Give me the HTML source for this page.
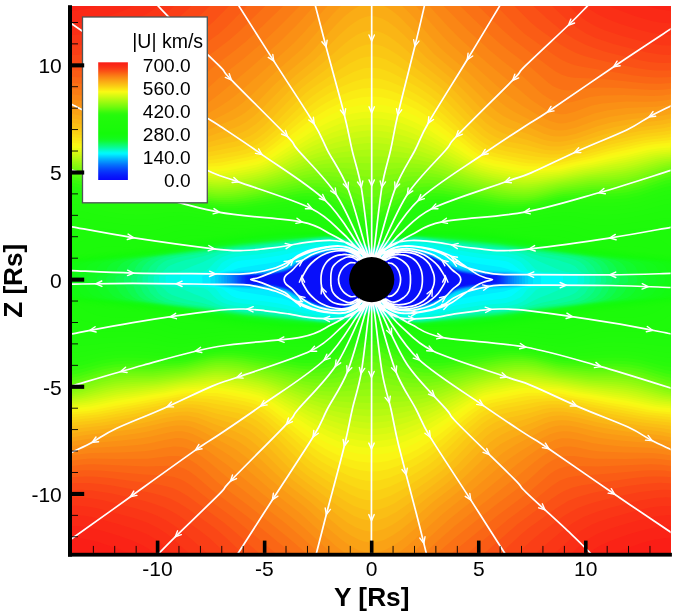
<!DOCTYPE html>
<html><head><meta charset="utf-8"><title>|U| km/s</title>
<style>html,body{margin:0;padding:0;background:#fff}body{width:685px;height:612px;position:relative;overflow:hidden}</style>
</head><body>
<svg width="685" height="612" viewBox="0 0 685 612" style="position:absolute;left:0;top:0">
<defs><clipPath id="pc"><rect x="70.0" y="5.9" width="600.6" height="549.0"/></clipPath>
<linearGradient id="lg" x1="0" y1="0" x2="0" y2="1"><stop offset="0.000" stop-color="#fa1c16"/><stop offset="0.010" stop-color="#fa2116"/><stop offset="0.020" stop-color="#fa2616"/><stop offset="0.030" stop-color="#fa2c16"/><stop offset="0.040" stop-color="#fa3216"/><stop offset="0.050" stop-color="#fa3a16"/><stop offset="0.060" stop-color="#fa4216"/><stop offset="0.070" stop-color="#fa4c16"/><stop offset="0.080" stop-color="#fa5615"/><stop offset="0.090" stop-color="#fa6115"/><stop offset="0.100" stop-color="#fa6c15"/><stop offset="0.110" stop-color="#fa7715"/><stop offset="0.120" stop-color="#fa8115"/><stop offset="0.130" stop-color="#fa8b15"/><stop offset="0.140" stop-color="#fa9415"/><stop offset="0.150" stop-color="#fa9e15"/><stop offset="0.160" stop-color="#faa715"/><stop offset="0.170" stop-color="#fab015"/><stop offset="0.180" stop-color="#fab915"/><stop offset="0.190" stop-color="#fac215"/><stop offset="0.200" stop-color="#facb14"/><stop offset="0.210" stop-color="#fad414"/><stop offset="0.220" stop-color="#fade14"/><stop offset="0.230" stop-color="#fae714"/><stop offset="0.240" stop-color="#faf014"/><stop offset="0.250" stop-color="#fafa14"/><stop offset="0.260" stop-color="#f0fa14"/><stop offset="0.270" stop-color="#e6fa13"/><stop offset="0.280" stop-color="#dbfa13"/><stop offset="0.290" stop-color="#d1fa12"/><stop offset="0.300" stop-color="#c6fa12"/><stop offset="0.310" stop-color="#bbfa11"/><stop offset="0.320" stop-color="#b0fa11"/><stop offset="0.330" stop-color="#a6fa10"/><stop offset="0.340" stop-color="#9bfa10"/><stop offset="0.350" stop-color="#90fa0f"/><stop offset="0.360" stop-color="#85fa0f"/><stop offset="0.370" stop-color="#7bfa0e"/><stop offset="0.380" stop-color="#70fa0e"/><stop offset="0.390" stop-color="#64fa0d"/><stop offset="0.400" stop-color="#58fa0d"/><stop offset="0.410" stop-color="#4afa0c"/><stop offset="0.420" stop-color="#3efa0c"/><stop offset="0.430" stop-color="#33fa0b"/><stop offset="0.440" stop-color="#2bfa0b"/><stop offset="0.450" stop-color="#26fa0b"/><stop offset="0.460" stop-color="#24fa0b"/><stop offset="0.470" stop-color="#22fa0b"/><stop offset="0.480" stop-color="#21fa0b"/><stop offset="0.490" stop-color="#20fa0b"/><stop offset="0.500" stop-color="#1efa0a"/><stop offset="0.510" stop-color="#1efa0a"/><stop offset="0.520" stop-color="#1dfa0a"/><stop offset="0.530" stop-color="#1cfa0a"/><stop offset="0.540" stop-color="#1bfa0a"/><stop offset="0.550" stop-color="#1bfa0a"/><stop offset="0.560" stop-color="#1afa0a"/><stop offset="0.570" stop-color="#19fa0a"/><stop offset="0.580" stop-color="#17fa0a"/><stop offset="0.590" stop-color="#16fa0a"/><stop offset="0.600" stop-color="#14fa0a"/><stop offset="0.610" stop-color="#14fa0c"/><stop offset="0.620" stop-color="#14fa0f"/><stop offset="0.630" stop-color="#13fa13"/><stop offset="0.640" stop-color="#13fa18"/><stop offset="0.650" stop-color="#12fa1e"/><stop offset="0.660" stop-color="#12fa27"/><stop offset="0.670" stop-color="#10fa35"/><stop offset="0.680" stop-color="#0ffa47"/><stop offset="0.690" stop-color="#0dfa5a"/><stop offset="0.700" stop-color="#0cfa6c"/><stop offset="0.710" stop-color="#0bfa7e"/><stop offset="0.720" stop-color="#09fa92"/><stop offset="0.730" stop-color="#07faa7"/><stop offset="0.740" stop-color="#05fabc"/><stop offset="0.750" stop-color="#04fad1"/><stop offset="0.760" stop-color="#02fae5"/><stop offset="0.770" stop-color="#01faf7"/><stop offset="0.780" stop-color="#00f2ff"/><stop offset="0.790" stop-color="#01e3ff"/><stop offset="0.800" stop-color="#01d4fe"/><stop offset="0.810" stop-color="#02c5fe"/><stop offset="0.820" stop-color="#02b6fe"/><stop offset="0.830" stop-color="#03a8fd"/><stop offset="0.840" stop-color="#039afd"/><stop offset="0.850" stop-color="#048dfd"/><stop offset="0.860" stop-color="#0480fc"/><stop offset="0.870" stop-color="#0473fc"/><stop offset="0.880" stop-color="#0567fc"/><stop offset="0.890" stop-color="#055cfc"/><stop offset="0.900" stop-color="#0651fc"/><stop offset="0.910" stop-color="#0647fb"/><stop offset="0.920" stop-color="#063dfb"/><stop offset="0.930" stop-color="#0734fb"/><stop offset="0.940" stop-color="#072cfb"/><stop offset="0.950" stop-color="#0725fb"/><stop offset="0.960" stop-color="#071efa"/><stop offset="0.970" stop-color="#0718fa"/><stop offset="0.980" stop-color="#0812fa"/><stop offset="0.990" stop-color="#080dfa"/><stop offset="1.000" stop-color="#0808fa"/></linearGradient></defs>
<g clip-path="url(#pc)" shape-rendering="geometricPrecision">
<rect x="70.0" y="5.9" width="600.6" height="549.0" fill="#080afa"/>
<path fill="#080ffa" d="M70.0 3.9 674.0 3.9 674.0 555.9 70.0 555.9Z"/>
<path fill="#0815fa" d="M70.0 3.9 674.0 3.9 674.0 555.9 70.0 555.9ZM332.0 251.8 330.0 253.6 324.0 253.8 322.0 255.6 317.3 255.9 316.0 257.2 312.0 257.8 310.0 259.7 308.0 259.8 306.0 261.6 303.7 261.9 302.0 263.6 300.0 263.8 296.0 267.1 293.7 267.9 292.0 269.6 290.5 269.9 288.0 271.7 285.8 271.9 284.0 273.5 278.0 273.8 277.4 273.9 276.0 275.2 274.0 275.5 250.2 275.9 249.8 281.9 262.0 282.6 264.0 283.0 266.0 284.0 278.0 284.4 279.9 285.9 286.0 286.3 287.6 287.9 290.0 288.3 294.1 291.9 296.0 292.2 297.7 293.9 300.0 294.5 301.4 295.9 304.0 296.6 305.3 297.9 308.0 298.7 309.2 299.9 312.0 300.4 313.5 301.9 316.0 302.1 318.3 303.9 324.0 304.3 326.0 306.0 332.0 306.1 334.0 306.6 335.3 307.9 342.0 308.0 344.0 306.1 347.3 305.9 350.0 304.0 351.0 303.9 352.0 302.9 355.0 301.9 356.0 300.9 358.0 300.1 360.4 299.9 362.0 298.3 367.0 297.9 368.0 296.9 370.0 296.1 372.0 296.0 374.0 296.1 376.0 298.0 380.0 298.1 382.0 298.8 383.1 299.9 386.0 300.1 388.0 302.0 390.0 302.1 392.0 304.0 394.0 304.1 396.0 306.0 400.0 306.2 401.7 307.9 408.0 308.0 410.0 306.3 418.0 306.0 420.0 304.2 424.6 303.9 426.0 302.5 430.3 301.9 432.0 300.2 434.3 299.9 436.0 298.2 438.0 298.0 440.0 296.2 442.3 295.9 444.0 294.2 446.0 294.0 450.0 290.3 452.0 290.0 454.0 288.2 456.3 287.9 458.0 286.2 463.1 285.9 464.0 285.0 466.0 284.3 478.0 283.9 480.0 282.8 482.0 282.5 493.4 281.9 493.4 277.9 492.7 275.9 470.0 275.6 468.0 275.4 465.9 273.9 460.0 273.6 458.0 273.0 456.9 271.9 454.0 271.4 450.0 267.8 448.0 267.6 446.3 265.9 443.4 263.9 442.0 263.7 440.0 261.8 438.0 261.7 436.2 259.9 434.0 259.7 431.9 257.9 428.0 257.6 426.0 255.8 422.0 255.7 420.0 253.9 414.0 253.7 412.0 252.8 411.1 251.9 400.0 251.8 398.0 253.7 395.6 253.9 394.0 255.5 391.6 255.9 390.0 257.5 387.5 257.9 386.0 259.4 381.5 259.9 380.0 261.4 374.0 261.8 372.0 263.7 370.0 263.2 368.7 261.9 364.0 261.6 362.0 259.8 358.0 259.6 356.3 257.9 354.0 257.7 352.0 255.8 350.0 255.7 348.2 253.9 346.0 253.7 344.0 251.8Z"/>
<path fill="#071bfa" d="M70.0 3.9 674.0 3.9 674.0 555.9 70.0 555.9ZM332.0 251.7 331.3 251.9 330.0 253.2 324.0 253.7 322.0 255.2 316.6 255.9 314.0 257.5 312.0 257.7 310.0 259.4 308.0 259.6 306.0 261.3 303.4 261.9 302.0 263.3 300.0 263.6 298.0 265.4 296.4 265.9 293.4 267.9 292.0 269.3 290.0 269.8 288.0 271.4 285.3 271.9 284.0 273.1 278.0 273.6 274.0 275.1 272.0 275.3 247.9 275.9 247.9 281.9 250.0 282.6 260.0 283.0 263.5 283.9 276.0 284.6 278.0 285.0 280.0 286.1 286.0 286.8 287.1 287.9 290.0 288.7 294.0 292.1 296.0 292.5 297.4 293.9 300.6 295.9 302.0 296.3 304.4 297.9 306.0 298.2 308.2 299.9 312.0 301.0 312.9 301.9 316.0 302.4 318.0 304.0 324.0 304.7 325.2 305.9 326.0 306.1 332.0 306.4 334.6 307.9 342.0 308.1 344.0 306.4 348.0 306.0 350.0 304.2 352.0 303.9 354.0 302.2 356.0 301.9 358.0 300.2 360.8 299.9 362.0 298.7 364.0 298.2 368.0 297.9 370.0 296.3 372.0 296.2 374.0 296.4 376.0 298.1 380.0 298.3 382.1 299.9 386.0 300.3 388.0 302.1 390.0 302.2 392.0 304.1 394.0 304.2 396.0 306.1 400.0 306.6 401.3 307.9 408.0 308.1 409.0 307.9 410.0 306.9 412.0 306.3 418.0 306.1 420.0 304.4 425.2 303.9 426.0 303.1 428.0 302.3 430.6 301.9 432.0 300.5 434.7 299.9 436.0 298.6 438.7 297.9 440.0 296.6 442.7 295.9 444.0 294.6 446.0 294.2 450.0 290.9 452.5 289.9 454.0 288.4 456.7 287.9 458.0 286.6 464.0 285.9 466.0 284.8 468.0 284.5 479.9 283.9 484.0 282.9 492.0 282.6 495.5 281.9 495.5 275.9 472.0 275.3 468.0 274.7 466.0 273.7 460.0 273.2 457.9 271.9 454.0 270.8 450.0 267.6 448.0 267.2 444.0 263.8 442.0 263.5 440.0 261.7 438.0 261.5 436.0 259.7 434.0 259.5 432.0 257.8 428.0 257.1 426.8 255.9 426.0 255.7 422.0 255.4 420.0 253.8 414.0 253.4 412.0 251.9 400.0 251.7 398.0 253.4 395.1 253.9 394.0 255.0 391.2 255.9 390.0 257.1 386.9 257.9 386.0 258.8 384.0 259.6 381.0 259.9 380.0 260.9 378.0 261.6 374.0 261.7 372.0 263.4 369.5 261.9 364.0 261.3 362.0 259.7 358.0 259.3 356.6 257.9 354.0 257.5 352.0 255.7 350.0 255.4 348.5 253.9 346.0 253.5 344.0 251.7Z"/>
<path fill="#0721fb" d="M70.0 3.9 674.0 3.9 674.0 555.9 70.0 555.9ZM332.0 251.6 330.9 251.9 330.0 252.8 328.0 253.4 324.0 253.6 323.0 253.9 322.0 254.9 316.0 255.9 314.0 257.3 312.0 257.5 310.0 259.1 308.0 259.5 306.0 261.1 303.1 261.9 302.0 263.0 300.0 263.5 298.0 265.2 296.0 265.8 292.0 269.0 290.0 269.6 288.0 271.2 284.8 271.9 284.0 272.6 278.0 273.4 272.0 275.0 246.5 275.9 246.5 281.9 248.0 282.8 250.0 283.2 258.0 283.4 266.0 284.3 274.0 284.7 276.0 284.9 280.0 286.3 284.0 286.7 290.0 289.1 294.0 292.2 296.0 292.8 300.0 295.9 302.0 296.5 304.0 298.0 306.0 298.4 308.0 300.0 310.0 300.4 312.3 301.9 316.0 302.6 318.0 304.1 322.0 304.4 324.0 305.1 324.8 305.9 326.0 306.2 332.0 306.7 334.0 307.9 342.0 308.2 344.0 306.6 348.0 306.1 350.0 304.3 352.0 304.0 354.0 302.3 356.0 302.0 358.0 300.4 361.3 299.9 362.0 299.2 364.0 298.4 368.0 298.0 370.0 296.5 372.0 296.3 374.0 296.7 376.0 298.2 380.0 298.5 382.0 300.0 386.0 300.5 388.0 302.2 390.0 302.4 392.0 304.2 394.0 304.4 396.0 306.2 398.0 306.3 400.0 307.0 400.9 307.9 408.0 308.2 409.5 307.9 412.0 306.6 418.0 306.2 420.0 304.7 425.8 303.9 428.0 302.5 430.9 301.9 432.0 300.8 435.1 299.9 436.0 299.0 439.1 297.9 440.0 297.0 443.1 295.9 444.0 295.0 446.0 294.3 448.0 292.6 452.8 289.9 454.0 288.7 457.1 287.9 458.0 287.0 464.0 286.1 468.0 284.8 478.0 284.3 486.0 283.3 494.0 283.1 496.0 282.6 496.9 281.9 496.9 275.9 472.0 275.0 466.0 273.5 460.0 272.8 458.5 271.9 456.0 271.3 452.0 269.3 450.6 267.9 448.0 266.8 444.0 263.7 442.0 263.3 440.0 261.6 438.0 261.3 436.0 259.5 434.0 259.3 432.0 257.6 428.0 256.7 427.2 255.9 426.0 255.5 422.0 255.1 420.0 253.6 414.0 253.1 412.0 251.8 400.0 251.6 398.0 253.1 394.6 253.9 394.0 254.5 390.8 255.9 390.0 256.7 386.3 257.9 384.0 259.4 380.4 259.9 378.0 261.4 374.0 261.6 372.0 263.2 370.0 261.9 366.0 261.4 364.0 260.9 363.0 259.9 362.0 259.6 358.0 259.0 356.9 257.9 354.0 257.2 352.0 255.6 350.0 255.2 348.0 253.6 346.0 253.4 344.0 251.6Z"/>
<path fill="#0729fb" d="M70.0 3.9 674.0 3.9 674.0 555.9 70.0 555.9ZM332.0 251.5 328.0 253.2 324.0 253.4 320.0 255.2 316.0 255.7 314.0 257.1 312.0 257.4 310.0 258.9 308.0 259.3 306.0 260.8 302.8 261.9 302.0 262.7 300.0 263.3 298.0 264.9 296.0 265.6 292.0 268.7 290.0 269.4 288.0 270.9 282.0 272.9 278.0 273.3 270.0 274.9 250.0 275.4 245.2 275.9 245.2 281.9 246.0 283.0 248.0 283.7 274.0 284.9 280.0 286.4 284.0 286.9 290.0 289.6 294.0 292.4 296.0 293.2 300.0 296.1 302.0 296.6 304.0 298.1 306.0 298.6 308.0 300.1 310.0 300.6 312.0 302.0 316.0 302.9 318.0 304.3 322.0 304.6 326.0 306.4 332.0 307.0 334.0 308.0 342.0 308.3 343.0 307.9 344.0 306.9 348.0 306.2 350.0 304.5 352.0 304.1 354.0 302.5 356.0 302.1 358.0 300.6 361.8 299.9 364.0 298.6 368.0 298.1 370.0 296.7 372.0 296.5 374.0 297.0 376.0 298.3 380.0 298.7 382.0 300.1 386.0 300.8 388.0 302.3 390.0 302.6 392.0 304.3 394.0 304.6 396.0 306.3 398.0 306.5 400.5 307.9 402.0 308.3 408.0 308.3 410.0 307.9 412.0 306.8 418.0 306.3 419.1 305.9 420.0 305.0 426.0 304.0 428.0 302.7 431.3 301.9 432.0 301.2 435.5 299.9 443.4 295.9 453.1 289.9 454.0 289.0 456.0 288.5 458.0 287.4 470.0 284.9 496.0 283.6 498.2 281.9 498.2 275.9 494.0 275.4 474.0 274.9 460.0 272.5 459.1 271.9 456.0 271.1 452.0 269.0 450.8 267.9 448.0 266.4 444.0 263.5 442.0 263.0 440.0 261.4 438.0 261.1 436.0 259.4 434.0 259.1 432.0 257.5 430.0 257.3 426.0 255.4 422.0 254.8 420.0 253.5 414.0 252.8 412.0 251.6 400.0 251.5 399.0 251.9 398.0 252.9 394.1 253.9 392.0 255.4 390.4 255.9 388.0 257.4 386.0 257.8 384.0 259.2 380.0 259.9 378.0 261.2 374.0 261.5 372.0 262.9 370.0 261.7 366.0 261.3 362.0 259.4 360.0 259.3 358.0 258.7 357.2 257.9 354.0 257.0 352.0 255.4 350.0 255.0 348.0 253.5 346.0 253.2 344.0 251.5Z"/>
<path fill="#0730fb" d="M70.0 3.9 674.0 3.9 674.0 555.9 70.0 555.9ZM332.0 251.4 328.0 253.0 324.0 253.3 320.0 255.0 316.0 255.6 314.0 256.9 312.0 257.3 310.0 258.6 308.0 259.2 300.0 263.2 288.0 270.7 282.0 272.6 270.0 274.6 250.0 275.2 243.9 275.9 243.9 281.9 244.8 283.9 258.0 284.1 272.0 285.0 284.0 287.2 292.0 290.9 300.0 296.3 302.0 296.8 304.0 298.3 306.0 298.8 308.0 300.3 310.0 300.7 312.0 302.1 316.0 303.1 318.0 304.4 322.0 304.8 326.0 306.5 330.0 306.8 334.0 308.2 342.0 308.4 344.0 307.2 348.0 306.3 350.0 304.6 352.0 304.3 354.0 302.6 356.0 302.3 358.0 300.8 362.0 300.0 364.0 298.8 368.0 298.3 370.0 297.0 372.0 296.6 376.0 298.4 380.0 298.9 382.0 300.3 386.0 301.0 388.0 302.5 390.0 302.8 392.0 304.4 394.0 304.8 396.0 306.4 398.0 306.6 400.1 307.9 402.0 308.4 408.0 308.4 410.4 307.9 412.0 307.1 418.0 306.4 420.0 305.3 426.0 304.1 428.0 302.9 430.0 302.6 443.8 295.9 454.0 289.3 460.0 287.1 472.0 284.9 486.0 284.1 498.6 283.9 499.6 281.9 499.6 275.9 494.0 275.2 474.0 274.7 462.0 272.7 456.0 270.9 452.0 268.8 444.0 263.4 442.0 262.8 440.0 261.3 438.0 260.8 436.0 259.3 434.0 258.9 432.0 257.4 430.0 257.1 426.0 255.3 422.0 254.6 420.0 253.4 416.0 253.1 412.0 251.5 400.0 251.4 398.0 252.6 394.0 253.8 392.0 255.2 390.0 255.9 388.0 257.2 386.0 257.7 384.0 259.0 380.0 259.7 378.0 261.0 374.0 261.4 372.0 262.7 370.0 261.6 366.0 261.1 362.0 259.3 360.0 259.2 357.6 257.9 354.0 256.8 353.1 255.9 350.0 254.7 349.2 253.9 346.0 253.0 344.0 251.4Z"/>
<path fill="#0639fb" d="M70.0 3.9 674.0 3.9 674.0 555.9 70.0 555.9ZM330.0 251.8 328.0 252.8 324.0 253.2 320.0 254.8 316.0 255.5 314.0 256.7 312.0 257.1 300.0 263.0 288.0 270.4 282.0 272.3 268.0 274.5 248.0 275.1 242.4 275.9 242.4 281.9 242.8 283.9 258.0 284.3 272.0 285.2 284.0 287.5 288.0 289.0 292.0 291.1 300.0 296.4 302.0 297.0 304.0 298.4 306.0 299.0 308.0 300.4 310.0 300.9 312.0 302.2 316.0 303.4 318.0 304.5 322.0 305.0 326.0 306.6 330.0 306.9 334.0 308.3 342.0 308.5 346.0 306.7 348.0 306.4 350.0 304.8 352.0 304.4 354.0 302.8 356.0 302.4 358.0 300.9 362.0 300.1 364.0 298.9 368.0 298.4 370.0 297.2 372.0 296.8 376.0 298.6 380.0 299.1 382.0 300.4 386.0 301.2 388.0 302.6 390.0 303.0 392.0 304.6 394.0 305.0 396.0 306.5 398.0 306.8 400.0 308.0 402.0 308.5 408.0 308.5 414.0 306.8 418.0 306.6 422.0 304.9 426.0 304.3 428.0 303.1 430.0 302.7 444.0 296.0 454.0 289.6 460.0 287.3 472.0 285.2 484.0 284.4 500.0 284.0 500.6 283.9 501.0 281.9 501.0 275.9 494.0 275.0 474.0 274.4 462.0 272.5 456.0 270.7 452.0 268.6 444.0 263.2 442.0 262.6 440.0 261.1 438.0 260.6 436.0 259.1 434.0 258.7 432.0 257.3 430.0 256.9 426.0 255.1 422.0 254.3 420.0 253.3 416.0 252.9 412.0 251.4 400.0 251.3 396.0 253.2 394.0 253.7 392.0 255.1 390.0 255.8 388.0 257.1 386.0 257.6 384.0 258.9 380.0 259.6 378.0 260.8 374.0 261.3 372.0 262.4 370.0 261.5 366.0 261.0 362.0 259.2 360.0 259.0 354.0 256.5 348.0 253.2 346.0 252.8 344.0 251.3 332.0 251.3Z"/>
<path fill="#0642fb" d="M70.0 3.9 674.0 3.9 674.0 555.9 70.0 555.9ZM330.0 251.7 328.0 252.6 324.0 253.1 320.0 254.7 316.0 255.3 314.0 256.5 312.0 257.0 300.0 262.9 288.0 270.2 282.0 272.0 268.0 274.3 248.0 274.9 241.0 275.9 241.0 281.9 241.2 283.9 242.0 284.0 270.0 285.3 284.0 287.7 288.0 289.2 292.0 291.3 300.0 296.6 302.0 297.2 304.0 298.6 306.0 299.2 308.0 300.6 310.0 301.1 312.0 302.4 318.0 304.6 322.0 305.2 324.0 306.2 330.0 307.1 334.0 308.4 342.0 308.6 346.0 306.8 348.0 306.5 350.0 304.9 352.0 304.5 354.0 302.9 356.0 302.5 358.0 301.1 362.0 300.2 364.0 299.1 368.0 298.5 370.0 297.4 372.0 296.9 376.0 298.7 380.0 299.4 382.0 300.5 386.0 301.4 388.0 302.7 390.0 303.2 392.0 304.7 394.0 305.2 396.0 306.6 398.0 306.9 400.0 308.1 402.0 308.6 408.0 308.6 414.0 307.0 418.0 306.7 422.0 305.0 426.0 304.4 428.0 303.3 432.0 302.0 444.0 296.2 454.0 289.9 460.0 287.5 472.0 285.4 484.0 284.6 498.0 284.4 502.2 283.9 502.4 275.9 496.0 275.0 476.0 274.4 462.0 272.2 456.0 270.5 452.0 268.4 444.0 263.1 442.0 262.4 440.0 261.0 438.0 260.4 436.0 259.0 434.0 258.5 432.0 257.1 430.0 256.7 426.0 255.0 424.0 254.8 420.0 253.2 416.0 252.7 412.0 251.3 400.0 251.2 394.0 253.6 392.0 255.0 390.0 255.6 388.0 257.0 386.0 257.4 384.0 258.7 380.0 259.5 378.0 260.6 374.0 261.2 372.0 262.1 370.0 261.4 366.0 260.8 362.0 259.1 360.0 258.8 354.0 256.3 348.0 253.1 346.0 252.6 344.0 251.2 332.0 251.2Z"/>
<path fill="#064cfb" d="M70.0 3.9 674.0 3.9 674.0 555.9 70.0 555.9ZM330.0 251.6 328.0 252.4 322.0 253.5 320.0 254.5 316.0 255.2 314.0 256.3 312.0 256.9 300.0 262.7 288.0 270.0 281.6 271.9 268.0 274.1 248.0 274.8 239.7 275.9 239.8 283.9 246.0 284.6 258.0 284.7 270.0 285.4 283.7 287.9 288.0 289.4 292.0 291.5 300.0 296.7 306.0 299.4 308.0 300.7 310.0 301.3 312.0 302.5 318.0 304.7 322.0 305.4 324.0 306.3 330.0 307.3 334.0 308.5 342.0 308.7 346.0 306.9 348.0 306.6 350.0 305.1 352.0 304.6 354.0 303.1 356.0 302.6 358.0 301.3 362.0 300.4 364.0 299.3 368.0 298.6 372.0 297.1 376.0 298.8 378.0 299.0 382.0 300.6 386.0 301.6 388.0 302.8 390.0 303.4 392.0 304.8 394.0 305.4 396.0 306.7 398.0 307.1 400.0 308.3 402.0 308.7 408.0 308.7 414.0 307.2 418.0 306.8 422.0 305.2 426.0 304.5 428.0 303.5 432.0 302.2 444.0 296.3 454.4 289.9 460.0 287.8 472.0 285.6 484.0 284.8 498.0 284.6 503.6 283.9 503.7 275.9 496.0 274.8 476.0 274.1 462.0 272.0 456.0 270.3 452.0 268.1 444.0 262.9 438.0 260.2 436.0 258.9 434.0 258.3 432.0 257.0 430.0 256.6 428.0 255.5 424.0 254.6 420.0 253.1 416.0 252.6 412.0 251.2 400.0 251.1 394.0 253.4 392.0 254.8 390.0 255.5 388.0 256.8 386.0 257.3 384.0 258.5 380.0 259.3 378.0 260.4 374.0 261.1 372.0 261.9 366.0 260.6 362.0 259.0 360.0 258.7 348.0 253.0 346.0 252.4 344.0 251.1 332.0 251.1Z"/>
<path fill="#0556fc" d="M70.0 3.9 674.0 3.9 674.0 555.9 70.0 555.9ZM330.0 251.4 328.0 252.2 322.0 253.4 320.0 254.3 316.0 255.1 302.0 261.5 287.6 269.9 280.8 271.9 267.4 273.9 246.0 274.7 238.4 275.9 238.4 283.9 244.0 284.7 258.0 284.9 270.0 285.6 283.0 287.9 288.0 289.5 300.0 296.9 312.0 302.7 318.0 304.9 334.0 308.6 342.0 308.8 346.0 307.1 348.0 306.7 350.0 305.2 352.0 304.7 354.0 303.2 356.0 302.7 358.0 301.5 362.0 300.5 364.0 299.5 368.0 298.7 372.0 297.2 376.0 298.9 378.0 299.1 386.0 301.9 390.0 303.6 396.0 306.8 398.0 307.2 400.0 308.4 402.0 308.8 408.0 308.8 414.0 307.3 418.0 306.9 422.0 305.4 426.0 304.7 432.0 302.4 444.0 296.5 454.8 289.9 460.4 287.9 474.0 285.6 484.0 285.0 498.0 284.8 505.0 283.9 505.1 275.9 498.0 274.7 476.0 273.9 462.6 271.9 456.0 270.1 452.0 267.9 444.0 262.8 432.0 256.9 420.0 252.9 416.0 252.4 412.0 251.1 400.0 251.0 394.0 253.3 392.0 254.7 384.0 258.3 372.0 261.7 366.0 260.5 364.0 259.5 360.0 258.5 344.0 251.0 336.0 250.8 332.0 251.0Z"/>
<path fill="#0561fc" d="M70.0 3.9 674.0 3.9 674.0 555.9 70.0 555.9ZM330.0 251.3 316.0 254.9 310.0 257.5 302.0 261.3 291.0 267.9 286.0 270.3 279.9 271.9 265.1 273.9 244.0 274.6 240.0 275.1 237.0 275.9 237.0 283.9 244.0 284.9 258.0 285.1 270.0 285.8 282.0 287.9 288.0 289.7 300.0 297.1 312.0 302.8 318.0 305.0 334.0 308.7 342.0 308.9 346.0 307.2 348.0 306.8 350.0 305.4 352.0 304.8 354.0 303.4 356.0 302.9 358.0 301.6 372.0 297.4 376.0 299.0 378.0 299.2 385.7 301.9 396.0 307.0 398.0 307.4 400.0 308.5 404.0 308.9 410.0 308.6 414.0 307.5 418.0 307.0 422.0 305.5 426.0 304.8 432.0 302.5 444.0 296.7 455.2 289.9 461.3 287.9 474.0 285.8 484.0 285.2 500.0 284.9 506.4 283.9 506.4 275.9 502.0 274.9 498.0 274.5 478.3 273.9 464.0 272.0 458.0 270.5 452.4 267.9 444.0 262.6 432.0 256.7 430.0 256.2 428.0 255.2 424.0 254.3 420.0 252.8 416.0 252.2 412.0 251.0 404.0 250.6 400.0 250.9 394.0 253.2 392.0 254.6 384.0 258.2 372.0 261.6 366.0 260.3 364.0 259.3 360.0 258.4 344.0 250.9 336.0 250.7Z"/>
<path fill="#056dfc" d="M70.0 3.9 674.0 3.9 674.0 555.9 70.0 555.9ZM328.0 251.8 316.0 254.8 310.0 257.3 302.0 261.1 290.7 267.9 286.0 270.1 278.8 271.9 268.0 273.3 260.0 274.0 242.0 274.5 236.0 275.7 235.5 275.9 235.5 283.9 244.0 285.1 258.0 285.3 268.5 285.9 281.2 287.9 287.9 289.9 300.0 297.2 312.0 303.0 318.0 305.1 321.9 305.9 324.0 306.7 334.0 308.9 342.0 309.0 346.0 307.3 348.0 306.9 350.0 305.5 352.0 304.9 354.0 303.5 356.0 303.0 358.0 301.8 372.0 297.5 374.0 298.5 378.0 299.4 385.4 301.9 400.0 308.6 404.0 309.1 410.0 308.8 414.0 307.7 418.0 307.1 422.0 305.7 426.0 305.0 432.0 302.7 444.0 296.9 455.6 289.9 462.1 287.9 475.0 285.9 500.0 285.1 507.9 283.9 507.9 275.9 506.0 275.2 500.0 274.4 480.0 273.8 464.6 271.9 458.0 270.3 452.7 267.9 444.0 262.4 432.0 256.6 428.0 255.0 424.0 254.1 420.0 252.7 416.0 252.1 412.0 250.8 404.0 250.5 400.0 250.8 394.0 253.1 392.0 254.4 384.0 258.0 372.0 261.4 366.0 260.1 364.0 259.2 360.0 258.2 344.0 250.8 340.0 250.5 332.0 250.7Z"/>
<path fill="#0479fc" d="M70.0 3.9 674.0 3.9 674.0 555.9 70.0 555.9ZM328.0 251.6 316.0 254.7 310.0 257.1 298.0 263.0 290.3 267.9 286.0 270.0 277.7 271.9 268.0 273.0 258.3 273.9 242.0 274.2 236.0 275.1 233.7 275.9 233.8 283.9 242.0 285.2 265.8 285.9 280.2 287.9 287.3 289.9 300.0 297.4 312.0 303.1 318.0 305.2 332.0 308.6 336.0 309.1 342.0 309.1 348.0 307.0 350.0 305.7 352.0 305.1 354.0 303.7 356.0 303.1 358.2 301.9 372.0 297.7 374.0 298.6 378.0 299.5 385.0 301.9 400.0 308.8 404.0 309.2 410.0 308.9 426.0 305.1 432.0 302.9 444.0 297.1 452.1 291.9 455.9 289.9 463.2 287.9 477.6 285.9 502.0 285.2 509.6 283.9 509.7 275.9 508.0 275.3 502.0 274.2 485.2 273.9 474.0 272.9 465.7 271.9 458.0 270.1 453.1 267.9 444.0 262.3 432.0 256.5 428.0 254.9 412.0 250.7 404.0 250.4 400.0 250.7 394.0 252.9 388.0 256.3 383.8 257.9 372.0 261.2 366.0 260.0 364.0 259.0 360.0 258.1 344.0 250.7 340.0 250.4 332.0 250.6Z"/>
<path fill="#0486fd" d="M70.0 3.9 674.0 3.9 674.0 555.9 70.0 555.9ZM328.0 251.4 316.0 254.5 310.0 256.9 298.0 262.8 290.0 267.9 285.3 269.9 276.3 271.9 272.0 272.4 258.0 273.6 240.0 274.0 234.0 275.1 231.7 275.9 231.7 283.9 240.0 285.4 262.6 285.9 278.9 287.9 286.7 289.9 290.7 291.9 300.0 297.5 312.0 303.3 318.0 305.4 332.0 308.8 340.0 309.3 344.0 308.7 346.0 307.6 348.0 307.1 354.0 303.8 358.6 301.9 372.0 297.8 374.0 298.8 378.0 299.7 384.7 301.9 400.0 308.9 404.0 309.3 410.0 309.0 426.0 305.2 432.0 303.0 444.0 297.3 456.0 290.2 464.0 288.0 480.8 285.9 504.0 285.3 511.7 283.9 511.7 275.9 510.0 275.2 504.0 274.0 484.0 273.5 470.0 272.2 458.0 269.9 453.5 267.9 442.0 261.0 432.0 256.3 428.0 254.7 422.0 253.0 412.0 250.6 404.0 250.3 398.0 251.1 396.0 252.3 394.0 252.8 392.0 254.2 390.0 254.8 388.0 256.1 377.1 259.9 372.0 261.1 366.2 259.9 364.0 258.9 360.0 257.9 344.0 250.6 340.0 250.3 332.0 250.5Z"/>
<path fill="#0393fd" d="M70.0 3.9 674.0 3.9 674.0 555.9 70.0 555.9ZM328.0 251.2 316.0 254.4 310.0 256.7 298.0 262.6 289.4 267.9 284.3 269.9 274.0 271.9 258.0 273.2 238.0 273.7 232.0 274.9 229.5 275.9 229.5 283.9 238.0 285.5 258.0 285.9 268.0 286.8 277.4 287.9 286.0 289.9 290.3 291.9 302.0 298.8 312.0 303.4 316.0 304.9 324.0 307.2 332.0 308.9 340.0 309.4 344.0 308.8 359.1 301.9 372.0 298.1 374.0 299.0 378.0 299.8 380.0 300.7 384.0 301.8 400.0 309.0 404.0 309.4 410.0 309.1 420.0 307.0 432.0 303.2 444.0 297.5 453.1 291.9 458.0 289.7 465.9 287.9 476.0 286.8 486.0 285.9 504.0 285.6 510.0 284.8 513.9 283.9 513.9 275.9 512.0 275.1 506.0 273.8 484.0 273.2 470.0 272.0 459.1 269.9 453.9 267.9 446.0 263.0 434.0 257.0 428.0 254.6 412.0 250.5 404.0 250.1 398.0 250.9 396.0 252.1 394.0 252.7 392.0 254.0 390.0 254.7 388.0 256.0 376.6 259.9 372.0 260.9 366.7 259.9 364.0 258.7 360.5 257.9 344.0 250.5 336.0 250.2 332.0 250.4Z"/>
<path fill="#03a1fd" d="M70.0 3.9 674.0 3.9 674.0 555.9 70.0 555.9ZM326.0 251.7 316.0 254.3 310.0 256.5 298.0 262.4 288.8 267.9 283.0 269.9 271.9 271.9 258.0 272.9 238.0 273.4 232.3 273.9 230.0 274.6 227.0 275.9 227.0 283.9 236.0 285.7 258.0 286.3 270.0 287.3 275.4 287.9 285.0 289.9 289.9 291.9 302.0 299.0 312.0 303.6 316.0 305.1 319.8 305.9 322.0 306.8 332.0 309.1 340.0 309.5 344.0 309.0 359.5 301.9 364.0 300.7 365.6 299.9 372.0 298.3 384.0 301.9 394.0 306.7 400.0 309.2 404.0 309.5 410.0 309.3 420.0 307.2 428.0 304.9 432.0 303.3 442.0 298.7 453.6 291.9 458.4 289.9 468.0 287.9 472.0 287.5 484.0 286.4 506.0 285.8 512.0 285.0 516.4 283.9 516.4 275.9 512.0 274.1 504.0 273.3 486.0 272.9 472.0 271.9 460.4 269.9 454.6 267.9 446.0 262.7 434.0 256.8 428.0 254.4 414.0 250.7 404.0 250.0 398.0 250.8 387.8 255.9 376.2 259.9 372.0 260.7 367.2 259.9 364.0 258.6 361.0 257.9 356.0 256.0 350.0 252.8 344.0 250.4 340.0 250.0 332.0 250.3Z"/>
<path fill="#02affd" d="M70.0 3.9 674.0 3.9 674.0 555.9 70.0 555.9ZM338.0 249.9 328.0 250.8 314.0 254.7 300.0 261.0 288.1 267.9 281.4 269.9 268.4 271.9 258.0 272.5 240.0 272.9 232.0 273.5 228.8 273.9 224.3 275.9 224.3 283.9 233.6 285.9 264.0 287.1 272.8 287.9 283.6 289.9 289.1 291.9 298.0 297.2 310.0 303.0 316.0 305.3 330.0 308.9 336.0 309.6 344.0 309.1 359.9 301.9 364.0 300.9 366.1 299.9 372.0 298.6 383.4 301.9 388.4 303.9 394.0 306.9 400.0 309.3 406.0 309.6 412.0 309.2 422.0 306.8 428.0 305.1 432.0 303.5 442.0 299.0 454.2 291.9 459.8 289.9 470.6 287.9 480.0 287.1 509.8 285.9 514.0 285.3 519.1 283.9 519.1 275.9 514.6 273.9 504.0 272.9 486.0 272.6 475.0 271.9 462.0 269.9 455.3 267.9 444.0 261.4 430.0 254.9 424.0 253.0 414.0 250.5 404.0 249.8 398.0 250.6 387.3 255.9 382.0 257.9 378.0 258.8 375.7 259.9 372.0 260.6 367.7 259.9 366.0 259.0 361.5 257.9 356.0 255.9 346.0 250.9 344.0 250.3Z"/>
<path fill="#02bdfe" d="M70.0 3.9 674.0 3.9 674.0 555.9 70.0 555.9ZM336.0 249.7 328.0 250.6 314.0 254.5 300.0 260.7 287.2 267.9 279.5 269.9 263.8 271.9 232.0 273.1 225.4 273.9 221.4 275.9 221.4 283.9 224.0 284.7 229.1 285.9 236.0 286.6 258.0 287.1 269.4 287.9 281.9 289.9 288.4 291.9 300.0 298.6 314.0 304.9 330.0 309.1 338.0 309.7 344.0 309.3 346.7 307.9 350.0 306.8 355.4 303.9 360.6 301.9 364.0 301.1 366.7 299.9 372.0 298.9 376.7 299.9 378.0 300.7 382.8 301.9 388.1 303.9 394.0 307.1 400.0 309.4 406.0 309.7 412.0 309.3 422.0 307.1 430.0 304.7 442.0 299.2 455.1 291.9 461.5 289.9 474.0 287.9 512.0 286.2 516.0 285.6 522.0 283.9 522.0 275.9 518.0 273.9 506.0 272.7 479.6 271.9 463.9 269.9 456.1 267.9 452.1 265.9 444.0 261.0 430.0 254.7 416.0 250.7 404.0 249.5 398.0 250.5 386.9 255.9 381.3 257.9 378.0 258.6 375.1 259.9 372.0 260.4 368.3 259.9 366.0 258.8 362.0 257.9 360.0 256.9 356.5 255.9 352.1 253.9 350.0 252.5 347.9 251.9 346.0 250.7 340.0 249.5Z"/>
<path fill="#02ccfe" d="M70.0 3.9 674.0 3.9 674.0 555.9 70.0 555.9ZM334.0 249.7 326.0 250.8 323.1 251.9 318.0 252.8 315.7 253.9 312.0 254.8 310.3 255.9 308.0 256.6 298.0 261.4 290.5 265.9 286.0 267.9 277.1 269.9 258.0 271.8 238.0 272.3 228.0 273.0 221.9 273.9 218.5 275.9 218.5 283.9 222.0 285.1 225.0 285.9 232.0 286.7 264.5 287.9 279.8 289.9 287.3 291.9 300.0 299.1 314.0 305.2 317.3 305.9 320.0 307.0 325.2 307.9 328.0 309.0 336.0 309.8 344.0 309.5 346.0 308.8 347.1 307.9 350.0 307.1 351.5 305.9 354.0 305.1 355.8 303.9 360.0 302.7 361.2 301.9 366.0 300.8 367.4 299.9 372.0 299.2 376.1 299.9 378.0 301.0 382.2 301.9 384.0 302.9 387.6 303.9 390.0 305.4 392.0 305.9 394.0 307.3 396.3 307.9 398.0 309.1 404.0 309.8 414.0 309.3 418.2 307.9 424.0 306.9 426.0 305.9 430.0 305.0 431.8 303.9 434.0 303.3 444.0 298.8 451.9 293.9 455.9 291.9 463.6 289.9 478.9 287.9 512.0 286.6 518.4 285.9 524.9 283.9 524.9 275.9 521.5 273.9 508.0 272.4 484.0 271.7 466.3 269.9 458.0 268.1 453.0 265.9 444.0 260.6 437.6 257.9 436.0 256.8 433.1 255.9 432.0 255.1 427.7 253.9 426.0 252.9 420.3 251.9 416.0 250.5 406.0 249.1 402.0 249.4 396.0 251.1 395.0 251.9 392.0 252.9 390.8 253.9 388.0 254.8 386.4 255.9 382.0 257.1 380.7 257.9 376.0 258.9 374.5 259.9 372.0 260.2 369.0 259.9 366.0 258.5 362.8 257.9 360.0 256.6 357.1 255.9 350.0 252.3 348.3 251.9 346.0 250.5 340.0 249.1Z"/>
<path fill="#01dbfe" d="M70.0 3.9 674.0 3.9 674.0 555.9 70.0 555.9ZM332.0 249.8 324.0 250.9 322.1 251.9 318.0 252.4 316.0 253.0 314.7 253.9 312.0 254.4 309.4 255.9 306.0 257.0 304.8 257.9 302.0 258.7 300.5 259.9 298.0 260.7 296.6 261.9 289.4 265.9 284.1 267.9 278.0 268.7 272.0 270.0 226.0 272.8 218.5 273.9 215.2 275.9 215.3 283.9 220.0 285.6 232.0 287.2 255.3 287.9 276.0 289.8 280.0 291.0 286.0 291.9 288.0 293.1 290.4 293.9 292.0 295.2 294.1 295.9 296.0 297.4 300.0 299.5 301.5 299.9 304.0 301.4 306.1 301.9 308.0 303.3 310.7 303.9 312.0 304.9 316.4 305.9 318.0 306.9 324.2 307.9 326.0 308.9 328.0 309.3 338.0 310.0 344.0 309.6 346.0 309.1 347.6 307.9 350.0 307.3 351.9 305.9 354.0 305.4 356.4 303.9 360.0 303.1 361.9 301.9 366.0 301.2 368.0 299.9 372.0 299.5 375.1 299.9 378.0 301.3 381.3 301.9 384.0 303.3 386.9 303.9 388.0 304.8 391.2 305.9 394.0 307.5 395.8 307.9 398.0 309.3 404.0 309.9 414.0 309.5 418.0 308.7 419.3 307.9 424.0 307.3 427.1 305.9 430.0 305.4 432.8 303.9 436.0 303.0 437.4 301.9 440.0 301.2 441.8 299.9 444.0 299.3 445.8 297.9 448.0 297.1 449.5 295.9 452.0 294.8 453.1 293.9 458.0 291.8 464.0 290.8 466.6 289.9 486.0 288.1 506.0 287.5 516.0 286.8 522.4 285.9 528.1 283.9 528.1 275.9 524.9 273.9 512.0 272.3 470.0 269.9 466.0 268.8 459.3 267.9 453.8 265.9 446.0 261.1 443.0 259.9 442.0 259.1 438.6 257.9 436.0 256.4 433.8 255.9 432.0 254.6 428.7 253.9 426.0 252.5 421.4 251.9 418.0 250.5 411.6 249.9 408.0 248.9 402.0 249.0 400.3 249.9 396.0 250.7 394.6 251.9 392.0 252.6 390.4 253.9 388.0 254.5 385.9 255.9 382.0 256.6 380.0 257.9 376.0 258.5 373.6 259.9 372.0 260.1 369.7 259.9 368.0 258.7 363.5 257.9 362.0 256.9 357.6 255.9 356.0 254.7 353.2 253.9 352.0 252.9 348.9 251.9 348.0 251.1 346.0 250.3 343.1 249.9 342.0 249.2 340.0 248.8 336.0 248.8Z"/>
<path fill="#01ebff" d="M70.0 3.9 674.0 3.9 674.0 555.9 70.0 555.9ZM330.0 249.9 324.0 250.3 320.4 251.9 316.0 252.3 313.1 253.9 310.0 254.5 308.1 255.9 306.0 256.2 303.1 257.9 300.0 258.9 290.6 263.9 286.0 265.7 280.0 267.1 261.0 269.9 240.0 270.6 222.0 272.7 214.8 273.9 210.5 275.9 210.5 283.9 217.2 285.9 224.0 287.0 236.8 287.9 244.0 288.8 265.4 289.9 278.9 291.9 288.0 294.3 292.0 296.1 294.0 297.4 295.6 297.9 298.0 299.6 299.8 299.9 302.0 301.4 304.2 301.9 306.0 303.1 309.1 303.9 312.0 305.6 314.6 305.9 318.0 307.5 322.4 307.9 326.0 309.4 333.5 309.9 338.0 310.8 340.0 310.7 341.8 309.9 346.0 309.5 348.1 307.9 350.0 307.6 352.9 305.9 356.0 305.0 357.4 303.9 360.0 303.5 363.4 301.9 366.0 301.6 369.7 299.9 372.0 299.8 374.1 299.9 376.0 301.3 380.3 301.9 382.0 303.1 386.2 303.9 388.0 305.3 390.5 305.9 392.0 307.1 394.9 307.9 398.0 309.6 401.5 309.9 404.0 310.7 406.0 310.7 409.8 309.9 416.0 309.6 418.0 309.3 421.1 307.9 426.0 307.4 428.7 305.9 432.0 305.4 433.9 303.9 436.0 303.7 439.2 301.9 442.0 301.1 443.8 299.9 446.0 299.2 447.9 297.9 456.0 294.0 464.5 291.9 478.0 289.9 498.0 288.9 520.0 286.9 526.2 285.9 532.9 283.9 532.9 275.9 528.6 273.9 506.0 270.8 482.4 269.9 466.0 267.7 456.0 265.2 448.8 261.9 442.0 258.2 440.0 257.9 438.0 256.4 435.6 255.9 432.0 254.1 429.9 253.9 428.0 252.5 423.2 251.9 420.0 250.4 413.6 249.9 410.0 248.6 402.0 248.5 399.2 249.9 396.0 250.4 394.1 251.9 392.0 252.3 389.7 253.9 386.0 254.9 384.6 255.9 382.0 256.2 378.5 257.9 374.0 258.7 372.0 259.9 368.0 258.2 364.9 257.9 362.0 256.4 358.7 255.9 356.0 254.3 353.7 253.9 352.0 252.5 349.5 251.9 348.0 250.6 343.9 249.9 342.0 248.7 338.0 248.3 334.0 248.6 332.0 248.9Z"/>
<path fill="#00faff" d="M70.0 3.9 674.0 3.9 674.0 555.9 70.0 555.9ZM322.0 249.6 316.0 250.7 308.0 252.8 288.0 259.3 280.0 261.2 268.0 263.5 242.0 267.4 238.0 268.3 233.2 269.9 228.0 270.7 223.7 271.9 209.3 273.9 202.3 275.9 202.5 283.9 218.0 286.8 227.8 287.9 240.0 291.5 268.4 295.9 280.0 298.1 288.0 300.0 310.0 307.1 318.0 309.0 328.0 310.7 334.0 311.4 340.0 311.5 344.5 309.9 348.0 309.1 349.9 307.9 352.0 307.5 354.7 305.9 360.9 303.9 372.0 301.5 382.5 303.9 388.7 305.9 392.0 307.7 394.0 308.1 396.0 309.5 398.9 309.9 402.0 311.3 408.0 311.5 414.0 310.9 426.0 308.9 432.0 307.4 454.0 300.5 462.0 298.4 474.0 296.1 504.0 291.4 515.6 287.9 524.0 287.0 541.0 283.9 541.1 275.9 534.1 273.9 519.7 271.9 516.0 270.9 510.3 269.9 506.0 268.4 500.0 267.1 476.0 263.6 464.0 261.3 456.0 259.4 434.0 252.4 428.0 250.8 418.0 249.0 410.0 248.0 402.0 248.1 400.0 248.4 397.4 249.9 396.0 250.0 387.4 253.9 372.0 257.9 362.8 255.9 355.9 253.9 352.0 252.0 351.0 251.9 348.0 250.1 346.0 249.9 344.0 248.7 342.0 248.1 332.0 248.1Z"/>
<path fill="#01faee" d="M70.0 3.9 674.0 3.9 674.0 555.9 70.0 555.9ZM322.0 245.9 310.2 247.9 288.0 253.8 278.0 255.8 262.0 258.3 245.8 259.9 238.0 261.1 235.2 261.9 232.0 263.5 223.4 269.9 218.1 271.9 194.0 274.7 180.3 275.9 180.3 281.9 181.4 283.9 200.0 285.1 220.6 287.9 224.1 289.9 232.0 295.9 236.7 297.9 242.0 298.9 266.0 301.5 280.0 303.8 288.0 305.5 303.7 309.9 316.0 312.5 328.0 314.0 336.0 313.9 340.0 313.4 346.0 311.7 356.0 308.1 372.0 304.2 388.0 308.3 398.0 311.9 404.0 313.5 412.0 314.0 420.0 313.5 430.9 311.9 444.0 308.8 456.0 305.3 466.0 303.4 480.0 301.2 500.0 299.1 506.0 298.1 511.4 295.9 519.3 289.9 522.8 287.9 544.0 285.0 562.0 283.9 563.1 281.9 563.1 275.9 548.0 274.6 525.3 271.9 520.1 269.9 512.2 263.9 508.2 261.9 506.0 261.3 497.5 259.9 480.0 258.1 464.0 255.6 456.0 254.0 433.2 247.9 422.0 245.9 412.0 245.4 402.0 246.2 386.0 251.6 372.0 255.1 356.0 251.2 344.0 246.9 340.0 245.9 332.0 245.4Z"/>
<path fill="#03fadb" d="M70.0 3.9 674.0 3.9 674.0 555.9 70.0 555.9ZM318.0 243.7 304.7 245.9 286.0 250.1 272.0 252.5 260.0 254.2 240.5 255.9 236.0 256.7 230.0 258.5 223.1 261.9 220.9 263.9 216.2 269.9 212.0 271.9 183.4 273.9 168.0 275.6 165.7 275.9 165.5 277.9 165.6 281.9 166.8 283.9 200.0 286.4 214.2 287.9 216.7 289.9 221.3 295.9 223.9 297.9 228.0 299.9 234.0 302.1 242.0 303.6 260.0 305.1 274.0 307.1 286.0 309.1 304.0 313.2 316.0 315.3 328.0 316.4 334.0 316.3 340.0 315.7 346.0 314.2 356.0 310.8 372.0 306.1 398.0 314.4 404.0 315.8 414.0 316.5 424.0 315.8 436.1 313.9 458.0 309.0 470.0 307.0 482.0 305.3 506.0 302.9 512.0 301.3 519.4 297.9 522.1 295.9 526.7 289.9 529.3 287.9 544.0 286.4 576.6 283.9 577.9 281.9 577.7 275.9 560.0 273.9 531.4 271.9 527.3 269.9 522.5 263.9 520.3 261.9 514.0 258.8 508.0 256.9 502.0 255.8 484.0 254.2 472.0 252.6 458.0 250.3 438.7 245.9 427.2 243.9 414.0 242.8 404.0 243.5 398.0 244.9 372.0 253.2 356.0 248.5 346.0 245.1 340.0 243.6 330.0 242.8Z"/>
<path fill="#05fac7" d="M70.0 3.9 674.0 3.9 674.0 555.9 70.0 555.9ZM316.0 241.8 272.0 249.2 260.0 250.7 242.0 252.2 232.0 253.8 224.8 255.9 220.5 257.9 215.0 261.9 209.2 267.9 206.6 269.9 201.5 271.9 174.0 273.4 166.0 274.5 159.2 275.9 159.1 281.9 160.2 283.9 166.0 284.8 184.0 286.6 203.4 287.9 207.4 289.9 209.7 291.9 213.2 295.9 218.2 299.9 221.4 301.9 228.0 304.4 238.0 306.6 264.0 309.0 286.0 312.3 304.8 315.9 318.7 317.9 328.0 318.4 337.4 317.9 346.0 316.1 372.0 307.6 383.9 311.9 396.8 315.9 402.0 317.2 406.0 317.9 412.0 318.4 422.0 318.1 438.6 315.9 456.0 312.5 476.0 309.5 502.0 307.1 510.0 305.8 517.2 303.9 522.0 301.9 525.2 299.9 530.1 295.9 536.0 289.9 540.0 287.9 558.0 286.7 578.0 284.7 583.2 283.9 584.3 281.9 584.2 275.9 576.0 274.3 568.0 273.3 541.9 271.9 536.0 269.3 534.2 267.9 528.4 261.9 522.9 257.9 516.0 255.1 506.0 252.8 480.0 250.3 458.0 247.2 441.5 243.9 428.7 241.9 416.0 240.9 410.0 241.1 402.0 242.1 382.3 247.9 372.0 251.7 348.3 243.9 340.5 241.9 328.0 240.9Z"/>
<path fill="#06fab2" d="M70.0 3.9 674.0 3.9 674.0 555.9 70.0 555.9ZM320.0 239.8 302.9 241.9 284.0 245.3 266.0 247.5 238.9 249.9 227.6 251.9 220.0 254.0 202.0 262.4 192.7 265.9 183.7 269.9 177.2 271.9 166.0 273.0 153.8 275.9 153.5 281.9 154.9 283.9 172.0 287.1 179.1 287.9 185.0 289.9 193.9 293.9 202.0 296.9 216.7 303.9 221.8 305.9 229.9 307.9 238.0 309.2 272.0 312.5 288.0 314.6 306.4 317.9 322.0 319.7 328.0 319.9 334.0 319.6 344.4 317.9 358.5 313.9 364.1 311.9 372.0 308.4 374.6 309.9 384.0 313.6 399.0 317.9 410.0 319.7 420.0 319.8 437.0 317.9 454.0 314.8 470.0 312.6 486.0 310.9 500.0 309.9 513.5 307.9 521.6 305.9 526.8 303.9 540.0 297.5 549.5 293.9 558.4 289.9 564.3 287.9 572.0 287.0 588.5 283.9 589.9 281.9 589.6 275.9 576.0 272.7 566.2 271.9 559.7 269.9 540.0 261.7 523.1 253.9 515.9 251.9 506.0 250.1 476.0 247.4 458.0 245.1 440.5 241.9 434.0 241.3 426.0 240.0 416.0 239.6 407.2 239.9 397.0 241.9 383.4 245.9 378.0 247.9 372.0 250.8 360.1 245.9 346.4 241.9 336.2 239.9 328.0 239.6Z"/>
<path fill="#08fa9d" d="M70.0 3.9 674.0 3.9 674.0 555.9 70.0 555.9ZM312.0 239.8 278.0 244.7 260.0 246.7 243.8 247.9 228.9 249.9 218.2 251.9 202.0 256.4 185.7 259.9 176.0 262.9 168.7 265.9 162.4 271.9 156.6 273.9 148.2 275.9 147.7 277.9 147.8 281.9 149.5 283.9 159.4 285.9 163.1 287.9 168.0 292.8 172.0 294.9 180.5 297.9 187.7 299.9 202.0 302.9 220.4 307.9 232.1 309.9 248.8 311.9 262.0 312.8 282.0 315.0 315.2 319.9 328.0 320.5 339.0 319.9 344.0 318.6 348.6 317.9 362.1 313.9 372.0 309.0 377.1 311.9 386.0 315.5 394.7 317.9 400.0 318.7 404.3 319.9 416.0 320.5 426.0 320.1 443.3 317.9 462.0 315.0 482.0 312.8 494.6 311.9 511.2 309.9 523.0 307.9 542.0 302.7 556.0 299.8 568.9 295.9 574.0 293.7 576.5 291.9 580.3 287.9 584.0 285.9 593.9 283.9 595.6 281.9 595.6 277.9 595.2 275.9 586.8 273.9 580.9 271.9 574.7 265.9 570.2 263.9 557.7 259.9 542.0 256.5 525.2 251.9 514.5 249.9 499.6 247.9 484.0 246.7 466.0 244.8 432.1 239.9 416.0 238.7 401.5 239.9 398.0 241.0 392.8 241.9 380.0 245.9 372.0 250.0 370.0 249.5 363.2 245.9 358.0 243.9 342.0 239.9 328.0 238.7Z"/>
<path fill="#0afa88" d="M70.0 3.9 674.0 3.9 674.0 555.9 70.0 555.9ZM308.0 239.7 284.0 243.1 236.3 247.9 222.8 249.9 206.0 253.0 185.0 255.9 175.0 257.9 167.7 259.9 163.5 261.9 158.5 265.9 154.7 271.9 150.8 273.9 143.0 275.9 142.4 277.9 142.4 281.9 144.2 283.9 153.0 285.9 155.2 287.9 157.5 291.9 159.2 293.9 162.0 296.3 166.0 298.6 169.4 299.9 177.3 301.9 187.9 303.9 208.0 306.7 226.1 309.9 240.2 311.9 286.0 316.5 310.7 319.9 328.0 321.1 341.9 319.9 346.0 318.7 351.3 317.9 354.0 316.9 358.8 315.9 363.7 313.9 372.0 309.7 380.0 314.0 384.6 315.9 392.0 317.9 398.0 318.9 401.6 319.9 406.0 320.4 414.0 321.1 422.0 320.9 432.7 319.9 468.0 315.3 503.2 311.9 517.3 309.9 548.0 304.7 555.5 303.9 566.1 301.9 574.0 299.9 578.9 297.9 584.2 293.9 585.9 291.9 588.2 287.9 590.4 285.9 599.2 283.9 601.0 281.9 601.0 277.9 600.4 275.9 592.6 273.9 588.7 271.9 586.3 267.9 584.0 265.1 579.9 261.9 575.7 259.9 568.4 257.9 558.4 255.9 538.0 253.1 520.6 249.9 507.0 247.9 474.0 244.7 456.0 242.7 437.1 239.9 416.0 237.9 398.9 239.9 396.0 240.8 390.0 241.9 383.2 243.9 372.0 249.6 370.0 249.0 364.6 245.9 360.3 243.9 344.5 239.9 328.0 237.9Z"/>
<path fill="#0bfa75" d="M70.0 3.9 674.0 3.9 674.0 555.9 70.0 555.9ZM320.0 237.9 282.0 242.5 246.7 245.9 231.0 247.9 200.0 252.6 173.0 255.9 163.3 257.9 158.5 259.9 155.2 261.9 150.8 265.9 149.3 267.9 147.3 271.9 144.9 273.9 137.8 275.9 137.1 277.9 137.1 281.9 139.1 283.9 146.1 285.9 147.8 287.9 149.8 291.9 151.5 293.9 156.1 297.9 159.7 299.9 165.1 301.9 176.4 303.9 202.0 307.0 240.0 312.6 284.0 317.0 305.9 319.9 326.0 321.7 332.0 321.4 342.0 320.2 353.2 317.9 360.3 315.9 370.0 310.8 372.0 310.1 383.2 315.9 390.2 317.9 402.0 320.3 412.0 321.5 418.0 321.7 437.5 319.9 462.0 316.7 506.0 312.3 542.0 306.9 567.0 303.9 578.3 301.9 583.7 299.9 587.3 297.9 589.8 295.9 593.6 291.9 595.6 287.9 597.2 285.9 604.3 283.9 606.3 281.9 606.3 277.9 605.6 275.9 598.5 273.9 596.1 271.9 594.1 267.9 592.6 265.9 588.2 261.9 584.9 259.9 580.1 257.9 570.4 255.9 544.0 252.6 496.7 245.9 464.0 242.8 440.0 239.7 418.0 237.6 409.4 237.9 397.0 239.9 388.1 241.9 381.9 243.9 372.0 249.3 370.0 248.6 361.4 243.9 355.3 241.9 346.4 239.9 332.0 237.7Z"/>
<path fill="#0dfa63" d="M70.0 3.9 674.0 3.9 674.0 555.9 70.0 555.9ZM316.0 237.9 278.0 242.2 240.7 245.9 206.0 250.9 166.1 255.9 156.0 257.9 150.7 259.9 147.3 261.9 144.0 265.2 142.2 267.9 140.6 271.9 139.1 273.9 132.2 275.9 131.1 277.9 131.2 281.9 133.7 283.9 139.8 285.9 141.1 287.9 142.7 291.9 145.9 295.9 148.4 297.9 152.2 299.9 158.2 301.9 169.5 303.9 210.0 308.9 244.8 313.9 278.0 317.1 304.0 320.2 324.0 322.1 332.4 321.9 345.5 319.9 354.9 317.9 361.2 315.9 372.0 310.4 382.1 315.9 388.5 317.9 398.0 319.9 411.1 321.9 420.0 322.1 464.0 317.2 498.6 313.9 534.0 308.9 573.9 303.9 585.2 301.9 591.2 299.9 595.0 297.9 597.5 295.9 600.0 292.9 603.6 285.9 609.7 283.9 612.2 281.9 612.3 277.9 611.2 275.9 604.3 273.9 602.8 271.9 601.2 267.9 600.0 265.9 596.1 261.9 592.7 259.9 587.4 257.9 577.3 255.9 536.0 250.7 502.0 245.8 466.0 242.3 422.0 237.4 416.0 237.2 408.0 237.7 395.4 239.9 386.5 241.9 381.1 243.9 372.0 249.0 362.0 243.7 356.9 241.9 348.1 239.9 336.7 237.9 330.0 237.3 324.0 237.2Z"/>
<path fill="#0efa50" d="M70.0 3.9 674.0 3.9 674.0 555.9 70.0 555.9ZM312.0 237.9 238.0 245.6 214.0 249.1 161.1 255.9 149.9 257.9 143.2 259.9 140.0 261.9 138.0 263.9 135.3 267.9 133.9 271.9 132.6 273.9 125.2 275.9 123.8 277.9 123.9 281.9 127.1 283.9 133.3 285.9 136.0 291.9 138.9 295.9 141.2 297.9 144.8 299.9 152.8 301.9 164.4 303.9 206.0 309.1 244.0 314.5 324.0 322.5 335.2 321.9 356.4 317.9 362.0 316.0 372.0 310.7 381.3 315.9 387.0 317.9 408.2 321.9 414.0 322.4 420.0 322.5 500.0 314.4 536.0 309.3 579.0 303.9 590.6 301.9 598.6 299.9 602.2 297.9 604.5 295.9 607.4 291.9 610.1 285.9 616.3 283.9 619.5 281.9 619.6 277.9 618.2 275.9 610.8 273.9 609.5 271.9 608.1 267.9 606.9 265.9 603.4 261.9 600.2 259.9 593.5 257.9 582.3 255.9 500.0 244.9 422.0 237.0 416.0 236.8 408.0 237.4 394.0 239.9 386.0 241.7 380.3 243.9 372.0 248.7 363.1 243.9 358.0 241.8 338.0 237.8 326.0 236.8Z"/>
<path fill="#10fa3e" d="M70.0 3.9 674.0 3.9 674.0 555.9 70.0 555.9ZM308.0 237.8 240.0 244.7 212.0 248.7 170.4 253.9 144.4 257.9 136.1 259.9 132.6 261.9 130.3 263.9 127.3 267.9 125.8 271.9 124.4 273.9 117.0 275.9 115.2 277.9 115.4 281.9 119.2 283.9 125.3 285.9 128.3 291.9 131.7 295.9 134.2 297.9 138.1 299.9 147.6 301.9 174.2 305.9 246.0 315.3 324.0 322.8 330.0 322.7 336.0 322.1 357.7 317.9 362.0 316.3 372.0 311.0 380.6 315.9 386.0 318.0 408.0 322.2 416.0 322.8 422.0 322.7 500.0 315.0 530.0 310.8 569.1 305.9 595.8 301.9 605.3 299.9 609.3 297.9 611.7 295.9 615.1 291.9 618.1 285.9 624.2 283.9 628.0 281.9 628.2 277.9 626.4 275.9 619.0 273.9 617.6 271.9 616.1 267.9 613.1 263.9 610.8 261.9 607.3 259.9 599.0 257.9 573.0 253.9 496.0 243.8 422.0 236.6 416.0 236.5 408.0 237.1 386.0 241.3 380.0 243.7 372.0 248.4 363.8 243.9 358.0 241.5 338.0 237.5 326.0 236.5Z"/>
<path fill="#11fa2e" d="M70.0 3.9 674.0 3.9 674.0 555.9 70.0 555.9ZM302.0 237.8 244.0 243.5 166.1 253.9 139.2 257.9 128.5 259.9 123.7 261.9 120.9 263.9 117.6 267.9 116.1 271.9 114.8 273.9 107.8 275.9 106.0 277.9 106.2 281.9 110.2 283.9 115.9 285.9 119.1 291.9 122.8 295.9 125.9 297.9 131.7 299.9 142.8 301.9 170.0 305.9 214.0 311.5 240.0 315.2 304.0 321.6 320.0 323.0 328.0 323.2 336.0 322.4 358.0 318.2 362.0 316.6 372.0 311.3 380.0 316.0 386.0 318.3 396.0 320.4 410.0 322.8 416.0 323.2 424.0 323.0 500.0 315.7 573.6 305.9 600.6 301.9 611.7 299.9 617.5 297.9 620.6 295.9 624.3 291.9 627.5 285.9 633.2 283.9 637.2 281.9 637.4 277.9 635.6 275.9 628.6 273.9 627.3 271.9 625.8 267.9 622.5 263.9 619.7 261.9 614.9 259.9 604.2 257.9 576.0 253.7 532.0 248.1 500.0 243.6 438.0 237.5 422.0 236.2 416.0 236.1 406.0 237.1 386.0 241.0 380.0 243.3 372.0 248.1 364.0 243.6 358.0 241.1 338.0 237.2 330.0 236.3 324.0 236.1Z"/>
<path fill="#12fa22" d="M70.0 3.9 674.0 3.9 674.0 555.9 70.0 555.9ZM322.0 235.8 286.0 238.7 242.0 243.1 133.9 257.9 120.6 259.9 113.6 261.9 110.5 263.9 108.6 265.9 107.2 267.9 104.8 273.9 98.4 275.9 96.6 277.9 96.9 281.9 105.9 285.9 109.1 291.9 113.0 295.9 116.5 297.9 124.7 299.9 168.0 306.2 248.0 316.9 288.0 320.8 324.0 323.6 336.0 322.8 358.0 318.5 362.0 317.0 372.0 311.6 380.0 316.3 386.0 318.7 408.0 322.8 416.0 323.5 422.0 323.5 456.0 320.7 498.0 316.6 574.0 306.4 618.7 299.9 626.9 297.9 630.4 295.9 634.3 291.9 637.5 285.9 646.5 281.9 646.8 277.9 645.0 275.9 638.6 273.9 636.2 267.9 634.8 265.9 632.9 263.9 629.8 261.9 622.8 259.9 578.0 253.4 498.0 242.7 440.0 237.1 420.0 235.7 414.0 235.9 406.0 236.8 386.0 240.6 380.0 243.0 372.0 247.7 364.0 243.3 358.0 240.8 336.0 236.6 328.0 235.8Z"/>
<path fill="#13fa1b" d="M70.0 3.9 674.0 3.9 674.0 555.9 70.0 555.9ZM316.0 235.9 284.0 238.2 242.0 242.4 113.1 259.9 103.6 261.9 100.2 263.9 96.9 267.9 94.5 273.9 88.6 275.9 86.7 277.9 87.0 281.9 95.8 285.9 97.7 289.9 100.7 293.9 103.1 295.9 107.2 297.9 117.9 299.9 240.0 316.6 286.0 321.3 320.0 323.8 328.0 323.9 338.0 322.7 358.0 318.9 364.0 316.3 372.0 311.9 380.0 316.7 384.0 318.4 394.0 320.7 410.0 323.4 416.0 323.9 422.0 323.8 458.0 321.3 502.0 316.8 625.5 299.9 636.2 297.9 640.3 295.9 642.7 293.9 645.7 289.9 647.6 285.9 656.4 281.9 656.7 277.9 654.8 275.9 648.9 273.9 647.5 269.9 645.2 265.9 643.2 263.9 639.8 261.9 630.3 259.9 506.0 243.0 458.0 238.1 422.0 235.4 416.0 235.3 404.0 236.8 386.0 240.3 380.0 242.7 372.0 247.4 360.0 241.1 352.0 239.1 330.0 235.5 324.0 235.3Z"/>
<path fill="#13fa15" d="M70.0 3.9 674.0 3.9 674.0 555.9 70.0 555.9ZM308.0 235.9 288.0 237.0 248.0 240.9 176.0 250.7 152.0 254.3 106.2 259.9 94.4 261.9 89.7 263.9 87.6 265.9 85.2 269.9 83.9 273.9 79.5 275.9 78.1 277.9 78.4 281.9 85.4 285.9 87.3 289.9 90.6 293.9 93.3 295.9 99.0 297.9 111.4 299.9 142.0 303.7 240.0 317.4 288.0 322.2 326.0 324.4 338.0 323.1 358.0 319.2 364.0 316.7 372.0 312.2 380.0 317.0 384.0 318.8 392.0 320.7 410.0 323.7 420.0 324.4 456.0 322.2 504.0 317.3 602.0 303.6 632.0 299.9 644.4 297.9 650.1 295.9 652.8 293.9 656.1 289.9 658.0 285.9 665.0 281.9 665.3 277.9 663.9 275.9 659.4 273.9 658.2 269.9 655.8 265.9 653.7 263.9 649.0 261.9 637.2 259.9 592.0 254.3 498.0 241.2 456.0 237.1 422.0 234.9 416.0 234.9 404.0 236.5 386.0 240.0 382.0 241.3 372.0 247.0 360.0 240.7 354.0 239.1 340.0 236.6 332.0 235.4 326.0 234.9Z"/>
<path fill="#13fa11" d="M70.0 3.9 674.0 3.9 674.0 275.9 668.1 273.9 667.1 269.9 665.1 265.9 663.3 263.9 657.6 261.9 643.6 259.9 593.2 253.9 558.0 248.6 498.0 240.4 456.0 236.3 420.0 234.4 410.0 235.2 386.0 239.6 382.0 240.9 372.0 246.7 370.0 245.9 362.0 241.2 358.0 239.7 334.0 235.3 328.0 234.5 320.0 234.5 288.0 236.2 246.0 240.3 186.0 248.5 150.2 253.9 99.8 259.9 85.8 261.9 80.1 263.9 78.3 265.9 77.2 267.9 75.3 273.9 70.0 275.8ZM70.0 283.9 70.0 282.6 73.5 283.9 76.7 285.9 79.4 291.9 80.9 293.9 83.4 295.9 91.4 297.9 154.0 305.9 176.0 309.4 248.0 319.2 288.0 323.1 322.0 324.9 328.0 324.7 338.0 323.4 358.0 319.6 364.0 317.1 372.0 312.6 380.0 317.4 386.0 319.7 406.0 323.5 414.0 324.6 420.0 324.9 456.0 323.0 496.0 319.2 566.0 309.6 590.0 305.8 652.1 297.9 660.0 295.9 662.5 293.9 664.0 291.9 666.7 285.9 670.0 283.8 674.0 282.5 674.0 555.9 70.0 555.9Z"/>
<path fill="#14fa0e" d="M70.0 3.9 674.0 3.9 674.0 264.2 665.0 261.9 598.0 253.9 560.0 248.1 496.0 239.3 456.0 235.4 420.0 234.0 410.0 234.7 386.0 239.1 382.0 240.5 372.0 246.3 362.0 240.8 358.0 239.3 330.0 234.3 322.0 234.0 284.0 235.7 242.0 240.0 184.0 248.0 146.0 253.8 78.4 261.9 70.0 264.0ZM70.0 293.9 70.0 292.6 75.2 295.9 83.9 297.9 149.3 305.9 182.0 311.0 244.0 319.6 280.0 323.3 290.0 324.0 322.0 325.3 330.0 325.0 352.0 321.3 358.0 319.9 364.0 317.5 372.0 313.0 380.0 317.7 386.0 320.1 410.0 324.5 420.0 325.4 458.0 323.8 500.0 319.5 560.0 311.2 594.1 305.9 659.5 297.9 668.2 295.9 674.0 292.3 674.0 555.9 70.0 555.9Z"/>
<path fill="#14fa0b" d="M70.0 3.9 674.0 3.9 674.0 261.9 598.0 253.1 558.0 247.0 494.0 238.1 456.0 234.5 420.0 233.5 410.0 234.3 386.0 238.7 380.0 241.1 372.0 245.9 362.0 240.4 358.0 238.9 332.0 234.1 322.0 233.5 284.0 234.8 244.0 238.8 186.0 246.9 146.0 253.0 70.0 261.9ZM70.0 297.9 70.0 296.7 72.0 296.9 77.3 297.9 148.0 306.5 186.0 312.4 244.0 320.5 284.0 324.5 322.0 325.8 330.0 325.4 358.0 320.4 362.0 318.9 372.0 313.4 380.0 318.1 386.0 320.6 410.0 325.0 420.0 325.8 456.0 324.8 494.0 321.2 556.0 312.6 596.0 306.4 666.1 297.9 674.0 296.6 674.0 555.9 70.0 555.9Z"/>
<path fill="#15fa0a" d="M70.0 3.9 674.0 3.9 674.0 261.1 594.5 251.9 558.0 246.1 498.0 237.7 458.0 233.7 422.0 232.9 412.0 233.6 386.0 238.3 380.0 240.7 372.0 245.5 362.0 240.0 358.0 238.4 332.0 233.7 322.0 232.9 286.0 233.7 250.0 237.2 190.0 245.5 148.9 251.9 70.0 261.1ZM70.0 299.9 70.0 298.0 80.0 299.0 148.0 307.2 184.0 313.0 244.0 321.4 284.0 325.5 322.0 326.4 330.0 325.9 358.0 320.9 362.0 319.3 372.0 313.8 380.0 318.6 386.0 321.0 412.0 325.7 422.0 326.4 458.0 325.6 494.0 322.1 558.0 313.2 596.0 307.1 664.0 298.9 674.0 298.0 674.0 555.9 70.0 555.9Z"/>
<path fill="#17fa0a" d="M70.0 3.9 674.0 3.9 674.0 260.3 596.0 251.3 556.0 245.0 492.0 236.1 458.0 232.8 422.0 232.4 412.0 233.1 386.0 237.8 380.0 240.3 372.0 245.1 362.0 239.6 358.0 238.0 330.0 232.9 322.0 232.4 290.0 232.7 282.0 233.1 244.0 237.0 188.0 244.9 146.0 251.5 70.0 260.3ZM70.0 299.9 70.0 298.7 74.0 299.0 140.0 306.9 152.0 308.5 188.0 314.4 244.0 322.3 284.0 326.4 322.0 326.9 330.0 326.4 358.0 321.3 362.0 319.7 372.0 314.2 380.0 319.0 386.0 321.5 412.0 326.2 422.0 326.9 458.0 326.5 492.0 323.2 554.0 314.6 596.0 307.9 674.0 298.7 674.0 555.9 70.0 555.9Z"/>
<path fill="#18fa0a" d="M70.0 3.9 674.0 3.9 674.0 259.5 594.0 250.3 558.0 244.4 496.0 235.6 470.0 232.9 454.0 231.8 420.0 231.9 412.0 232.7 386.0 237.4 380.0 239.8 372.0 244.7 362.0 239.1 358.0 237.5 330.0 232.5 322.0 231.9 284.0 232.0 248.0 235.5 186.0 244.3 150.0 250.2 70.0 259.5ZM70.0 299.9 70.0 299.5 76.0 300.0 142.0 307.9 188.0 315.3 244.0 323.2 284.0 327.3 322.0 327.4 330.0 326.8 358.0 321.8 362.0 320.2 372.0 314.6 378.0 318.4 384.0 321.3 388.0 322.4 400.0 324.2 412.0 326.6 420.0 327.4 454.0 327.5 470.0 326.4 496.0 323.7 556.0 315.2 596.0 308.6 674.0 299.4 674.0 555.9 70.0 555.9Z"/>
<path fill="#19fa0a" d="M70.0 3.9 674.0 3.9 674.0 258.7 596.0 249.8 554.0 242.9 496.0 234.7 470.0 231.9 454.0 230.9 420.0 231.3 412.0 232.2 402.0 234.3 386.0 236.9 380.0 239.3 372.0 244.3 362.0 238.6 358.0 237.0 342.0 234.4 330.0 232.0 322.0 231.3 290.0 230.9 282.0 231.2 244.0 235.1 188.0 243.1 146.7 249.9 70.0 258.7ZM70.0 301.9 70.0 300.2 72.0 300.4 140.0 308.4 152.0 310.1 190.0 316.5 244.0 324.2 268.0 326.9 284.0 328.2 322.0 328.0 330.0 327.3 342.0 324.9 358.0 322.3 362.0 320.7 372.0 315.0 380.0 319.9 386.0 322.4 402.0 325.0 412.0 327.1 420.0 328.0 454.0 328.4 470.0 327.4 496.0 324.6 554.0 316.4 594.0 309.7 674.0 300.2 674.0 555.9 70.0 555.9Z"/>
<path fill="#1afa0a" d="M70.0 3.9 674.0 3.9 674.0 257.9 596.0 249.0 552.0 241.6 494.0 233.4 472.0 231.1 456.0 230.0 420.0 230.8 414.0 231.4 402.0 233.9 386.0 236.4 380.0 238.9 372.0 243.9 362.0 238.2 358.0 236.6 342.0 234.0 328.0 231.2 322.0 230.7 312.0 230.7 290.0 230.0 280.0 230.4 258.0 232.5 242.0 234.4 186.0 242.5 146.0 249.2 70.0 257.9ZM70.0 301.9 70.0 301.0 74.0 301.3 145.4 309.9 188.0 317.2 242.0 324.9 258.0 326.8 280.0 328.9 290.0 329.3 312.0 328.5 322.0 328.6 328.0 328.1 342.0 325.3 358.0 322.8 362.0 321.2 372.0 315.4 380.0 320.4 386.0 322.9 402.0 325.4 412.0 327.6 420.0 328.5 456.0 329.4 472.0 328.2 496.0 325.6 556.0 317.1 598.0 309.9 674.0 301.0 674.0 555.9 70.0 555.9Z"/>
<path fill="#1bfa0a" d="M70.0 3.9 674.0 3.9 674.0 257.1 594.0 247.9 554.0 240.9 494.0 232.5 472.0 230.1 456.0 229.0 432.0 230.1 420.0 230.2 414.0 230.8 400.0 233.8 390.0 235.2 384.0 236.5 380.0 238.4 372.0 243.4 362.0 237.7 358.0 236.1 343.8 233.9 328.0 230.6 290.0 229.0 278.0 229.5 250.0 232.4 198.0 239.7 148.0 248.1 70.0 257.1ZM70.0 301.9 78.0 302.6 144.0 310.6 194.0 319.1 250.0 326.9 278.0 329.8 290.0 330.3 328.0 328.7 342.0 325.7 358.0 323.2 362.0 321.6 372.0 315.8 380.0 320.9 386.0 323.4 402.0 325.8 414.0 328.5 420.0 329.1 432.0 329.2 456.0 330.3 472.0 329.2 496.0 326.6 554.0 318.4 596.0 311.0 674.0 301.7 674.0 555.9 70.0 555.9Z"/>
<path fill="#1cfa0a" d="M70.0 3.9 674.0 3.9 674.0 256.4 652.0 253.9 646.0 252.7 636.4 251.9 632.0 250.9 624.0 250.4 600.4 247.9 587.1 245.9 565.7 241.9 562.0 240.9 553.8 239.9 550.0 238.9 524.9 235.9 494.0 231.5 472.0 229.0 456.0 228.0 432.0 229.3 420.0 229.6 414.0 230.3 400.0 233.4 386.0 235.4 380.0 237.9 372.0 243.0 362.0 237.2 358.0 235.6 342.0 233.1 328.0 230.1 322.0 229.5 310.0 229.3 288.0 228.0 276.0 228.6 252.0 231.1 218.5 235.9 194.0 238.9 189.6 239.9 180.0 241.1 177.7 241.9 156.3 245.9 143.0 247.9 120.0 250.3 112.0 250.8 107.0 251.9 96.0 252.9 91.4 253.9 70.0 256.3ZM70.0 303.9 70.0 302.5 74.0 302.9 118.0 308.6 144.0 311.4 159.4 313.9 172.0 316.6 180.6 317.9 184.0 318.9 192.8 319.9 196.0 320.7 222.2 323.9 252.0 328.2 278.0 330.8 290.0 331.2 328.0 329.2 343.5 325.9 358.0 323.7 362.0 322.1 372.0 316.3 380.0 321.4 384.0 323.3 390.0 324.6 400.0 325.9 414.0 329.0 420.0 329.7 431.1 329.9 456.0 331.3 472.0 330.3 496.0 327.6 560.0 318.8 562.8 317.9 570.0 316.9 584.0 313.9 596.0 311.8 626.0 308.6 660.6 303.9 674.0 302.5 674.0 555.9 70.0 555.9Z"/>
<path fill="#1cfa0a" d="M70.0 3.9 674.0 3.9 674.0 255.2 659.3 253.9 658.0 252.9 650.0 248.9 646.0 247.6 640.0 246.5 634.0 246.0 628.0 246.1 612.2 247.9 608.6 247.9 604.0 246.7 594.0 246.1 588.0 244.5 581.5 243.9 580.0 242.7 575.9 241.9 566.0 237.9 557.0 235.9 548.0 235.3 533.9 235.9 530.0 235.0 522.0 234.4 486.0 229.4 470.0 227.8 456.0 227.0 416.0 229.3 402.0 232.5 386.0 234.9 380.0 237.4 372.0 242.5 362.0 236.7 358.0 235.0 342.0 232.6 328.0 229.4 290.0 227.1 278.0 227.5 250.0 230.3 222.0 234.4 214.0 234.9 210.0 235.9 196.0 235.3 186.0 236.0 176.0 238.4 167.5 241.9 164.0 242.5 161.8 243.9 154.0 244.8 150.0 246.0 138.0 246.9 134.7 247.9 131.2 247.9 116.0 246.2 110.0 246.0 104.0 246.4 98.0 247.5 94.0 248.7 86.0 252.4 84.2 253.9 70.0 255.2ZM70.0 303.9 70.0 303.3 72.0 303.4 82.0 305.0 92.3 305.9 96.0 307.3 105.6 307.9 110.0 309.4 123.0 309.9 128.0 311.2 140.0 311.8 144.0 312.7 154.0 313.8 158.0 315.2 164.4 315.9 166.0 317.1 169.1 317.9 176.0 320.8 180.0 322.1 186.0 323.3 194.0 324.0 214.0 323.9 218.0 324.8 224.0 325.2 250.0 329.0 276.0 331.7 288.0 332.3 326.0 330.1 334.0 328.7 340.0 327.1 358.0 324.3 362.0 322.6 370.0 317.7 372.0 316.9 382.0 322.9 388.0 324.8 402.0 326.8 410.0 328.8 420.0 330.5 456.0 332.3 470.0 331.5 486.0 329.9 520.0 325.1 526.0 324.7 530.0 323.8 548.0 324.0 556.0 323.5 566.0 321.3 574.3 317.9 576.0 317.6 579.1 315.9 586.0 315.0 589.0 313.9 598.0 312.9 604.0 311.7 616.0 311.1 618.0 310.8 620.0 309.9 632.0 309.6 634.0 309.3 636.0 308.3 637.9 307.9 648.0 307.1 651.1 305.9 674.0 303.3 674.0 555.9 70.0 555.9Z"/>
<path fill="#1dfa0a" d="M70.0 3.9 674.0 3.9 674.0 250.1 666.8 243.9 662.0 240.9 656.0 238.6 648.0 237.1 642.0 236.8 634.0 236.9 606.0 239.9 598.0 240.1 590.0 238.8 570.2 231.9 560.0 230.0 554.0 229.6 546.0 229.7 522.0 232.0 514.0 232.1 478.0 227.5 456.0 225.9 438.0 226.5 428.2 227.9 414.0 228.8 402.0 232.1 390.0 233.7 384.0 235.0 380.0 236.9 372.0 242.1 362.0 236.2 358.0 234.5 342.0 232.2 338.0 230.8 332.7 229.9 328.0 228.5 315.2 227.9 306.0 226.5 286.0 225.9 276.0 226.5 248.0 229.5 230.0 232.1 222.0 232.0 198.0 229.8 186.0 229.7 180.0 230.4 174.0 231.7 154.0 238.6 146.0 240.0 138.0 239.9 108.0 236.9 100.0 236.8 92.0 237.6 86.0 239.0 80.0 241.7 76.0 244.4 70.0 249.6ZM70.0 305.9 70.0 304.5 78.5 305.9 84.0 309.6 90.0 312.8 96.0 314.9 104.0 316.7 116.0 317.6 140.0 317.1 148.0 317.8 154.0 319.5 168.0 325.4 174.0 327.4 180.0 328.8 186.0 329.6 200.0 329.4 224.0 327.2 234.0 327.7 252.0 330.3 274.0 332.7 286.0 333.4 302.0 332.9 308.0 332.1 326.0 331.1 330.4 329.9 336.0 329.0 340.0 327.6 358.0 324.8 362.0 323.2 372.0 317.4 380.0 322.4 386.0 324.9 404.0 327.7 408.0 329.1 413.0 329.9 416.0 330.9 436.0 332.1 442.0 332.9 456.0 333.4 474.0 332.3 492.0 330.2 510.0 327.6 520.0 327.1 546.0 329.6 554.0 329.7 562.0 329.1 572.0 326.6 590.0 319.3 596.0 317.7 604.0 317.1 630.0 317.5 638.0 316.9 644.0 315.8 650.0 314.1 654.0 312.5 660.0 309.2 664.9 305.9 674.0 304.3 674.0 555.9 70.0 555.9Z"/>
<path fill="#1efa0a" d="M70.0 3.9 674.0 3.9 674.0 230.5 670.0 229.2 664.0 228.1 654.0 227.7 642.0 228.4 612.0 231.7 600.0 232.1 592.0 231.2 572.0 226.1 562.0 224.7 556.0 224.5 548.0 225.0 514.0 228.6 504.0 229.1 491.2 227.9 486.0 226.9 473.5 225.9 464.0 224.5 446.0 223.2 438.0 223.2 432.0 223.7 424.0 225.1 410.0 228.5 406.9 229.9 402.0 230.9 400.3 231.9 386.0 233.8 382.0 235.3 374.0 240.2 372.0 241.0 370.0 240.3 362.0 235.6 358.0 234.0 354.0 233.1 343.1 231.9 340.0 230.4 336.5 229.9 332.0 228.1 318.0 224.8 310.0 223.6 304.0 223.2 296.0 223.3 280.0 224.4 269.9 225.9 258.0 226.8 250.0 228.1 238.0 229.1 228.0 228.5 196.0 225.0 182.0 224.6 172.0 225.9 152.0 231.1 142.0 232.1 132.0 231.7 102.0 228.5 90.0 227.7 80.0 228.0 74.0 229.1 70.0 230.3ZM70.0 313.9 70.0 313.2 77.6 317.9 84.0 320.9 94.0 323.6 108.0 324.9 134.0 324.7 144.0 325.3 152.0 326.9 167.5 331.9 174.0 333.6 180.0 334.5 186.0 334.8 200.8 333.9 230.0 330.7 242.0 330.2 246.0 331.1 254.0 331.6 262.0 333.0 275.9 333.9 286.0 335.3 298.0 336.1 308.0 335.9 314.0 335.2 322.0 333.7 330.0 331.7 335.1 329.9 338.0 329.5 341.2 327.9 350.0 326.8 358.0 325.3 364.0 322.6 372.0 317.9 380.0 322.9 386.0 325.5 402.3 327.9 404.0 328.9 408.3 329.9 412.0 331.3 426.0 334.6 434.0 335.8 442.0 336.2 458.0 335.3 467.5 333.9 480.0 333.1 488.0 331.8 498.0 331.0 502.0 330.2 514.0 330.7 550.0 334.5 558.0 334.8 564.0 334.4 572.0 333.0 592.0 326.8 600.0 325.2 610.0 324.7 636.0 324.9 644.0 324.3 650.0 323.5 656.0 322.0 661.8 319.9 666.0 317.8 674.0 312.8 674.0 555.9 70.0 555.9Z"/>
<path fill="#1ffa0a" d="M70.0 3.9 674.0 3.9 674.0 218.5 668.0 218.1 662.0 218.5 624.0 224.0 614.0 225.1 604.0 225.5 592.0 224.7 574.0 221.1 564.0 219.9 554.0 220.3 516.0 224.7 504.0 225.4 490.0 224.6 452.0 219.8 444.0 219.4 436.0 219.6 430.0 220.4 422.0 222.1 408.0 226.6 395.0 231.9 386.0 233.1 378.0 236.7 374.0 239.1 372.0 239.3 370.0 239.3 362.0 234.9 358.0 233.2 348.4 231.9 336.0 226.8 326.0 223.4 316.0 220.8 306.0 219.5 298.0 219.4 290.0 220.0 252.0 224.7 240.0 225.4 230.0 225.0 192.0 220.5 180.0 219.9 170.0 221.0 150.0 224.9 140.0 225.5 130.0 225.1 120.0 224.1 82.0 218.5 76.0 218.1 70.0 218.4ZM366.0 321.9 370.0 320.0 374.0 320.1 382.0 324.7 388.0 326.7 396.2 327.9 408.0 332.7 418.0 336.1 430.0 338.9 440.0 339.9 454.0 339.3 490.0 334.7 504.0 333.9 516.0 334.6 554.0 339.0 564.0 339.3 574.0 337.9 592.0 333.3 600.0 331.9 612.0 331.2 642.0 331.8 654.0 331.4 664.7 329.9 674.0 327.0 674.0 555.9 70.0 555.9 70.0 327.2 78.7 329.9 90.0 331.5 102.0 331.8 130.0 331.2 142.0 331.8 152.0 333.4 170.0 338.0 180.0 339.3 190.0 339.0 228.0 334.5 240.0 334.0 252.0 334.6 290.0 339.3 302.0 339.9 312.0 339.2 324.0 336.5 336.0 332.5 347.2 327.9 356.0 326.5 360.0 325.2 362.0 324.4Z"/>
<path fill="#20fa0b" d="M70.0 3.9 674.0 3.9 674.0 210.1 670.0 210.1 664.0 210.8 642.0 215.6 628.0 218.0 616.0 219.4 606.0 219.9 594.0 219.5 574.0 216.4 564.0 215.7 556.0 216.3 516.0 221.4 502.0 221.9 492.0 221.2 452.0 216.3 444.0 215.8 436.0 216.0 428.0 217.2 418.0 219.9 404.0 225.2 389.1 231.9 384.0 232.8 382.5 233.9 380.0 234.6 378.1 235.9 376.0 236.6 372.0 237.1 368.0 236.7 358.0 232.4 354.3 231.9 338.0 224.6 326.0 220.1 316.0 217.3 308.0 216.0 300.0 215.7 292.0 216.2 250.0 221.3 240.0 221.9 228.0 221.5 188.0 216.3 180.0 215.7 170.0 216.3 150.0 219.4 136.0 219.8 126.0 219.2 114.0 217.8 102.0 215.7 80.0 210.9 70.0 210.0ZM363.9 323.9 370.0 322.3 376.0 322.7 386.0 327.2 390.2 327.9 406.0 334.9 418.0 339.4 428.0 342.1 438.0 343.5 446.0 343.5 454.0 342.8 492.0 338.1 502.0 337.4 516.0 337.9 556.0 343.0 564.0 343.5 574.0 342.6 594.0 338.4 606.0 337.1 624.0 337.0 660.0 339.0 668.0 338.7 674.0 337.8 674.0 555.9 70.0 555.9 70.0 337.9 76.0 338.8 84.0 339.0 118.0 337.1 136.0 337.0 150.0 338.5 170.0 342.7 180.0 343.5 188.0 343.0 228.0 337.8 240.0 337.3 250.0 338.0 290.0 342.9 298.0 343.5 306.0 343.5 316.0 342.0 326.0 339.2 338.0 334.7 353.2 327.9 358.0 327.0 359.6 325.9 362.0 325.3Z"/>
<path fill="#22fa0b" d="M70.0 3.9 674.0 3.9 674.0 203.5 670.0 203.8 664.0 204.8 644.0 210.0 634.0 212.1 618.0 214.3 608.0 214.9 598.0 214.9 592.0 214.5 574.0 212.3 564.0 212.0 558.0 212.5 538.0 215.7 518.0 218.2 510.0 218.8 496.0 218.3 478.4 215.9 450.0 212.7 442.0 212.2 436.0 212.4 428.0 213.7 418.0 216.6 406.0 221.4 382.8 231.9 376.8 233.9 372.0 234.6 366.6 233.9 360.6 231.9 338.0 221.6 326.0 216.8 316.0 213.8 308.0 212.5 302.0 212.2 294.0 212.6 265.0 215.9 248.0 218.3 234.0 218.8 226.0 218.3 204.0 215.6 186.0 212.6 180.0 212.0 170.0 212.2 146.0 214.8 136.0 214.9 124.0 214.2 108.0 211.9 80.0 205.0 70.0 203.5ZM364.8 325.9 368.0 325.1 372.0 324.7 378.0 325.7 384.1 327.9 404.0 337.1 416.0 342.0 426.0 345.1 436.0 346.9 442.0 347.1 452.0 346.4 494.0 341.2 506.0 340.4 518.0 341.1 540.0 343.8 558.0 346.8 564.0 347.2 576.0 346.4 598.0 342.8 614.0 341.9 634.0 342.7 664.0 346.2 674.0 346.1 674.0 555.9 70.0 555.9 70.0 346.2 80.0 346.1 110.0 342.7 130.0 341.9 146.0 342.8 168.0 346.5 180.0 347.2 186.0 346.7 202.0 344.0 226.0 341.0 238.0 340.4 248.0 341.0 290.0 346.3 300.0 347.0 306.0 347.0 316.0 345.5 326.0 342.5 340.0 336.8 358.0 328.5Z"/>
<path fill="#23fa0b" d="M70.0 3.9 674.0 3.9 674.0 198.2 664.0 199.7 638.0 206.9 622.0 209.6 612.0 210.4 600.0 210.5 574.0 208.7 564.0 208.6 558.0 209.3 538.0 213.1 512.0 215.9 498.0 215.5 480.0 213.0 448.0 209.2 440.0 208.8 434.0 209.2 426.0 210.7 418.0 213.2 408.0 217.3 382.0 229.5 376.0 231.4 372.0 231.9 368.0 231.5 362.0 229.7 336.0 217.6 326.0 213.4 318.0 210.8 310.0 209.2 304.0 208.8 294.0 209.3 262.0 213.1 246.0 215.5 232.0 216.0 224.0 215.4 206.0 213.2 186.0 209.4 180.0 208.7 170.0 208.7 142.0 210.5 132.0 210.4 122.0 209.7 106.0 207.0 80.0 199.9 70.0 198.2ZM367.5 327.9 370.0 327.5 374.0 327.6 380.0 329.1 416.0 345.4 426.0 348.6 436.0 350.3 442.0 350.4 450.1 349.9 482.0 346.1 496.0 344.0 508.0 343.3 518.0 343.8 538.0 346.2 558.0 350.0 564.0 350.5 576.0 350.1 602.0 346.9 620.0 346.4 636.0 347.6 664.0 352.2 674.0 352.8 674.0 555.9 70.0 555.9 70.0 352.8 80.0 352.1 108.0 347.5 124.0 346.4 142.0 346.9 168.0 350.1 180.0 350.5 186.0 349.9 206.0 346.1 226.0 343.7 234.0 343.3 246.0 343.8 262.0 346.2 293.3 349.9 302.0 350.4 308.0 350.3 316.0 349.0 326.0 345.9 338.0 340.8 360.0 330.4Z"/>
<path fill="#25fa0b" d="M70.0 3.9 674.0 3.9 674.0 193.5 670.0 194.0 664.0 195.3 638.0 202.9 624.0 205.5 616.0 206.2 606.0 206.6 574.0 205.5 564.0 205.6 558.0 206.4 538.0 210.6 514.0 213.3 506.0 213.3 498.0 212.8 479.0 209.9 448.0 206.0 440.0 205.6 434.0 205.8 426.0 207.2 418.0 209.7 410.0 213.0 383.6 225.9 378.0 228.0 372.0 229.0 366.0 228.1 360.0 226.0 334.0 213.3 326.0 209.9 318.0 207.4 310.0 205.9 304.0 205.6 296.0 206.0 264.4 209.9 244.0 212.9 236.0 213.4 228.0 213.2 206.0 210.7 186.0 206.5 180.0 205.7 170.0 205.5 138.0 206.6 128.0 206.3 120.0 205.6 106.0 203.1 80.0 195.4 70.0 193.5ZM363.7 331.9 368.0 330.7 372.0 330.3 378.0 331.3 384.7 333.9 408.0 345.4 416.0 348.9 426.0 352.1 434.0 353.5 440.0 353.7 448.0 353.2 478.0 349.5 498.0 346.5 512.0 345.9 520.0 346.5 536.0 348.4 558.0 352.8 564.0 353.6 576.0 353.3 608.0 350.5 618.0 350.4 626.0 350.7 642.0 352.7 666.0 357.6 674.0 358.3 674.0 555.9 70.0 555.9 70.0 358.3 78.0 357.5 102.0 352.6 116.0 350.8 126.0 350.4 136.0 350.6 166.0 353.2 178.0 353.6 186.0 352.7 200.0 349.6 208.0 348.3 224.0 346.4 232.0 345.9 246.0 346.6 264.0 349.3 294.0 353.1 302.0 353.7 308.0 353.6 318.0 351.9 328.0 348.6 336.0 345.1 358.0 334.2Z"/>
<path fill="#28fa0b" d="M70.0 3.9 674.0 3.9 674.0 189.3 670.0 189.9 664.0 191.3 640.0 198.8 626.0 201.7 610.0 203.0 576.0 202.6 564.0 202.9 558.0 203.8 544.0 207.2 536.0 208.7 516.0 210.8 508.0 210.9 500.0 210.4 448.0 203.0 440.0 202.5 432.0 202.8 424.0 204.3 416.0 206.9 408.0 210.4 382.0 223.4 376.0 225.4 372.0 225.8 368.0 225.5 362.0 223.7 336.0 210.7 328.0 207.1 320.0 204.5 312.0 202.9 304.0 202.4 296.0 202.9 244.0 210.3 236.0 210.9 226.0 210.7 206.0 208.4 186.0 203.9 180.0 203.0 168.0 202.6 134.0 203.0 118.0 201.7 104.0 198.9 80.0 191.5 70.0 189.4ZM367.6 333.9 374.0 333.6 380.0 335.1 386.0 337.7 406.0 347.9 414.0 351.6 424.0 355.0 434.0 356.7 440.0 356.8 448.0 356.3 480.0 352.0 498.0 349.2 506.0 348.5 514.0 348.4 522.0 348.9 536.0 350.6 558.0 355.5 564.0 356.3 580.0 356.1 612.0 354.1 628.0 354.6 642.0 356.7 666.0 362.2 674.0 363.1 674.0 555.9 70.0 555.9 70.0 363.1 79.0 361.9 102.0 356.5 116.0 354.5 132.0 354.1 164.0 356.1 178.0 356.3 184.0 355.8 208.0 350.5 222.0 348.9 230.0 348.4 238.0 348.5 246.0 349.2 264.0 352.1 296.0 356.4 304.0 356.8 310.0 356.6 318.0 355.3 328.0 352.2 336.0 348.6 358.0 337.4 364.0 334.9Z"/>
<path fill="#2ffa0b" d="M70.0 3.9 674.0 3.9 674.0 185.5 670.0 186.1 664.0 187.6 640.0 195.4 626.0 198.4 612.0 199.6 586.0 199.7 564.0 200.5 558.0 201.4 536.0 206.5 518.0 208.5 508.0 208.5 500.0 207.9 446.0 199.8 438.0 199.3 430.0 199.8 422.0 201.4 414.0 204.0 406.0 207.6 382.3 219.9 376.0 222.0 372.0 222.5 366.8 221.9 361.1 219.9 338.0 207.9 330.0 204.2 322.0 201.5 314.0 199.9 306.0 199.3 298.0 199.7 244.0 207.8 234.0 208.6 224.0 208.4 206.0 206.3 186.0 201.5 180.0 200.5 158.0 199.7 132.0 199.6 118.0 198.5 104.0 195.6 80.0 187.8 70.0 185.6ZM365.1 337.9 368.0 337.1 372.0 336.8 378.0 337.8 384.0 340.2 406.0 351.7 414.0 355.3 424.0 358.4 432.0 359.7 440.0 359.9 448.0 359.3 500.0 351.4 508.0 350.8 516.0 350.7 526.0 351.5 536.0 352.8 558.0 357.9 564.0 358.7 584.0 358.8 614.0 357.4 628.0 358.0 642.0 360.3 664.0 365.9 674.0 367.4 674.0 555.9 70.0 555.9 70.0 367.4 79.3 365.9 102.0 360.1 114.0 358.2 122.0 357.5 130.0 357.4 158.0 358.8 178.0 358.8 186.0 357.8 208.0 352.7 218.0 351.4 228.0 350.7 236.0 350.8 244.0 351.5 296.0 359.4 304.0 359.9 312.0 359.7 320.0 358.3 330.0 355.1 338.0 351.4 358.0 340.8Z"/>
<path fill="#38fa0c" d="M70.0 3.9 674.0 3.9 674.0 182.1 665.3 183.9 640.0 192.3 626.0 195.3 614.0 196.5 590.0 196.7 564.0 198.2 558.0 199.1 536.0 204.5 522.0 206.2 510.0 206.3 500.0 205.5 456.0 198.3 444.0 196.6 436.0 196.2 428.0 196.7 420.0 198.3 412.0 201.0 404.0 204.6 382.0 216.3 376.0 218.4 372.0 219.0 368.0 218.6 362.0 216.6 340.0 204.9 330.0 200.4 322.0 198.0 314.0 196.6 306.0 196.2 298.0 196.8 244.0 205.4 234.0 206.3 226.0 206.4 216.0 205.7 208.0 204.6 186.0 199.3 180.0 198.3 154.0 196.7 134.0 196.7 124.0 196.1 112.0 194.4 100.0 191.3 78.0 183.9 70.0 182.1ZM364.0 341.9 368.0 340.7 372.0 340.3 378.0 341.4 384.0 343.9 404.0 354.7 412.0 358.3 420.0 361.0 430.0 362.8 438.0 363.0 446.0 362.5 500.0 353.8 510.0 353.0 518.0 352.9 534.0 354.5 542.0 356.1 558.0 360.1 566.0 361.1 588.0 361.6 616.0 360.5 628.0 361.2 640.0 363.1 665.3 369.9 674.0 371.4 674.0 555.9 70.0 555.9 70.0 371.3 78.0 369.9 102.0 363.4 114.0 361.4 128.0 360.5 154.0 361.5 178.0 361.1 186.0 360.0 208.0 354.7 216.0 353.6 226.0 352.9 234.0 353.0 244.0 353.9 298.0 362.5 306.0 363.1 314.0 362.7 324.0 360.8 332.0 358.1 340.0 354.4 356.0 345.7Z"/>
<path fill="#44fa0c" d="M70.0 3.9 674.0 3.9 674.0 178.9 666.0 180.6 640.0 189.3 626.0 192.4 616.0 193.5 592.0 193.9 564.0 196.1 556.0 197.5 536.0 202.5 522.0 204.2 512.0 204.2 500.0 203.2 444.0 193.7 434.0 193.1 426.0 193.6 418.0 195.2 410.0 197.8 402.0 201.4 382.0 212.1 376.0 214.3 372.0 214.9 368.0 214.5 362.0 212.3 342.0 201.7 332.0 197.3 324.0 194.8 316.0 193.5 308.0 193.1 300.0 193.6 244.0 203.1 234.0 204.1 224.0 204.3 216.0 203.7 208.0 202.6 186.0 197.2 180.0 196.1 152.0 194.0 134.0 193.8 124.0 193.3 112.0 191.5 102.0 188.9 78.0 180.8 70.0 179.0ZM364.6 345.9 368.0 344.8 372.0 344.3 378.0 345.6 384.0 348.2 400.0 356.9 410.0 361.5 418.0 364.1 428.0 365.9 436.0 366.2 444.0 365.6 500.0 356.1 510.0 355.1 520.0 355.1 534.0 356.5 558.0 362.2 566.0 363.3 590.0 364.2 616.0 363.4 630.0 364.4 642.0 366.7 666.0 373.5 674.0 374.9 674.0 555.9 70.0 555.9 70.0 374.9 78.0 373.4 102.0 366.5 114.0 364.4 126.0 363.4 154.0 364.2 178.0 363.2 186.0 362.1 208.0 356.7 216.0 355.6 224.0 355.0 234.0 355.2 244.0 356.2 300.0 365.7 308.0 366.2 316.0 365.8 324.0 364.5 334.0 361.3 342.0 357.6 358.0 348.9Z"/>
<path fill="#51fa0d" d="M70.0 3.9 674.0 3.9 674.0 175.9 666.0 177.7 640.0 186.6 628.0 189.4 616.0 190.9 592.0 191.4 564.0 194.0 556.0 195.5 536.0 200.5 524.0 202.1 512.0 202.1 500.0 200.9 442.0 190.5 432.0 189.9 424.0 190.4 416.0 191.9 408.0 194.4 400.0 197.9 380.3 207.9 376.0 209.4 372.0 210.0 368.0 209.5 362.0 207.4 342.0 197.2 334.0 193.9 326.0 191.6 316.0 190.1 308.0 190.0 300.0 190.7 244.0 200.8 234.0 202.0 224.0 202.3 216.0 201.8 208.0 200.7 188.0 195.7 180.0 194.1 152.0 191.4 132.0 191.1 124.0 190.6 114.0 189.1 104.0 186.7 78.0 177.9 70.0 176.0ZM367.5 349.9 372.0 349.4 378.0 350.5 384.0 353.1 401.0 361.9 408.0 364.9 416.0 367.4 426.0 369.1 434.0 369.4 442.0 368.8 500.0 358.4 512.0 357.2 522.0 357.1 534.0 358.4 556.7 363.9 566.0 365.3 590.0 366.7 616.0 366.2 630.0 367.3 642.0 369.6 666.0 376.7 674.0 378.3 674.0 555.9 70.0 555.9 70.0 378.2 78.0 376.6 102.0 369.5 114.0 367.2 128.0 366.1 154.0 366.7 178.0 365.2 186.0 364.1 208.0 358.6 214.0 357.7 222.0 357.1 232.0 357.2 244.0 358.5 300.0 368.6 310.0 369.4 318.0 369.1 328.0 367.3 336.0 364.7 344.0 361.1 360.0 352.8Z"/>
<path fill="#5efa0d" d="M70.0 3.9 674.0 3.9 674.0 173.3 666.0 175.1 640.0 183.9 628.0 186.8 614.0 188.5 592.0 189.0 564.0 192.1 556.0 193.6 536.0 198.6 530.0 199.7 524.0 200.2 512.0 200.1 500.0 198.7 440.0 187.3 430.0 186.6 422.0 187.1 414.0 188.4 406.0 190.7 398.3 193.9 382.0 201.6 376.0 203.5 372.0 204.0 368.0 203.6 362.0 201.8 344.0 193.4 336.0 190.3 328.0 188.1 318.0 186.8 310.0 186.7 302.0 187.5 244.0 198.6 232.0 200.0 222.0 200.3 214.0 199.8 208.0 198.8 188.0 193.7 180.0 192.2 152.0 189.0 132.0 188.6 124.0 188.0 114.0 186.5 104.0 184.1 78.0 175.3 70.0 173.3ZM367.0 355.9 372.0 355.3 378.0 356.3 384.0 358.6 398.0 365.3 406.0 368.6 414.0 370.9 424.0 372.4 432.0 372.7 442.0 371.8 500.0 360.6 512.0 359.2 522.0 359.0 528.0 359.4 534.0 360.3 556.0 365.7 564.0 367.0 590.0 369.1 616.0 368.7 630.0 369.9 642.0 372.4 666.0 379.7 674.0 381.3 674.0 555.9 70.0 555.9 70.0 381.2 78.0 379.5 100.0 372.7 114.0 369.8 128.0 368.7 152.0 369.2 178.0 367.2 186.0 366.0 208.0 360.5 214.0 359.5 220.0 359.1 232.0 359.3 244.0 360.7 302.0 371.8 312.0 372.7 320.0 372.4 330.0 370.7 338.0 368.3 346.0 365.0 360.0 358.3Z"/>
<path fill="#6afa0e" d="M70.0 3.9 674.0 3.9 674.0 170.8 666.0 172.6 640.0 181.4 626.0 184.7 612.0 186.2 592.0 186.7 564.0 190.2 556.0 191.7 534.0 197.2 528.0 198.1 522.0 198.4 512.0 198.0 500.0 196.6 470.0 190.6 444.0 184.9 436.0 183.7 428.0 183.2 418.0 183.8 408.0 185.6 400.0 188.2 382.0 195.4 374.0 197.2 370.0 197.3 364.0 196.2 358.0 194.2 342.6 187.9 334.0 185.3 326.0 183.9 316.0 183.2 308.0 183.6 300.0 184.8 272.0 190.9 242.0 196.8 230.0 198.1 220.0 198.3 214.0 197.9 208.0 196.9 188.0 191.9 180.0 190.3 152.0 186.8 134.0 186.3 124.0 185.6 116.0 184.4 106.0 182.1 78.0 172.8 70.0 170.9ZM210.8 361.9 216.0 361.2 224.0 360.9 232.0 361.3 240.0 362.2 272.0 368.4 300.0 374.5 308.0 375.7 316.0 376.1 326.0 375.4 334.0 374.0 342.0 371.6 358.0 365.1 364.0 363.1 370.0 362.0 374.0 362.1 382.0 363.9 400.0 371.1 408.0 373.7 418.0 375.5 428.0 376.1 436.0 375.6 444.0 374.4 470.0 368.7 502.0 362.4 514.0 361.1 524.0 361.0 534.0 362.1 556.0 367.5 564.0 368.9 592.0 371.5 616.0 371.2 630.0 372.5 642.0 375.0 666.0 382.4 674.0 384.1 674.0 555.9 70.0 555.9 70.0 384.1 78.0 382.2 100.0 375.4 114.0 372.4 128.0 371.2 152.0 371.5 180.0 368.8 186.0 367.8Z"/>
<path fill="#75fa0e" d="M70.0 3.9 674.0 3.9 674.0 168.6 666.0 170.4 640.0 178.9 626.0 182.2 614.0 183.8 590.0 184.9 560.0 189.1 536.0 194.9 530.0 196.0 524.0 196.4 512.0 196.0 500.0 194.4 470.0 188.2 442.0 181.6 434.0 180.3 428.0 179.8 418.0 179.9 408.0 181.2 400.0 183.1 382.0 189.0 376.0 190.2 372.0 190.5 368.0 190.3 362.0 189.2 344.0 183.3 334.0 181.0 324.0 179.8 312.0 180.0 300.0 181.9 274.0 188.1 246.0 194.0 234.0 195.8 222.0 196.5 216.0 196.3 210.0 195.4 182.0 188.8 152.0 184.7 134.0 184.0 124.0 183.2 114.0 181.6 106.0 179.7 78.0 170.6 70.0 168.7ZM210.0 363.9 216.0 363.0 224.0 362.9 232.0 363.3 240.0 364.3 272.0 370.8 300.0 377.4 312.0 379.3 324.0 379.5 334.0 378.3 344.0 376.0 362.0 370.1 368.0 369.0 372.0 368.8 376.0 369.1 382.0 370.3 399.2 375.9 406.0 377.7 414.0 379.0 424.0 379.6 432.0 379.2 440.0 378.1 472.0 370.6 502.0 364.5 514.0 363.1 526.0 363.0 536.0 364.4 556.0 369.3 564.0 370.6 592.0 373.6 614.0 373.5 622.0 374.0 630.0 374.9 642.0 377.5 666.0 385.0 674.0 386.7 674.0 555.9 70.0 555.9 70.0 386.7 76.0 385.4 102.0 377.4 114.0 374.9 128.0 373.5 152.0 373.6 180.0 370.6 186.0 369.6Z"/>
<path fill="#80fa0f" d="M70.0 3.9 674.0 3.9 674.0 166.6 666.0 168.3 640.0 176.6 626.0 179.9 614.0 181.5 590.0 182.9 560.0 187.4 536.0 193.0 530.0 194.1 524.0 194.5 512.0 194.0 500.0 192.3 470.1 185.9 440.0 178.1 432.0 176.8 424.0 176.1 414.0 176.2 406.0 177.0 398.0 178.6 382.0 182.6 372.0 183.7 368.0 183.6 362.0 182.7 344.0 178.2 336.0 176.8 326.0 176.0 314.0 176.5 302.0 178.4 273.3 185.9 246.0 191.8 234.0 193.7 222.0 194.5 216.0 194.4 210.0 193.5 182.0 187.1 152.0 182.7 134.0 181.9 124.0 180.9 114.0 179.3 106.0 177.3 80.0 169.0 70.0 166.7ZM209.3 365.9 216.0 364.9 222.0 364.8 230.0 365.2 240.0 366.4 272.0 373.1 304.0 381.3 316.0 383.0 326.0 383.3 336.0 382.5 344.0 381.1 362.0 376.6 368.0 375.7 372.0 375.6 382.0 376.7 404.0 382.0 412.0 383.0 420.0 383.3 430.0 382.8 438.0 381.6 470.0 373.4 500.0 367.0 514.0 365.1 526.0 364.9 536.0 366.3 560.0 371.8 590.0 375.5 616.0 375.8 630.0 377.3 642.0 379.9 668.0 387.9 674.0 389.1 674.0 555.9 70.0 555.9 70.0 389.0 76.0 387.7 100.0 380.3 114.0 377.2 128.0 375.8 150.0 375.7 154.0 375.4 184.0 371.7Z"/>
<path fill="#8bfa0f" d="M70.0 3.9 674.0 3.9 674.0 164.8 664.0 166.8 638.0 174.8 626.0 177.7 614.0 179.3 590.0 181.0 559.0 185.9 534.0 191.5 524.0 192.6 512.0 192.0 498.0 189.8 470.0 183.5 438.0 174.6 430.0 173.1 420.0 172.1 412.0 172.1 404.0 172.6 380.0 176.4 372.0 177.0 364.0 176.5 338.0 172.4 328.0 172.0 318.0 172.6 304.0 174.9 274.0 183.4 248.0 189.3 234.0 191.7 222.0 192.6 216.0 192.4 210.0 191.7 184.0 185.8 154.0 181.1 126.0 179.0 116.0 177.4 108.0 175.5 80.0 167.0 70.0 164.9ZM208.6 367.9 216.0 366.9 222.0 366.7 232.0 367.4 242.0 368.8 272.0 375.4 304.0 384.4 318.0 386.8 328.0 387.3 338.0 386.9 364.0 382.8 372.0 382.3 380.0 382.9 402.0 386.5 416.0 387.3 428.0 386.5 438.0 384.7 472.0 375.3 500.0 369.1 514.0 367.1 526.0 366.8 536.0 368.1 560.0 373.4 590.0 377.3 616.0 378.0 630.0 379.6 642.0 382.3 666.0 389.5 674.0 391.2 674.0 555.9 70.0 555.9 70.0 391.2 76.1 389.9 102.0 382.1 114.0 379.5 128.0 378.0 154.0 377.3 184.0 373.3Z"/>
<path fill="#95fa10" d="M70.0 3.9 674.0 3.9 674.0 163.1 668.4 163.9 662.0 165.4 638.0 172.6 626.0 175.4 614.0 177.2 590.0 179.3 558.0 184.5 534.0 189.7 524.0 190.6 512.0 190.0 496.0 187.3 470.0 181.2 436.0 170.9 426.0 169.0 414.0 167.8 400.0 167.9 380.0 169.9 372.0 170.3 364.0 169.9 340.0 167.7 330.0 167.8 320.0 168.6 312.0 169.9 304.0 171.8 274.0 181.0 254.0 185.9 236.0 189.4 222.0 190.6 216.0 190.5 210.0 189.8 184.0 184.2 156.0 179.7 126.0 176.8 116.0 175.1 108.0 173.3 82.0 165.6 70.0 163.2ZM207.8 369.9 216.0 368.8 222.0 368.7 232.0 369.4 242.0 370.9 272.0 377.7 306.0 388.1 314.0 389.8 322.0 390.9 330.0 391.5 340.0 391.6 364.0 389.4 372.0 389.0 380.0 389.4 398.0 391.2 408.0 391.7 422.0 390.9 434.0 388.9 444.0 386.2 470.8 377.9 498.0 371.6 514.0 369.1 526.0 368.7 536.0 370.0 560.0 375.0 588.0 378.9 594.0 379.5 616.0 380.2 628.0 381.5 640.0 384.0 666.0 391.6 674.0 393.1 674.0 555.9 70.0 555.9 70.0 393.1 78.0 391.4 102.0 384.4 114.0 381.8 128.0 380.1 154.0 379.1 184.0 374.9Z"/>
<path fill="#a0fa10" d="M70.0 3.9 674.0 3.9 674.0 161.4 668.0 162.2 660.3 163.9 636.0 170.9 624.0 173.6 612.0 175.4 588.0 177.8 558.0 182.9 536.0 187.5 530.0 188.3 524.0 188.7 510.0 187.7 492.0 184.3 470.0 178.8 444.0 170.0 434.0 167.0 422.0 164.5 408.0 163.0 396.0 162.7 370.0 163.3 342.0 162.7 332.0 163.2 324.0 164.1 316.0 165.5 306.0 168.0 276.0 178.0 260.0 182.4 236.0 187.3 228.0 188.3 220.0 188.7 214.0 188.4 208.0 187.6 186.0 183.0 154.0 177.6 132.0 175.4 120.0 173.7 108.0 171.1 82.0 163.6 70.0 161.5ZM207.1 371.9 214.0 370.9 222.0 370.6 232.0 371.5 242.0 373.0 258.0 376.5 271.4 379.9 300.0 389.5 310.0 392.4 322.0 394.9 336.0 396.4 348.0 396.6 372.0 396.0 400.0 396.6 410.0 396.2 418.0 395.4 428.0 393.7 436.0 391.7 468.0 381.1 486.0 376.3 508.0 371.9 516.0 371.0 524.0 370.6 534.0 371.5 558.0 376.3 588.0 380.6 616.0 382.3 628.0 383.7 640.0 386.3 666.0 393.5 674.0 394.9 674.0 555.9 70.0 555.9 70.0 394.8 78.0 393.3 102.0 386.6 116.0 383.6 128.0 382.2 148.0 381.3 156.0 380.5 186.0 376.2Z"/>
<path fill="#abfa11" d="M70.0 3.9 674.0 3.9 674.0 159.7 660.0 162.1 634.0 169.2 622.0 171.8 588.0 176.1 536.0 185.6 530.0 186.4 524.0 186.7 518.0 186.5 510.0 185.6 488.0 181.3 470.0 176.4 442.0 166.1 430.0 162.4 414.0 159.0 396.0 157.1 376.0 156.5 358.0 156.6 342.0 157.5 328.0 159.2 318.0 161.2 308.0 163.9 276.0 175.6 262.0 179.7 238.0 184.9 228.0 186.3 220.0 186.7 214.0 186.5 208.0 185.7 188.0 181.8 154.0 175.9 132.0 173.4 120.0 171.6 108.0 168.9 84.0 162.2 70.0 159.8ZM206.2 373.9 214.0 372.8 222.0 372.6 232.0 373.5 244.0 375.6 258.0 378.6 270.3 381.9 302.0 393.4 316.0 397.6 332.0 400.7 350.0 402.3 370.0 402.9 388.0 402.6 404.0 401.6 416.0 400.0 426.0 397.9 436.0 395.2 466.9 383.9 480.0 380.0 504.0 374.7 514.0 373.2 522.0 372.6 528.0 372.7 534.0 373.4 558.0 377.8 588.0 382.3 614.0 384.2 626.0 385.6 638.0 388.0 664.0 394.9 674.0 396.6 674.0 555.9 70.0 555.9 70.0 396.6 80.0 394.8 104.0 388.3 116.0 385.8 128.0 384.3 156.0 382.2 186.0 377.7Z"/>
<path fill="#b6fa11" d="M70.0 3.9 674.0 3.9 674.0 158.1 666.0 159.1 658.0 160.6 634.0 167.0 622.0 169.7 586.0 174.7 536.0 183.7 524.0 184.7 516.0 184.2 506.0 182.8 492.0 180.0 480.0 177.1 466.0 172.5 436.0 160.6 418.0 155.3 400.0 151.9 378.0 149.7 368.0 149.6 356.0 150.5 340.0 152.4 328.0 154.7 318.0 157.2 308.0 160.3 278.0 172.3 264.0 176.9 252.0 179.9 238.0 182.7 228.0 184.2 220.0 184.7 214.0 184.5 208.0 183.8 156.0 174.5 122.0 169.8 110.0 167.2 86.0 160.7 78.0 159.2 70.0 158.1ZM205.4 375.9 214.0 374.8 222.0 374.7 232.0 375.6 246.0 378.1 260.0 381.3 270.0 384.2 280.3 387.9 304.0 397.5 322.0 403.2 332.0 405.5 342.0 407.2 354.0 408.6 366.0 409.6 376.0 409.6 390.0 408.6 404.0 406.8 416.0 404.5 426.0 401.9 436.0 398.7 466.0 386.8 478.0 382.7 490.0 379.7 504.0 376.8 514.0 375.3 522.0 374.6 528.0 374.7 534.0 375.3 588.0 384.0 614.0 386.2 626.0 387.7 638.0 390.1 662.0 396.3 674.0 398.3 674.0 555.9 70.0 555.9 70.0 398.2 82.0 396.2 106.0 390.0 116.0 387.9 128.0 386.4 156.0 383.9Z"/>
<path fill="#c1fa12" d="M70.0 3.9 674.0 3.9 674.0 156.4 664.0 157.6 656.0 159.1 632.0 165.4 620.0 167.9 586.0 173.0 564.0 177.2 538.0 181.5 530.0 182.5 524.0 182.7 516.0 182.1 506.0 180.7 482.0 175.4 470.0 171.5 438.0 157.6 420.0 151.3 410.0 148.6 398.0 146.0 386.0 144.1 376.0 143.0 368.0 143.0 356.0 144.2 342.0 146.7 330.0 149.4 318.0 153.0 308.0 156.6 277.4 169.9 266.0 174.1 256.0 176.8 242.0 179.8 230.0 181.8 222.0 182.6 214.0 182.5 206.0 181.6 180.0 177.3 158.0 173.1 124.0 168.0 112.0 165.5 86.0 158.8 70.0 156.5ZM204.6 377.9 214.0 376.8 224.0 376.8 236.0 378.4 254.0 382.0 264.0 384.6 272.0 387.3 306.0 401.9 324.0 408.2 334.0 410.9 346.0 413.4 358.0 415.3 368.0 416.3 376.0 416.3 386.0 415.2 400.0 412.9 412.0 410.2 424.0 406.8 434.0 403.3 464.8 389.9 478.0 385.0 488.0 382.4 502.0 379.4 514.0 377.4 522.0 376.7 528.0 376.7 534.0 377.2 586.0 385.4 624.0 389.5 636.0 391.8 660.8 397.9 674.0 399.9 674.0 555.9 70.0 555.9 70.0 399.9 82.6 397.9 108.0 391.7 118.0 389.7 158.0 385.3Z"/>
<path fill="#cbfa12" d="M70.0 3.9 674.0 3.9 674.0 154.7 656.0 157.1 624.0 164.9 584.0 171.6 562.0 176.0 536.0 179.9 526.0 180.6 518.0 180.2 508.0 178.8 493.3 175.9 482.0 173.1 476.0 171.2 468.0 168.1 438.0 153.8 420.0 146.6 408.0 142.8 398.0 140.2 386.0 137.9 376.0 136.7 368.0 136.6 358.0 137.8 348.0 139.6 336.0 142.6 324.0 146.4 312.0 150.9 300.0 156.3 276.0 167.8 265.5 171.9 256.0 174.5 242.0 177.6 230.0 179.6 222.0 180.5 216.0 180.6 210.0 180.2 182.0 176.1 160.0 171.7 118.0 164.7 86.0 156.8 70.0 154.8ZM203.8 379.9 216.0 378.7 226.0 379.2 240.0 381.4 258.0 385.2 266.0 387.6 272.2 389.9 306.0 405.8 324.0 412.9 336.0 416.7 348.0 419.7 358.0 421.5 368.0 422.7 376.0 422.6 386.0 421.4 396.0 419.5 408.0 416.5 420.0 412.7 432.0 408.1 444.0 402.8 466.5 391.9 478.0 387.4 486.0 385.1 500.0 382.0 512.0 379.9 520.0 378.9 528.0 378.7 536.0 379.4 562.0 383.1 586.0 387.1 622.0 391.3 634.0 393.5 658.0 399.2 674.0 401.6 674.0 555.9 70.0 555.9 70.0 401.5 86.0 399.1 108.0 393.8 118.0 391.9 158.0 387.0 180.0 383.3Z"/>
<path fill="#d6fa12" d="M70.0 3.9 674.0 3.9 674.0 153.0 662.0 154.2 654.0 155.5 626.0 162.3 580.0 170.6 562.0 174.4 536.0 177.9 526.0 178.5 518.0 178.0 506.0 176.1 490.0 172.9 480.0 170.2 469.4 165.9 436.0 148.7 418.0 140.8 406.0 136.6 396.0 133.8 386.0 131.7 376.0 130.6 368.0 130.5 358.0 131.6 348.0 133.7 338.0 136.4 326.0 140.6 312.0 146.5 300.0 152.4 278.2 163.9 266.0 169.3 258.0 171.8 248.0 174.0 232.0 177.1 222.0 178.3 216.0 178.5 210.0 178.2 182.0 174.5 162.0 170.3 118.0 162.5 88.0 155.2 70.0 153.1ZM203.2 381.9 214.0 380.8 224.0 381.1 241.2 383.9 260.0 388.1 266.0 390.0 274.0 393.4 308.0 410.9 328.0 419.4 340.0 423.5 350.0 426.1 360.0 428.0 368.0 428.8 376.0 428.7 386.0 427.6 396.0 425.5 406.0 422.7 418.0 418.5 430.0 413.4 442.0 407.6 466.0 395.0 477.7 389.9 484.1 387.9 494.0 385.6 510.0 382.5 520.0 381.1 526.0 380.8 532.0 381.0 560.0 384.4 584.0 388.6 626.0 394.1 656.0 400.7 674.0 403.2 674.0 555.9 70.0 555.9 70.0 403.2 86.0 401.0 118.5 393.9 160.0 388.5 182.0 384.6Z"/>
<path fill="#e0fa13" d="M70.0 3.9 674.0 3.9 674.0 151.2 660.0 152.5 652.0 153.8 626.0 160.1 594.0 166.4 580.0 168.8 560.0 173.0 534.0 176.1 528.0 176.4 522.0 176.2 512.0 174.8 498.0 172.2 488.0 170.0 480.6 167.9 475.5 165.9 467.3 161.9 442.0 147.5 430.0 141.2 412.0 133.0 402.0 129.5 392.0 126.7 382.0 125.0 372.0 124.4 362.0 124.9 352.0 126.6 342.0 129.3 330.0 133.6 312.0 141.9 276.1 161.9 268.0 165.9 262.8 167.9 256.0 169.9 246.0 172.1 232.0 174.7 222.0 176.1 216.0 176.4 210.0 176.1 182.0 172.8 164.0 168.9 148.0 166.1 116.5 159.9 92.0 153.9 82.0 152.3 70.0 151.3ZM203.0 383.9 214.0 382.9 224.0 383.4 242.0 386.4 260.0 390.5 266.0 392.6 273.2 395.9 308.0 415.4 318.0 420.4 328.0 424.9 340.0 429.4 350.0 432.2 360.0 434.1 368.0 434.9 376.0 434.8 386.0 433.7 394.0 432.1 404.0 429.2 416.0 424.6 428.0 419.1 440.0 412.9 466.3 397.9 478.0 392.4 485.5 389.9 494.2 387.9 512.0 384.5 522.0 383.1 532.0 383.1 560.0 386.0 582.0 390.0 626.0 396.2 658.0 403.1 674.0 404.9 674.0 555.9 70.0 555.9 70.0 404.9 88.0 402.6 112.0 397.3 120.0 395.8 162.0 389.9 184.0 385.9Z"/>
<path fill="#ebfa13" d="M70.0 3.9 674.0 3.9 674.0 149.4 660.0 150.5 650.0 152.0 626.0 157.8 594.0 164.4 578.0 167.3 560.0 171.3 532.0 174.1 522.0 173.8 499.1 169.9 489.6 167.9 482.0 165.8 477.2 163.9 469.4 159.9 432.0 137.2 422.0 131.8 412.0 127.1 402.0 123.3 392.0 120.4 382.0 118.7 372.0 118.1 362.0 118.6 352.0 120.3 342.0 123.1 332.0 126.9 324.0 130.5 314.0 135.7 274.0 159.9 266.2 163.9 262.0 165.6 254.0 167.9 244.3 169.9 220.9 173.9 216.0 174.2 210.0 174.0 184.0 171.4 164.0 167.0 150.0 164.6 116.0 157.5 94.0 152.1 84.0 150.5 70.0 149.4ZM203.4 385.9 214.0 385.1 224.0 385.8 248.0 390.1 262.0 393.7 267.3 395.9 274.8 399.9 310.0 421.3 320.0 426.8 330.0 431.6 340.0 435.5 350.0 438.5 360.0 440.4 368.0 441.1 378.0 441.0 386.0 440.1 394.0 438.4 404.0 435.3 416.0 430.4 428.0 424.3 440.0 417.5 465.1 401.9 478.0 395.1 484.0 392.8 492.0 390.9 510.0 387.3 522.0 385.5 532.0 385.2 560.0 387.7 580.0 391.5 628.0 398.8 656.0 404.7 674.0 406.6 674.0 555.9 70.0 555.9 70.0 406.6 88.0 404.6 116.0 398.7 164.0 391.4 182.0 387.9Z"/>
<path fill="#f5fa14" d="M70.0 3.9 674.0 3.9 674.0 147.3 658.0 148.5 648.0 150.1 628.0 154.9 608.0 159.0 592.0 162.8 578.0 165.3 560.0 169.5 532.0 171.8 524.0 171.6 512.9 169.9 494.0 166.2 482.0 163.1 475.3 159.9 468.5 155.9 430.0 130.5 420.0 124.8 412.0 120.9 402.0 116.8 392.0 113.8 382.0 112.1 372.0 111.6 362.0 112.1 352.0 113.7 342.0 116.6 330.0 121.5 322.0 125.6 312.0 131.4 274.9 155.9 268.1 159.9 262.0 162.8 258.0 164.2 250.0 166.1 230.5 169.9 220.0 171.5 212.0 171.8 184.0 169.6 166.0 165.5 150.0 162.5 134.0 158.7 116.0 155.1 96.0 150.2 86.0 148.6 70.0 147.4ZM205.5 387.9 214.0 387.4 222.0 388.0 248.0 392.8 260.5 395.9 265.2 397.9 272.4 401.9 310.0 426.7 320.0 432.6 328.0 436.8 338.0 441.2 348.0 444.6 358.0 446.7 368.0 447.7 378.0 447.5 388.0 446.3 396.0 444.4 406.0 441.0 416.0 436.5 428.0 429.9 440.0 422.4 467.7 403.9 480.0 397.1 484.0 395.5 490.2 393.9 522.0 387.9 532.0 387.5 560.0 389.5 578.0 393.1 592.0 395.0 628.0 401.0 652.0 406.1 660.0 407.3 674.0 408.4 674.0 555.9 70.0 555.9 70.0 408.4 90.0 406.4 116.0 400.9 150.0 395.3 164.0 393.3 182.0 389.7Z"/>
<path fill="#faf514" d="M70.0 3.9 674.0 3.9 674.0 144.9 656.0 146.5 646.0 148.0 628.0 152.4 608.0 156.6 592.0 160.6 578.0 163.3 560.0 167.5 532.0 169.3 524.0 168.9 494.0 163.4 487.6 161.9 482.0 160.0 476.0 156.8 468.3 151.9 430.0 124.6 422.0 119.6 414.0 115.2 402.0 110.0 392.0 106.9 382.0 105.0 372.0 104.5 362.0 105.0 352.0 106.7 342.0 109.8 330.0 114.9 322.0 119.2 312.0 125.5 275.1 151.9 268.0 156.5 261.6 159.9 256.0 161.8 250.0 163.2 220.0 168.9 212.0 169.3 184.0 167.6 166.0 163.4 150.0 160.3 136.0 156.7 116.0 152.5 98.0 148.2 88.0 146.5 70.0 145.0ZM180.6 391.9 188.0 391.1 216.0 390.0 230.0 392.1 249.3 395.9 258.0 398.0 264.0 400.6 272.9 405.9 310.0 432.5 320.0 438.9 328.0 443.4 338.0 448.0 348.0 451.5 358.0 453.8 368.0 454.7 378.0 454.6 388.0 453.3 396.0 451.3 406.0 447.8 416.0 443.0 428.0 436.0 442.0 426.5 467.6 407.9 474.0 403.7 480.8 399.9 485.9 397.9 492.0 396.4 522.0 390.6 528.0 390.0 532.0 390.0 560.0 391.4 578.0 395.1 592.0 397.1 608.0 400.1 628.0 403.3 650.0 408.0 660.0 409.3 674.0 410.3 674.0 555.9 70.0 555.9 70.0 410.3 84.0 409.2 92.0 408.2 116.0 403.2 134.0 400.4 152.0 397.0 166.0 395.0Z"/>
<path fill="#faec14" d="M70.0 3.9 674.0 3.9 674.0 142.3 654.0 144.3 644.0 145.9 610.0 153.5 592.0 158.2 560.0 165.2 553.0 165.9 534.0 166.5 523.3 165.9 494.0 160.2 484.0 157.3 478.0 154.1 471.6 149.9 434.0 120.9 424.0 114.0 416.0 109.3 404.0 103.5 392.0 99.4 382.0 97.3 372.0 96.6 362.0 97.2 352.0 99.2 340.0 103.3 328.0 109.0 320.0 113.7 310.0 120.5 271.8 149.9 265.8 153.9 260.0 157.0 256.0 158.5 250.0 160.1 220.1 165.9 210.0 166.5 190.4 165.9 184.0 165.3 152.0 158.3 134.0 153.7 100.0 146.0 90.0 144.4 70.0 142.5ZM181.3 393.9 190.0 393.1 216.0 392.9 224.0 394.0 244.0 397.9 253.0 399.9 258.0 401.5 264.0 404.3 272.5 409.9 308.0 437.4 318.0 444.4 326.0 449.2 338.0 455.2 348.0 458.9 358.0 461.5 368.0 462.6 378.0 462.5 388.0 460.9 398.0 458.1 408.0 454.0 418.0 448.9 430.0 441.3 442.0 432.4 468.1 411.9 480.2 403.9 484.3 401.9 490.4 399.9 520.2 393.9 526.0 393.1 532.0 392.7 560.0 393.6 578.0 397.2 592.0 399.3 608.0 402.5 628.0 405.8 650.0 410.2 658.0 411.3 674.0 412.5 674.0 555.9 70.0 555.9 70.0 412.4 86.0 411.2 94.0 410.1 116.0 405.7 134.0 402.8 152.0 399.2 166.0 397.0Z"/>
<path fill="#fae214" d="M70.0 3.9 674.0 3.9 674.0 139.6 652.0 141.9 642.0 143.6 610.0 150.8 590.6 155.9 560.0 162.8 552.0 163.5 536.0 163.6 528.0 163.2 520.0 162.0 494.0 156.7 488.0 154.9 484.0 153.2 478.2 149.9 472.5 145.9 436.0 115.5 426.0 108.1 418.0 103.1 406.0 96.8 392.0 91.2 382.0 88.7 372.0 87.7 362.0 88.6 352.0 91.1 340.0 95.6 326.0 102.7 318.0 107.7 310.0 113.5 273.5 143.9 266.0 149.4 260.0 152.9 254.0 155.4 248.0 157.1 222.0 162.2 214.0 163.3 208.0 163.6 192.0 163.5 184.0 162.9 154.0 156.2 134.0 150.9 102.0 143.7 90.0 141.8 70.0 139.7ZM183.6 395.9 198.0 395.5 216.0 396.2 244.0 401.3 256.0 404.6 262.8 407.9 270.0 412.8 279.1 419.9 308.0 444.2 318.0 451.6 326.0 456.6 338.0 462.8 350.0 467.6 360.0 470.3 370.0 471.6 378.0 471.2 388.0 469.2 398.0 465.9 410.0 460.6 422.0 453.8 432.0 446.9 442.0 438.9 466.8 417.9 474.6 411.9 480.6 407.9 486.0 405.1 492.0 403.1 516.7 397.9 526.0 396.3 532.0 395.8 550.0 395.5 559.8 395.9 648.0 412.3 674.0 414.9 674.0 555.9 70.0 555.9 70.0 414.8 88.0 413.3 96.0 412.2Z"/>
<path fill="#fad914" d="M70.0 3.9 674.0 3.9 674.0 136.5 668.0 137.5 650.0 139.4 640.0 141.1 612.0 147.3 587.3 153.9 568.0 158.5 558.0 160.4 548.0 160.8 534.0 160.2 524.0 158.9 508.0 156.0 498.4 153.9 491.4 151.9 486.0 149.7 480.0 146.1 474.2 141.9 467.0 135.9 444.0 115.0 434.0 106.4 426.0 100.4 416.0 94.2 402.0 86.8 390.0 81.7 380.0 78.8 372.0 77.9 364.0 78.7 354.0 81.5 342.0 86.6 328.0 93.8 318.0 100.0 308.0 107.6 276.4 135.9 263.8 145.9 258.0 149.3 252.0 151.9 245.0 153.9 235.8 155.9 220.0 158.8 210.0 160.1 196.0 160.8 186.0 160.5 176.0 158.6 156.1 153.9 132.0 147.5 104.0 141.2 92.0 139.2 76.0 137.6 70.0 136.7ZM175.0 399.9 182.0 398.7 188.0 398.1 198.0 398.3 210.0 399.1 220.0 400.5 238.2 403.9 247.0 405.9 254.0 408.1 261.4 411.9 269.8 417.9 279.2 425.9 306.0 450.1 314.0 456.4 322.0 461.9 336.0 469.8 350.0 476.2 360.0 479.5 366.0 480.7 370.0 481.1 374.0 481.1 380.0 480.3 390.0 477.5 402.0 472.4 416.0 465.1 426.0 458.9 434.0 452.9 444.0 444.3 466.4 423.9 478.9 413.9 484.0 410.7 490.0 407.9 496.4 405.9 505.2 403.9 532.0 399.2 548.0 398.2 558.0 398.3 566.0 399.4 608.0 407.7 646.0 414.5 674.0 417.5 674.0 555.9 70.0 555.9 70.0 417.4 98.0 414.4 136.0 407.5Z"/>
<path fill="#fad014" d="M70.0 3.9 674.0 3.9 674.0 133.3 666.0 134.7 646.0 137.0 634.0 139.2 608.0 145.1 575.5 153.9 566.0 156.1 558.0 157.5 550.0 157.8 538.0 156.9 506.0 151.3 498.0 149.3 492.0 147.3 486.0 144.4 480.0 140.5 469.7 131.9 438.0 101.7 430.0 95.3 420.0 88.6 404.0 79.2 390.0 72.0 380.0 68.5 372.0 67.4 364.0 68.3 354.0 71.7 342.0 77.7 324.0 88.3 314.0 94.9 306.0 101.2 275.8 129.9 264.0 140.0 258.0 144.1 252.0 147.1 246.0 149.2 238.0 151.2 206.0 156.9 196.0 157.7 186.0 157.5 174.0 155.4 159.9 151.9 134.0 144.7 108.0 138.9 96.0 136.8 78.0 134.7 70.0 133.4ZM178.7 401.9 190.0 401.0 198.0 401.4 206.0 402.2 238.0 408.1 246.0 410.1 254.0 413.1 262.0 417.8 269.7 423.9 304.0 456.3 310.6 461.9 318.0 467.2 334.0 476.9 350.0 485.1 360.0 488.9 366.0 490.3 370.0 490.8 374.0 490.8 380.0 489.8 390.0 486.6 404.0 479.9 420.0 470.6 430.0 464.0 438.0 457.6 469.2 427.9 480.0 418.8 486.0 414.9 492.0 412.0 498.0 409.9 504.0 408.4 538.0 402.1 550.0 401.1 558.0 401.1 568.0 402.5 608.0 410.5 642.0 416.5 674.0 420.3 674.0 555.9 70.0 555.9 70.0 420.2 92.0 417.9 102.0 416.4 134.0 410.8Z"/>
<path fill="#fac714" d="M70.0 3.9 674.0 3.9 674.0 129.8 664.0 131.6 642.0 134.3 628.0 137.0 608.0 141.6 572.0 151.7 564.0 153.4 558.0 154.2 550.0 154.4 542.0 153.6 506.0 146.4 498.0 144.2 492.4 141.9 488.0 139.6 482.0 135.5 471.1 125.9 448.0 102.7 438.0 93.3 430.0 87.2 408.0 72.4 396.0 64.8 386.0 59.6 378.0 57.1 374.0 56.5 370.0 56.5 366.0 57.0 360.0 58.6 350.0 63.3 338.0 70.7 312.0 88.2 306.0 92.8 300.0 98.2 268.0 130.0 260.0 136.5 252.0 141.4 246.0 144.0 238.0 146.3 202.0 153.5 194.0 154.3 188.0 154.4 182.0 153.8 176.0 152.7 164.0 149.8 134.0 141.2 116.0 137.1 100.0 134.1 78.0 131.4 70.0 129.9ZM172.4 405.9 186.0 404.2 192.0 404.2 200.0 405.1 206.0 406.2 216.0 408.7 238.0 413.0 246.0 415.4 252.0 417.9 258.8 421.9 266.4 427.9 274.9 435.9 300.0 461.1 306.0 466.4 312.0 471.0 334.0 485.2 350.0 494.3 360.0 498.5 366.0 499.9 370.0 500.3 374.0 500.3 380.0 499.4 390.0 495.9 402.0 489.7 424.0 476.0 434.0 469.1 440.3 463.9 450.0 454.7 470.5 433.9 481.9 423.9 487.7 419.9 492.0 417.6 498.0 415.1 504.0 413.4 526.0 409.0 542.0 405.3 550.0 404.3 558.0 404.2 571.0 405.9 608.0 413.5 640.0 419.1 650.0 420.5 668.0 422.3 674.0 423.4 674.0 555.9 70.0 555.9 70.0 423.2 78.0 422.0 94.0 420.5 106.0 418.7 136.0 413.4Z"/>
<path fill="#fabe15" d="M70.0 3.9 674.0 3.9 674.0 126.0 664.0 128.0 640.0 131.0 622.0 134.5 604.0 138.8 574.0 147.7 566.0 149.5 560.0 150.4 552.0 150.6 544.0 149.7 526.0 145.1 508.0 141.4 502.0 139.6 496.0 137.2 490.0 133.9 484.3 129.9 474.0 120.6 452.0 97.8 441.6 87.9 436.0 83.4 398.0 55.1 390.0 49.9 382.0 46.1 376.0 44.5 370.0 44.2 366.0 44.8 362.0 45.9 358.0 47.5 352.0 50.7 344.0 56.1 308.0 82.9 302.0 87.8 295.4 93.9 272.1 117.9 264.0 125.7 256.4 131.9 250.0 135.9 244.0 138.6 236.0 141.2 216.0 145.4 200.0 149.6 194.0 150.5 188.0 150.7 182.0 150.2 176.0 149.2 162.8 145.9 138.0 138.4 124.0 135.0 104.0 131.1 80.0 128.1 70.0 126.2ZM180.7 407.9 186.0 407.6 192.0 407.8 202.0 409.5 216.0 413.6 238.0 418.7 244.0 420.7 250.0 423.4 257.1 427.9 264.4 433.9 294.0 463.9 300.5 469.9 308.0 475.9 336.0 495.2 348.0 502.8 354.0 505.9 360.0 508.2 366.0 509.8 370.0 510.2 378.0 509.6 386.0 507.3 394.0 503.5 406.0 496.1 432.0 478.3 442.0 470.7 452.0 461.4 474.8 437.9 486.0 428.1 492.0 424.2 496.0 422.1 501.5 419.9 508.0 417.9 528.0 413.4 544.0 408.9 552.0 407.8 560.0 407.7 566.0 408.3 575.5 409.9 602.0 415.7 618.0 418.6 642.0 422.5 666.0 425.2 674.0 426.6 674.0 555.9 70.0 555.9 70.0 426.5 78.0 425.2 102.0 422.4 126.0 418.5 142.0 415.5 167.9 409.9Z"/>
<path fill="#fab515" d="M70.0 3.9 674.0 3.9 674.0 122.1 662.0 124.4 636.0 127.7 618.0 131.1 602.0 135.1 574.0 143.8 566.0 145.6 560.0 146.4 552.0 146.4 546.0 145.5 540.0 144.0 526.0 139.6 510.0 135.5 502.0 132.7 496.1 129.9 490.0 126.0 486.0 122.9 476.4 113.9 457.4 93.9 448.0 84.8 442.0 79.7 421.9 63.9 402.0 46.3 394.0 39.9 388.0 35.8 382.0 32.7 376.0 30.9 370.0 30.6 364.0 31.8 358.0 34.3 352.0 38.0 346.0 42.5 321.5 63.9 296.4 83.9 288.0 91.9 262.9 117.9 256.0 124.0 248.0 129.5 242.0 132.5 236.0 134.7 218.0 139.5 198.0 145.4 188.0 146.5 182.0 146.2 176.0 145.3 164.0 142.3 140.0 134.7 126.0 131.2 108.0 127.8 82.0 124.5 70.0 122.2ZM177.1 411.9 188.0 411.5 198.0 413.0 216.0 418.8 236.0 424.5 242.0 426.8 248.0 429.8 254.2 433.9 261.4 439.9 289.0 467.9 296.0 474.3 304.0 480.7 338.0 505.9 348.0 512.6 354.0 515.9 360.0 518.5 366.0 520.1 370.0 520.6 374.0 520.6 378.0 520.0 386.0 517.5 396.0 512.3 406.0 505.4 446.0 475.5 456.5 465.9 482.0 439.9 488.0 434.8 494.0 430.6 500.0 427.4 506.0 425.0 528.0 418.6 541.9 413.9 548.0 412.4 554.0 411.6 560.0 411.4 566.0 411.9 578.0 413.9 600.0 418.9 612.0 421.2 640.0 425.6 664.0 428.4 674.0 430.2 674.0 555.9 70.0 555.9 70.0 430.0 78.0 428.6 104.0 425.5 130.0 421.4 144.0 418.7 166.0 413.8Z"/>
<path fill="#faac15" d="M70.0 3.9 674.0 3.9 674.0 117.9 662.0 120.2 634.0 123.6 616.0 126.8 600.0 130.8 578.0 138.2 566.0 141.1 560.0 141.8 554.0 141.7 548.0 140.8 542.0 139.2 526.0 133.3 508.0 127.4 500.5 123.9 494.0 119.8 488.0 115.0 482.5 109.9 463.3 89.9 454.0 80.8 426.6 57.9 404.0 35.1 396.0 27.8 388.0 21.7 382.0 18.4 376.0 16.4 370.0 16.0 366.0 16.8 360.0 19.1 354.0 22.7 348.0 27.3 340.0 34.5 314.7 59.9 295.0 75.9 286.1 83.9 258.0 112.6 252.0 117.8 246.2 121.9 240.0 125.4 234.1 127.9 218.0 133.1 198.0 140.2 192.0 141.4 188.0 141.8 182.0 141.7 176.0 140.9 164.4 137.9 142.0 130.4 128.0 126.9 112.0 124.0 84.0 120.6 70.0 118.0ZM177.0 415.9 182.0 415.6 188.0 415.8 198.0 417.8 218.0 425.5 234.0 431.0 244.2 435.9 250.2 439.9 258.0 446.4 281.5 469.9 292.0 479.4 316.3 497.9 340.0 517.3 348.0 523.0 356.0 527.5 364.0 530.5 370.0 531.4 376.0 531.2 384.0 529.0 392.0 525.0 402.0 518.4 427.1 497.9 445.8 483.9 453.1 477.9 462.0 469.8 484.0 447.7 490.0 442.4 496.0 437.9 502.0 434.4 508.0 431.6 526.0 425.3 544.0 418.2 550.0 416.6 556.0 415.7 562.0 415.6 568.0 416.1 578.0 417.8 598.0 422.5 612.0 425.1 636.0 428.6 662.0 431.7 674.0 434.0 674.0 555.9 70.0 555.9 70.0 433.8 80.0 431.9 108.0 428.6 132.0 425.0 144.0 422.8 166.0 417.7Z"/>
<path fill="#faa215" d="M70.0 3.9 364.8 3.9 360.0 5.7 354.0 9.0 349.9 11.9 344.0 16.8 334.0 26.9 315.3 47.9 308.0 55.4 283.6 75.9 275.2 83.9 256.0 103.4 246.0 112.0 240.0 116.0 234.0 119.2 216.0 126.5 202.0 132.8 192.0 135.8 184.0 136.6 178.0 136.1 170.0 134.4 146.0 126.1 128.0 121.6 112.0 119.1 84.0 116.2 70.0 113.6ZM378.6 3.9 674.0 3.9 674.0 113.5 660.0 116.1 630.0 119.3 612.0 122.3 598.0 125.9 576.0 133.7 566.0 136.1 560.0 136.6 554.0 136.3 550.0 135.5 544.0 133.8 528.0 126.7 510.0 119.5 503.2 115.9 496.0 110.9 486.0 102.0 468.2 83.9 460.0 76.1 434.0 54.1 410.0 27.5 400.0 17.3 394.0 12.2 388.0 8.1 383.8 5.9ZM166.8 421.9 176.0 420.5 182.0 420.2 188.0 420.7 194.0 421.9 204.0 425.7 216.0 431.5 231.3 437.9 239.1 441.9 245.2 445.9 252.0 451.3 284.0 481.5 292.0 488.0 310.4 501.9 332.0 521.1 342.0 529.4 350.0 535.0 358.0 539.3 364.0 541.5 370.0 542.5 376.0 542.2 384.0 539.9 392.0 535.8 400.0 530.4 410.0 522.4 433.0 501.9 450.0 489.1 458.9 481.9 467.8 473.9 488.0 454.3 494.0 449.1 500.0 444.6 506.0 440.9 512.0 437.9 526.0 432.1 539.0 425.9 546.0 423.0 550.0 421.8 556.0 420.6 562.0 420.2 568.0 420.5 576.6 421.9 596.0 426.5 608.0 428.8 626.0 431.4 660.0 435.3 674.0 437.9 674.0 555.9 70.0 555.9 70.0 437.8 84.0 435.2 112.0 432.1 134.0 429.1 146.0 426.8Z"/>
<path fill="#fa9915" d="M70.0 3.9 343.5 3.9 338.0 8.8 332.0 14.9 310.0 40.3 302.0 48.9 276.0 71.5 252.0 94.7 242.0 103.4 235.7 107.9 229.0 111.9 201.2 125.9 192.0 129.4 184.0 130.5 178.0 130.2 172.0 129.0 166.0 127.1 148.0 120.4 132.0 116.4 116.0 114.0 86.0 111.7 70.0 109.0ZM399.9 3.9 674.0 3.9 674.0 108.9 658.0 111.6 628.0 114.0 610.0 116.7 596.0 120.2 576.0 127.6 566.0 130.1 560.0 130.6 556.0 130.3 552.0 129.5 546.8 127.9 540.0 124.9 514.0 111.7 506.0 106.8 498.0 100.6 490.0 93.3 468.0 72.1 446.9 53.9 440.4 47.9 433.0 39.9 412.0 15.6 406.0 9.4ZM172.5 425.9 178.0 425.4 184.0 425.5 190.0 426.6 194.3 427.9 203.3 431.9 214.0 437.8 228.0 444.9 236.0 449.6 248.0 458.7 271.1 479.9 280.0 487.6 306.0 507.8 330.0 530.0 342.0 540.1 350.0 545.7 358.0 549.9 366.0 552.6 372.0 553.2 378.0 552.4 386.0 549.6 394.0 545.3 402.0 539.7 414.0 529.5 437.2 507.9 465.4 485.9 494.0 459.9 504.0 451.9 516.0 444.5 542.0 431.0 549.1 427.9 554.0 426.4 560.0 425.5 570.0 425.8 578.0 427.2 596.0 431.6 606.0 433.4 622.0 435.5 658.0 439.2 674.0 442.1 674.0 555.9 70.0 555.9 70.0 442.0 86.0 439.2 122.0 435.5 138.0 433.3 148.0 431.5 164.0 427.5Z"/>
<path fill="#fa9015" d="M70.0 3.9 329.2 3.9 304.0 32.5 294.0 43.0 246.0 86.4 236.0 95.0 229.6 99.9 220.8 105.9 200.4 117.9 196.0 120.0 190.0 122.3 186.0 123.1 182.0 123.4 178.0 123.1 172.0 121.8 150.0 113.7 144.0 112.0 136.0 110.4 118.0 108.1 86.0 106.6 70.0 104.1ZM414.2 3.9 674.0 3.9 674.0 104.0 664.0 105.8 656.0 106.7 626.0 108.0 608.0 110.3 594.0 113.5 574.0 121.0 566.0 123.0 562.0 123.4 558.0 123.2 550.0 121.1 540.0 116.3 522.6 105.9 512.0 98.6 502.0 90.5 448.2 41.9 440.0 33.2ZM171.0 431.9 176.0 431.3 182.0 431.3 188.0 432.4 192.6 433.9 198.0 436.4 204.0 439.7 221.0 449.9 230.2 455.9 243.1 465.9 273.1 491.9 300.0 513.1 328.0 539.1 335.7 545.9 343.6 551.9 350.0 555.9 70.0 555.9 70.0 446.4 88.0 443.4 122.0 440.6 140.0 438.5 150.0 436.8ZM557.4 431.9 564.0 431.2 570.0 431.6 578.0 433.0 594.0 436.9 604.0 438.6 622.0 440.7 656.0 443.5 674.0 446.5 674.0 555.9 393.4 555.9 400.0 551.7 408.0 545.6 442.5 513.9 472.0 490.5 498.0 467.9 508.0 459.7 519.2 451.9 542.5 437.9 550.0 434.2Z"/>
<path fill="#fa8615" d="M70.0 3.9 316.1 3.9 296.0 25.9 280.0 41.7 250.0 68.2 219.5 93.9 209.2 101.9 198.0 109.0 190.0 112.7 186.0 113.8 182.0 114.2 178.0 114.0 172.0 112.9 152.0 105.8 146.0 104.4 140.0 103.4 118.0 101.5 98.0 101.8 88.0 101.4 80.0 100.7 70.0 99.1ZM427.3 3.9 674.0 3.9 674.0 99.0 664.0 100.6 656.0 101.4 646.0 101.8 626.0 101.4 602.0 103.6 592.0 105.6 574.0 112.1 566.0 114.0 562.0 114.2 558.3 113.9 552.0 112.2 543.4 107.9 531.5 99.9 490.0 65.3 468.0 45.9 457.2 35.9 444.0 22.3ZM164.6 439.9 176.0 438.1 182.0 438.3 186.0 439.1 190.0 440.5 196.0 443.3 209.6 451.9 228.5 465.9 264.0 495.1 292.7 517.9 304.0 527.8 326.0 548.3 334.9 555.9 70.0 555.9 70.0 451.1 80.0 449.2 90.0 448.0 122.0 446.3 140.0 444.8 150.0 443.3ZM554.9 439.9 562.0 438.2 570.0 438.4 578.0 439.7 592.0 443.0 602.0 444.6 622.0 446.4 654.0 448.1 664.0 449.3 674.0 451.2 674.0 555.9 408.5 555.9 417.9 547.9 448.3 519.9 480.9 493.9 517.4 463.9 528.0 455.9 539.8 447.9 548.0 443.0Z"/>
<path fill="#fa7c15" d="M70.0 3.9 302.0 3.9 278.0 27.9 260.9 43.9 244.0 58.4 219.0 77.9 202.0 93.4 196.0 97.7 190.0 100.8 186.0 102.1 180.0 103.0 172.0 102.2 154.0 97.1 144.0 95.7 120.0 94.9 98.0 95.9 90.0 95.9 80.0 95.2 70.0 93.9ZM441.4 3.9 674.0 3.9 674.0 93.8 662.0 95.4 652.0 95.9 624.0 94.9 602.0 95.5 590.0 97.0 574.0 101.5 568.0 102.7 564.0 103.0 560.0 102.7 554.0 101.0 548.0 98.1 542.0 93.9 536.0 88.8 524.0 77.5 502.0 60.5 490.0 50.5 468.0 30.4ZM163.6 447.9 174.0 446.4 182.0 446.9 186.0 447.9 190.0 449.5 200.0 455.2 209.0 461.9 228.0 477.9 286.0 523.8 302.0 537.6 322.0 555.9 70.0 555.9 70.0 456.0 82.0 454.0 92.0 453.1 120.0 452.6 144.0 451.3 152.0 450.3ZM557.5 447.9 564.0 446.5 570.0 446.5 576.0 447.2 592.0 450.4 600.0 451.4 624.0 452.6 652.0 453.1 662.0 454.1 674.0 456.1 674.0 555.9 421.4 555.9 440.0 538.9 456.0 525.0 515.4 477.9 534.4 461.9 542.0 456.2 548.0 452.3 552.5 449.9Z"/>
<path fill="#fa7115" d="M70.0 3.9 285.5 3.9 256.4 31.9 245.4 41.9 234.0 51.3 212.1 67.9 196.0 82.1 190.7 85.9 186.0 88.4 182.0 89.7 176.0 90.4 170.0 90.0 153.7 87.9 144.0 87.4 126.0 87.8 92.0 90.0 82.0 89.8 70.0 88.5ZM457.9 3.9 674.0 3.9 674.0 88.4 662.0 89.7 652.0 90.0 616.0 87.8 598.0 87.4 590.0 87.9 574.0 90.0 568.0 90.4 562.0 89.8 558.0 88.6 552.7 85.9 548.0 82.6 530.0 66.8 510.0 51.8 500.3 43.9 489.2 33.9ZM170.2 455.9 178.0 456.0 184.0 457.3 190.0 459.8 196.5 463.9 204.0 469.9 218.0 482.7 246.0 503.7 264.0 517.9 288.0 537.6 309.3 555.9 70.0 555.9 70.0 461.0 82.0 459.2 92.0 458.5 116.0 459.1 148.0 458.8ZM566.8 455.9 574.0 456.0 590.0 458.3 596.0 458.8 626.0 459.1 644.0 458.5 654.0 458.6 664.0 459.5 674.0 461.1 674.0 555.9 434.1 555.9 456.0 537.1 479.4 517.9 498.0 503.3 526.0 482.2 539.4 469.9 546.0 464.5 552.0 460.6 556.0 458.6 562.0 456.6Z"/>
<path fill="#fa6615" d="M70.0 3.9 267.3 3.9 240.8 29.9 230.0 39.6 192.0 68.6 186.0 72.5 182.0 74.5 176.0 76.5 168.0 77.8 142.0 78.9 104.0 83.0 86.0 83.9 78.0 83.6 70.0 82.8ZM476.1 3.9 674.0 3.9 674.0 82.7 660.0 83.8 646.0 83.5 604.0 79.1 574.0 77.7 568.0 76.7 562.0 74.8 556.0 71.7 550.0 67.6 513.8 39.9 502.6 29.9ZM72.1 465.9 84.0 464.6 94.0 464.3 146.0 466.6 170.0 465.8 178.0 466.6 184.0 468.4 190.0 471.7 195.8 475.9 212.0 490.1 246.4 515.9 294.9 555.9 70.0 555.9 70.0 466.2ZM570.9 465.9 598.0 466.6 650.0 464.3 662.0 464.8 674.0 466.3 674.0 555.9 448.5 555.9 497.0 515.9 530.0 491.3 550.0 474.1 556.0 470.1 560.0 468.2 566.0 466.5Z"/>
<path fill="#fa5c15" d="M70.0 3.9 249.1 3.9 227.4 25.9 218.6 33.9 190.0 54.6 182.0 59.6 176.0 62.5 170.0 64.7 162.0 66.7 116.0 74.5 96.0 76.9 82.0 77.5 70.0 76.7ZM494.3 3.9 674.0 3.9 674.0 76.7 666.0 77.3 656.0 77.4 646.0 76.7 634.0 75.4 582.0 66.8 574.0 64.9 568.0 62.8 562.0 59.9 554.0 55.0 524.8 33.9 516.0 25.9ZM70.0 471.9 74.0 471.1 84.0 470.3 100.0 470.5 144.0 474.4 166.0 475.8 174.0 477.1 180.0 479.0 184.0 480.9 190.0 484.7 212.0 502.1 233.5 517.9 278.9 555.9 70.0 555.9ZM626.8 471.9 644.0 470.5 654.0 470.2 664.0 470.6 674.0 471.8 674.0 555.9 464.5 555.9 508.0 519.4 531.7 501.9 552.0 485.7 560.0 480.6 568.0 477.4 576.0 475.9 598.0 474.5Z"/>
<path fill="#fa5116" d="M70.0 3.9 231.1 3.9 214.0 21.2 208.0 26.4 184.0 43.9 176.0 48.8 169.7 51.9 162.0 55.0 152.2 57.9 118.0 65.9 98.0 69.3 88.0 70.3 80.0 70.6 70.0 70.1ZM512.3 3.9 674.0 3.9 674.0 70.0 666.0 70.6 656.0 70.4 646.0 69.4 635.8 67.9 620.0 64.7 596.0 59.2 584.3 55.9 576.0 52.9 568.0 49.1 560.0 44.3 537.3 27.9 530.0 21.8ZM70.0 477.9 70.0 477.4 74.0 476.9 86.0 476.4 96.0 476.7 109.7 477.9 158.0 484.6 166.0 486.2 174.0 488.6 180.0 491.4 188.0 496.2 223.1 521.9 232.8 529.9 262.0 555.9 70.0 555.9ZM633.7 477.9 646.0 476.8 656.0 476.4 666.0 476.7 674.0 477.5 674.0 555.9 481.4 555.9 518.0 523.7 552.0 498.6 558.0 494.5 564.0 491.0 572.0 487.7 582.0 485.2Z"/>
<path fill="#fa4716" d="M70.0 3.9 212.3 3.9 197.1 17.9 182.0 30.4 171.4 37.9 160.0 44.0 150.0 47.9 140.0 51.1 110.0 58.7 92.0 62.1 78.0 63.1 70.0 62.7ZM531.1 3.9 674.0 3.9 674.0 62.7 666.0 63.1 658.0 62.8 649.8 61.9 640.0 60.2 606.1 51.9 596.0 48.8 586.0 45.1 574.0 39.1 563.3 31.9 546.3 17.9ZM70.0 483.9 70.0 483.5 76.0 483.0 88.0 483.0 100.0 483.9 112.0 485.4 152.0 493.1 162.0 495.7 170.0 498.6 178.0 502.5 186.0 507.4 214.8 527.9 221.9 533.9 245.4 555.9 70.0 555.9ZM643.1 483.9 660.0 482.8 674.0 483.6 674.0 555.9 498.0 555.9 521.5 533.9 528.0 528.4 556.0 508.4 568.0 501.1 578.0 496.9 592.0 493.0 626.0 486.2Z"/>
<path fill="#fa3e16" d="M70.0 3.9 193.6 3.9 176.3 19.9 169.0 25.9 160.0 32.0 150.0 37.0 142.0 40.1 132.0 43.3 102.0 51.3 88.0 54.0 76.0 54.9 70.0 54.7ZM549.8 3.9 674.0 3.9 674.0 54.6 668.0 54.9 660.0 54.5 646.0 52.3 613.4 43.9 595.5 37.9 586.0 33.5 576.0 27.1 567.1 19.9ZM74.5 489.9 82.0 489.8 92.0 490.4 112.0 493.4 144.0 500.8 154.4 503.9 164.0 507.5 172.0 511.4 179.6 515.9 199.0 529.9 210.0 538.6 228.3 555.9 70.0 555.9 70.0 490.3ZM658.3 489.9 666.0 489.8 674.0 490.3 674.0 555.9 515.1 555.9 532.0 539.9 541.8 531.9 563.8 515.9 570.4 511.9 578.0 508.1 586.0 504.9 595.5 501.9 619.9 495.9 640.1 491.9Z"/>
<path fill="#fa3616" d="M70.0 3.9 176.3 3.9 166.0 13.9 158.6 19.9 150.0 25.3 142.0 28.9 126.0 34.5 99.8 41.9 86.0 44.7 74.0 45.6 70.0 45.5ZM567.1 3.9 674.0 3.9 674.0 45.5 662.0 45.2 648.0 42.9 622.0 35.9 603.9 29.9 594.0 25.6 586.0 20.7 577.4 13.9ZM70.0 497.9 76.0 497.3 84.0 497.6 92.0 498.4 102.0 500.1 136.0 508.5 146.0 511.6 156.0 515.3 166.0 520.2 177.7 527.9 192.3 539.9 210.2 555.9 70.0 555.9ZM655.6 497.9 666.0 497.3 674.0 497.7 674.0 555.9 533.2 555.9 548.8 541.9 563.1 529.9 574.0 522.2 584.0 516.8 596.4 511.9 612.0 507.2 640.0 500.4Z"/>
<path fill="#fa2f16" d="M70.0 3.9 160.2 3.9 152.9 9.9 146.0 14.3 138.0 18.2 126.0 22.9 110.7 27.9 94.0 32.4 82.0 34.5 72.0 35.1 70.0 35.1ZM583.3 3.9 674.0 3.9 674.0 35.0 664.0 34.8 652.0 32.9 638.0 29.4 620.3 23.9 608.0 19.3 598.0 14.6 590.0 9.5ZM70.0 505.9 76.0 505.7 82.0 506.0 90.0 506.9 98.0 508.5 130.0 516.9 140.0 520.1 148.0 523.1 158.0 527.9 167.1 533.9 174.3 539.9 191.5 555.9 70.0 555.9ZM662.3 505.9 674.0 505.9 674.0 555.9 551.9 555.9 574.0 535.7 582.1 529.9 592.0 524.5 600.0 521.3 610.0 517.9 638.0 510.3 650.0 507.5Z"/>
<path fill="#fa2916" d="M70.0 3.9 138.6 3.9 124.0 10.4 100.0 18.6 92.0 20.7 84.0 22.3 76.0 23.2 70.0 23.5ZM604.8 3.9 674.0 3.9 674.0 23.5 666.0 23.1 660.0 22.4 652.0 20.9 644.0 18.8 634.0 15.7 620.0 10.6 612.0 7.4ZM70.0 515.9 70.0 515.2 78.0 515.3 86.0 516.1 94.0 517.6 117.8 523.9 138.0 530.5 148.0 534.8 156.0 539.6 164.1 545.9 174.5 555.9 70.0 555.9ZM658.9 515.9 666.0 515.2 674.0 515.3 674.0 555.9 568.9 555.9 577.1 547.9 584.0 542.0 590.0 537.9 598.0 533.6 610.0 528.8 626.0 523.8 646.0 518.3Z"/>
<path fill="#fa2316" d="M70.0 3.9 103.4 3.9 94.0 6.9 86.0 8.9 78.0 10.3 70.0 11.0ZM640.0 3.9 674.0 3.9 674.0 11.0 666.0 10.3 658.0 9.0 650.0 7.1ZM70.0 525.9 80.0 526.2 90.0 527.7 104.0 531.2 119.3 535.9 132.0 540.5 142.0 544.9 150.6 549.9 158.2 555.9 70.0 555.9ZM668.3 525.9 674.0 525.9 674.0 555.9 585.2 555.9 592.0 550.4 599.4 545.9 607.9 541.9 618.0 538.0 632.0 533.3 648.0 528.9 658.0 526.9Z"/>
<path fill="#fa1e16" d="M70.0 537.9 70.0 537.6 74.0 537.7 82.0 538.5 90.0 539.9 97.8 541.9 120.0 549.4 135.4 555.9 70.0 555.9ZM666.7 537.9 674.0 537.6 674.0 555.9 608.0 555.9 622.0 550.0 642.0 543.0 654.0 539.8Z"/>
<g fill="none" stroke="#fff" stroke-width="1.7" stroke-linecap="round" stroke-linejoin="round"><path d="M371.7 4.0 L371.7 258.0M371.7 300.0 L371.4 554.0M427.4 -6.6C426.9 -4.5 426.4 -2.8 424.4 5.9C422.4 14.6 419.5 27.3 415.1 45.3C410.7 63.3 402.1 96.5 398.0 114.0C393.9 131.4 393.3 137.9 390.6 150.0C387.9 162.1 384.6 170.5 382.0 186.4C379.4 202.3 376.2 233.3 374.7 245.2C373.1 257.1 373.0 255.6 372.7 257.7M506.3 -5.1C505.2 -3.3 506.1 -4.8 499.7 5.9C493.3 16.6 479.6 39.4 467.8 58.8C456.0 78.2 437.4 107.3 428.6 122.5C419.8 137.7 420.6 139.2 415.1 150.0C409.6 160.8 401.6 171.7 395.5 187.6C389.4 203.5 382.0 233.5 378.4 245.2C374.8 256.9 374.6 255.7 373.8 257.8M596.5 -3.2C595.0 -1.7 592.1 1.3 587.5 5.9C582.9 10.5 579.5 14.5 569.1 24.5C558.7 34.5 534.3 57.0 525.0 66.2C515.7 75.4 524.6 68.1 513.2 79.7C501.8 91.3 468.0 124.3 456.8 136.0C445.6 147.7 454.0 140.4 445.8 150.0C437.6 159.6 418.4 177.8 407.8 193.7C397.2 209.6 387.5 234.5 382.0 245.2C376.5 255.9 376.2 255.8 375.0 257.9M681.5 21.8C679.7 23.0 682.0 21.5 670.8 28.9C659.6 36.3 634.9 52.4 614.5 66.2C594.1 80.0 563.2 101.5 548.3 111.5C533.4 121.5 536.0 119.0 525.0 126.2C514.0 133.4 500.2 142.2 482.5 154.5C464.8 166.8 434.9 185.0 418.8 199.9C402.7 214.8 392.8 234.3 385.7 244.0C378.6 253.7 377.7 255.8 376.1 258.1M682.3 100.1C680.4 101.1 676.2 103.2 670.8 105.9C665.4 108.6 657.4 112.4 650.0 116.4C642.6 120.4 638.4 124.4 626.7 130.0C615.1 135.6 596.1 142.8 580.1 150.0C564.1 157.2 543.4 167.6 531.0 172.9C518.6 178.2 522.2 175.9 505.8 181.8C489.4 187.7 449.8 199.9 432.3 208.4C414.8 216.9 408.1 226.9 401.0 233.0C393.9 239.1 392.9 241.8 389.4 245.2C385.9 248.6 382.0 251.3 380.0 253.5C378.0 255.7 377.7 257.6 377.2 258.4M683.1 166.6C681.0 167.2 684.7 166.1 670.8 170.4C656.9 174.7 624.1 185.6 599.8 192.5C575.5 199.4 551.3 207.2 525.0 212.1C498.7 217.0 460.9 218.2 442.1 221.9C423.3 225.6 419.8 230.8 412.0 234.5C404.2 238.2 399.9 241.6 395.5 244.0C391.1 246.4 388.5 246.8 385.7 249.2C382.9 251.6 379.7 257.1 378.5 258.7M683.5 225.1C681.3 225.5 682.9 225.2 670.8 227.3C658.7 229.4 634.3 234.2 610.8 237.8C587.3 241.4 548.4 246.8 529.9 248.9C511.4 251.0 508.6 250.6 500.0 250.6C491.4 250.6 485.6 249.5 478.0 248.7C470.4 247.8 460.9 246.5 454.7 245.5C448.5 244.5 445.4 243.5 440.7 242.8C436.0 242.1 431.6 241.5 426.7 241.1C421.8 240.7 416.4 240.3 411.5 240.5C406.6 240.7 401.6 241.1 397.5 242.3C393.4 243.5 389.9 245.8 387.0 247.5C384.1 249.2 381.2 250.9 380.0 252.8C378.8 254.7 379.7 258.1 379.6 259.1M683.6 273.1C681.5 273.2 682.9 273.1 670.8 273.4C658.7 273.7 634.5 274.6 610.8 274.8C587.1 275.0 547.2 274.7 528.7 274.6C510.2 274.5 507.3 274.8 500.0 274.4C492.7 274.0 490.4 273.4 485.0 272.3C479.6 271.2 472.8 269.7 467.6 267.9C462.4 266.1 457.3 263.6 453.6 261.5C449.9 259.4 448.3 257.3 445.4 255.6C442.5 253.9 439.1 252.3 436.0 251.2C432.9 250.0 430.2 249.5 426.7 248.7C423.2 247.9 418.9 247.0 415.0 246.6C411.1 246.2 406.9 245.8 403.4 246.0C399.9 246.2 396.9 246.7 394.0 247.7C391.1 248.7 388.0 250.5 385.8 251.8C383.6 253.1 381.5 254.1 380.6 255.4C379.7 256.7 380.6 258.9 380.6 259.6M312.1 -6.9C312.6 -4.9 313.0 -3.3 315.3 5.5C317.6 14.3 321.0 27.7 325.8 45.8C330.6 63.9 339.8 96.8 344.2 114.2C348.6 131.6 349.3 138.1 352.1 150.1C354.9 162.1 358.3 170.6 361.1 186.4C363.8 202.3 367.1 233.3 368.7 245.2C370.3 257.1 370.4 255.6 370.7 257.7M231.7 -5.4C232.9 -3.5 231.7 -5.4 238.6 5.5C245.5 16.4 260.6 40.3 273.1 59.9C285.6 79.5 304.5 107.9 313.6 122.9C322.7 138.0 321.9 139.5 327.5 150.3C333.2 161.1 341.3 171.9 347.6 187.7C353.8 203.5 361.3 233.5 365.0 245.2C368.7 256.9 368.8 255.7 369.6 257.8M148.6 -3.7C150.1 -2.2 153.1 0.9 157.6 5.5C162.1 10.1 165.1 13.6 175.4 23.7C185.6 33.7 209.9 56.4 219.1 65.7C228.4 75.0 219.5 67.6 230.8 79.3C242.1 91.0 275.7 124.1 286.9 135.8C298.1 147.6 289.7 140.2 297.8 149.9C306.0 159.5 325.1 177.8 335.7 193.7C346.3 209.6 356.0 234.5 361.4 245.2C366.9 255.9 367.2 255.8 368.4 257.9M61.4 16.7C63.2 17.9 60.5 16.0 72.0 24.0C83.5 32.0 109.7 50.1 130.4 64.5C151.1 78.9 181.2 100.4 196.0 110.6C210.7 120.8 208.2 118.3 219.1 125.5C230.0 132.8 243.7 141.7 261.3 154.1C278.9 166.5 308.7 184.8 324.7 199.8C340.8 214.8 350.6 234.3 357.7 244.0C364.8 253.7 365.7 255.7 367.3 258.1M60.6 98.6C62.5 99.6 66.5 101.6 72.0 104.5C77.5 107.4 86.3 111.6 93.8 115.7C101.3 119.9 105.4 123.8 117.0 129.4C128.7 135.1 147.6 142.4 163.5 149.6C179.5 156.8 200.2 167.3 212.5 172.7C224.9 178.0 221.3 175.7 237.7 181.6C254.1 187.6 293.7 199.8 311.1 208.4C328.6 216.9 335.3 226.9 342.4 233.0C349.6 239.1 350.5 241.8 354.0 245.2C357.5 248.6 361.4 251.3 363.4 253.5C365.4 255.7 365.7 257.6 366.2 258.4M60.3 166.6C62.4 167.2 58.7 166.1 72.6 170.4C86.5 174.7 119.3 185.6 143.6 192.5C167.9 199.4 192.1 207.2 218.4 212.1C244.7 217.0 282.5 218.2 301.3 221.9C320.1 225.6 323.6 230.8 331.4 234.5C339.2 238.2 343.5 241.6 347.9 244.0C352.3 246.4 354.9 246.8 357.7 249.2C360.5 251.6 363.7 257.1 364.9 258.7M59.4 224.6C61.5 224.9 59.8 224.6 72.0 226.8C84.2 229.0 109.1 233.9 132.6 237.6C156.2 241.2 195.1 246.6 213.5 248.8C232.0 251.0 234.8 250.6 243.4 250.5C252.1 250.5 257.9 249.5 265.4 248.7C273.0 247.8 282.5 246.5 288.7 245.5C294.9 244.5 298.0 243.5 302.7 242.8C307.4 242.1 311.8 241.5 316.7 241.1C321.6 240.7 327.0 240.3 331.9 240.5C336.8 240.7 341.8 241.1 345.9 242.3C350.0 243.5 353.5 245.7 356.4 247.5C359.3 249.2 362.2 250.9 363.4 252.8C364.6 254.7 363.7 258.0 363.8 259.1M59.2 270.1C61.3 270.2 59.8 270.1 72.0 270.6C84.2 271.1 108.9 272.5 132.6 273.1C156.4 273.6 196.3 273.7 214.7 273.9C233.2 274.0 236.1 274.3 243.4 273.9C250.7 273.6 253.0 273.0 258.4 272.0C263.8 270.9 270.6 269.4 275.8 267.7C281.1 265.9 286.1 263.4 289.8 261.3C293.5 259.3 295.1 257.2 298.0 255.5C301.0 253.8 304.3 252.2 307.4 251.1C310.6 250.0 313.2 249.4 316.7 248.6C320.2 247.9 324.6 247.0 328.4 246.6C332.3 246.1 336.5 245.8 340.0 246.0C343.5 246.2 346.5 246.7 349.4 247.7C352.3 248.7 355.4 250.5 357.6 251.8C359.8 253.1 361.9 254.1 362.8 255.4C363.7 256.7 362.8 258.9 362.8 259.6M429.2 565.0C428.7 562.9 428.2 561.0 426.1 552.5C424.0 544.0 421.0 531.6 416.4 513.8C411.8 495.9 402.9 462.6 398.6 445.2C394.4 427.8 393.7 421.3 391.0 409.2C388.2 397.2 384.9 388.7 382.2 372.9C379.5 357.0 376.3 326.0 374.7 314.1C373.1 302.2 373.0 303.7 372.7 301.6M511.2 563.3C510.1 561.5 511.1 563.2 504.3 552.5C497.5 541.8 482.8 518.7 470.4 499.4C458.0 480.0 438.9 451.4 429.8 436.4C420.7 421.3 421.6 419.8 415.9 409.0C410.2 398.2 402.1 387.4 395.9 371.6C389.6 355.8 382.1 325.8 378.4 314.1C374.7 302.4 374.6 303.6 373.8 301.5M598.9 561.5C597.4 560.0 594.5 557.2 589.8 552.5C585.1 547.8 581.3 543.6 570.7 533.6C560.1 523.5 535.5 501.4 526.1 492.3C516.6 483.2 525.6 490.5 514.1 478.9C502.6 467.4 468.6 434.7 457.2 423.0C445.9 411.4 454.4 418.7 446.1 409.1C437.9 399.5 418.6 381.4 407.9 365.5C397.2 349.7 387.5 324.8 382.0 314.1C376.5 303.4 376.2 303.5 375.0 301.4M682.1 539.9C680.4 538.7 682.9 540.4 671.5 532.7C660.1 525.0 634.5 507.9 613.9 493.8C593.3 479.7 562.8 458.2 548.0 448.2C533.1 438.1 535.7 440.6 524.7 433.4C513.8 426.2 500.0 417.3 482.3 404.9C464.7 392.6 434.9 374.4 418.7 359.4C402.6 344.5 392.8 325.0 385.7 315.3C378.6 305.6 377.7 303.6 376.1 301.2M683.1 455.3C681.2 454.4 676.8 452.3 671.5 449.8C666.2 447.3 658.8 444.1 651.5 440.3C644.3 436.5 639.7 432.5 628.0 427.1C616.2 421.7 597.1 414.8 581.0 407.9C564.9 400.9 544.0 390.7 531.6 385.6C519.1 380.4 522.8 382.7 506.2 376.9C489.7 371.1 450.0 359.2 432.5 350.8C414.9 342.3 408.2 332.4 401.0 326.3C393.9 320.2 392.9 317.5 389.4 314.1C385.9 310.7 382.0 308.0 380.0 305.8C378.0 303.6 377.7 301.7 377.2 300.9M683.8 392.1C681.7 391.4 685.5 392.6 671.5 388.3C657.5 384.0 624.4 373.3 600.0 366.4C575.6 359.5 551.4 351.8 525.1 347.0C498.8 342.2 461.0 341.1 442.1 337.4C423.3 333.7 419.8 328.5 412.0 324.8C404.2 321.1 399.9 317.7 395.5 315.3C391.1 312.8 388.5 312.5 385.7 310.1C382.9 307.6 379.7 302.2 378.5 300.6M684.1 336.2C682.0 335.9 683.8 336.2 671.5 333.9C659.2 331.6 634.2 326.4 610.6 322.6C587.0 318.7 548.3 313.1 529.8 310.8C511.4 308.6 508.6 309.0 499.9 309.0C491.3 309.0 485.5 310.0 477.9 310.8C470.4 311.6 460.9 312.9 454.7 313.9C448.4 314.9 445.3 315.9 440.7 316.6C436.0 317.3 431.5 317.9 426.7 318.2C421.8 318.6 416.3 319.0 411.5 318.8C406.6 318.6 401.6 318.2 397.5 317.0C393.4 315.8 389.9 313.6 387.0 311.8C384.1 310.1 381.2 308.4 380.0 306.5C378.8 304.6 379.7 301.3 379.6 300.2M684.3 287.9C682.2 287.9 683.8 287.9 671.5 287.5C659.2 287.1 634.6 285.9 610.8 285.5C587.0 285.1 547.2 285.2 528.7 285.1C510.2 285.0 507.3 284.8 500.0 285.2C492.7 285.5 490.4 286.1 485.0 287.2C479.6 288.3 472.8 289.8 467.6 291.5C462.3 293.3 457.3 295.9 453.6 297.9C449.9 299.9 448.3 302.1 445.4 303.8C442.4 305.5 439.1 307.0 436.0 308.2C432.9 309.3 430.2 309.9 426.7 310.6C423.2 311.4 418.9 312.3 415.0 312.7C411.1 313.2 406.9 313.5 403.4 313.3C399.9 313.1 396.9 312.6 394.0 311.6C391.1 310.6 388.0 308.8 385.8 307.5C383.6 306.2 381.5 305.2 380.6 303.9C379.7 302.6 380.6 300.4 380.6 299.7M313.4 565.0C314.0 562.9 314.4 561.0 316.6 552.5C318.8 544.0 321.9 531.6 326.5 513.7C331.2 495.8 340.3 462.6 344.5 445.2C348.8 427.8 349.5 421.3 352.3 409.2C355.1 397.2 358.4 388.7 361.2 372.9C363.9 357.0 367.1 326.0 368.7 314.1C370.3 302.2 370.4 303.7 370.7 301.6M231.7 563.3C232.8 561.5 231.7 563.2 238.6 552.5C245.5 541.8 260.3 518.6 272.8 499.2C285.2 479.9 304.4 451.3 313.5 436.3C322.6 421.3 321.8 419.8 327.4 409.0C333.1 398.2 341.3 387.4 347.5 371.6C353.8 355.8 361.3 325.8 365.0 314.1C368.7 302.4 368.8 303.6 369.6 301.5M150.8 561.6C152.3 560.1 155.6 556.8 159.8 552.5C164.0 548.2 166.0 545.9 176.0 536.1C186.0 526.3 210.3 503.2 219.5 493.9C228.7 484.6 219.9 492.0 231.2 480.3C242.4 468.6 275.9 435.4 287.1 423.6C298.2 411.8 289.9 419.2 298.0 409.5C306.1 399.9 325.2 381.6 335.7 365.7C346.3 349.8 356.0 324.8 361.4 314.1C366.9 303.4 367.2 303.5 368.4 301.4M61.5 546.0C63.3 544.7 60.3 546.8 72.0 538.5C83.7 530.2 110.7 510.9 131.5 496.0C152.2 481.1 181.9 459.6 196.6 449.4C211.3 439.1 208.8 441.6 219.6 434.3C230.4 427.0 244.1 417.9 261.6 405.4C279.2 393.0 308.8 374.6 324.8 359.5C340.8 344.5 350.6 325.0 357.7 315.3C364.8 305.6 365.7 303.6 367.3 301.2M60.5 457.9C62.4 456.9 66.6 454.9 72.0 452.2C77.4 449.5 85.4 445.9 92.8 441.9C100.2 437.9 104.5 434.0 116.2 428.5C127.9 422.9 147.0 415.8 163.0 408.7C179.0 401.7 199.8 391.3 212.2 386.1C224.6 380.8 221.0 383.1 237.4 377.3C253.9 371.4 293.5 359.3 311.0 350.8C328.5 342.4 335.2 332.4 342.4 326.3C349.5 320.2 350.5 317.5 354.0 314.1C357.5 310.7 361.4 308.0 363.4 305.8C365.4 303.6 365.7 301.7 366.2 300.9M59.7 389.6C61.7 389.0 58.1 390.1 72.0 386.0C85.9 381.9 118.7 371.8 143.0 365.2C167.4 358.6 191.7 351.2 218.1 346.5C244.5 341.8 282.3 340.9 301.2 337.2C320.1 333.6 323.6 328.4 331.3 324.8C339.1 321.1 343.5 317.7 347.9 315.3C352.3 312.8 354.9 312.5 357.7 310.1C360.5 307.6 363.7 302.2 364.9 300.6M59.4 336.3C61.5 335.9 59.8 336.2 72.0 333.9C84.2 331.6 109.2 326.4 132.8 322.6C156.4 318.7 195.1 313.1 213.6 310.9C232.0 308.6 234.8 309.0 243.5 309.0C252.1 309.0 257.9 310.0 265.5 310.8C273.0 311.6 282.5 313.0 288.7 313.9C295.0 314.9 298.1 315.9 302.7 316.6C307.4 317.3 311.9 317.9 316.7 318.3C321.6 318.6 327.1 319.0 331.9 318.8C336.8 318.6 341.8 318.2 345.9 317.0C350.0 315.8 353.5 313.6 356.4 311.8C359.3 310.1 362.2 308.4 363.4 306.5C364.6 304.6 363.7 301.3 363.8 300.2M59.2 284.4C61.3 284.3 59.8 284.4 72.0 284.2C84.2 284.0 108.8 283.4 132.6 283.4C156.4 283.4 196.2 284.1 214.7 284.3C233.2 284.5 236.1 284.2 243.4 284.6C250.7 285.0 253.0 285.7 258.4 286.8C263.8 287.9 270.6 289.4 275.8 291.3C281.0 293.1 286.1 295.6 289.8 297.7C293.5 299.8 295.0 301.9 298.0 303.6C300.9 305.3 304.3 306.9 307.4 308.0C310.5 309.2 313.2 309.8 316.7 310.6C320.2 311.3 324.5 312.2 328.4 312.7C332.3 313.1 336.5 313.5 340.0 313.3C343.5 313.1 346.5 312.6 349.4 311.6C352.3 310.6 355.4 308.8 357.6 307.5C359.8 306.2 361.9 305.2 362.8 303.9C363.7 302.6 362.8 300.4 362.8 299.7M388.4 296.4C388.9 296.3 390.6 296.3 391.6 295.9C392.6 295.6 393.2 295.1 394.2 294.2C395.1 293.4 396.5 292.3 397.4 290.8C398.3 289.3 399.2 287.3 399.7 285.4C400.3 283.6 400.6 281.6 400.6 279.6C400.6 277.7 400.3 275.7 399.7 273.9C399.2 272.0 398.3 270.0 397.4 268.5C396.5 267.0 395.1 265.9 394.2 265.1C393.2 264.2 392.6 263.7 391.6 263.4C390.6 263.0 388.9 263.0 388.4 262.9M385.8 298.9C386.7 299.4 389.4 301.2 391.0 301.7C392.5 302.2 393.8 302.2 395.3 301.9C396.7 301.7 398.2 300.9 399.5 300.2C400.9 299.5 402.2 298.7 403.4 297.8C404.6 296.8 405.8 295.8 406.8 294.7C407.8 293.5 408.6 292.3 409.2 290.8C409.7 289.3 410.0 287.3 410.2 285.4C410.5 283.6 410.5 281.6 410.5 279.6C410.5 277.7 410.5 275.7 410.2 273.9C410.0 272.0 409.7 270.0 409.2 268.5C408.6 267.0 407.8 265.8 406.8 264.6C405.8 263.5 404.6 262.5 403.4 261.5C402.2 260.6 400.9 259.8 399.5 259.1C398.2 258.4 396.7 257.6 395.3 257.4C393.8 257.1 392.5 257.1 391.0 257.6C389.4 258.1 386.7 259.9 385.8 260.4M383.7 298.9C384.3 299.4 385.8 301.1 387.1 301.9C388.4 302.8 390.1 303.4 391.6 303.9C393.1 304.3 394.8 304.6 396.3 304.7C397.9 304.9 399.4 304.9 401.0 304.7C402.6 304.6 404.4 304.3 406.0 303.9C407.5 303.5 408.9 303.0 410.2 302.4C411.6 301.7 412.9 300.8 414.1 299.8C415.3 298.8 416.4 297.8 417.3 296.6C418.2 295.4 419.0 294.1 419.7 292.7C420.3 291.4 420.9 289.9 421.4 288.4C421.8 287.0 422.0 285.4 422.2 283.9C422.4 282.5 422.4 281.1 422.4 279.6C422.4 278.2 422.4 276.8 422.2 275.4C422.0 273.9 421.8 272.3 421.4 270.9C420.9 269.4 420.3 267.9 419.7 266.6C419.0 265.2 418.2 263.9 417.3 262.7C416.4 261.5 415.3 260.5 414.1 259.5C412.9 258.5 411.6 257.6 410.2 256.9C408.9 256.3 407.5 255.8 406.0 255.4C404.4 255.0 402.6 254.7 401.0 254.6C399.4 254.4 397.9 254.4 396.3 254.6C394.8 254.7 393.1 255.0 391.6 255.4C390.1 255.9 388.4 256.5 387.1 257.4C385.8 258.2 384.3 259.9 383.7 260.4M382.8 299.4C383.7 300.0 385.9 302.1 387.8 303.2C389.6 304.4 392.0 305.6 394.0 306.2C395.9 306.9 397.6 306.9 399.5 307.1C401.5 307.2 403.2 307.4 405.7 307.1C408.3 306.8 412.1 306.3 414.9 305.4C417.8 304.4 420.7 302.9 423.1 301.3C425.4 299.7 427.5 297.7 429.1 295.5C430.6 293.4 431.7 290.4 432.5 288.4C433.3 286.5 433.7 285.4 434.0 283.9C434.3 282.5 434.4 281.1 434.4 279.6C434.4 278.2 434.3 276.8 434.0 275.4C433.7 273.9 433.3 272.8 432.5 270.9C431.7 268.9 430.6 265.9 429.1 263.8C427.5 261.6 425.4 259.6 423.1 258.0C420.7 256.4 417.8 254.9 414.9 253.9C412.1 253.0 408.3 252.5 405.7 252.2C403.2 251.9 401.5 252.1 399.5 252.2C397.6 252.4 395.9 252.4 394.0 253.1C392.0 253.7 389.6 254.9 387.8 256.1C385.9 257.2 383.7 259.3 382.8 259.9M382.0 299.8C382.9 300.6 385.5 303.3 387.8 304.7C390.0 306.1 392.6 307.4 395.3 308.2C397.9 308.9 400.1 309.3 403.4 309.2C406.7 309.2 411.5 308.6 414.9 307.7C418.4 306.9 421.6 305.5 424.4 304.2C427.1 302.8 429.1 301.4 431.4 299.6C433.8 297.7 436.3 295.6 438.3 293.2C440.3 290.7 442.5 286.7 443.6 284.9C444.7 283.1 444.6 283.1 444.9 282.2C445.2 281.3 445.4 280.5 445.4 279.6C445.4 278.8 445.2 278.0 444.9 277.1C444.6 276.2 444.7 276.2 443.6 274.4C442.5 272.6 440.3 268.6 438.3 266.1C436.3 263.7 433.8 261.6 431.4 259.7C429.1 257.9 427.1 256.5 424.4 255.1C421.6 253.8 418.4 252.4 414.9 251.6C411.5 250.7 406.7 250.1 403.4 250.1C400.1 250.0 397.9 250.4 395.3 251.1C392.6 251.9 390.0 253.2 387.8 254.6C385.5 256.0 382.9 258.7 382.0 259.5M381.3 300.2C382.3 301.1 385.0 304.1 387.1 305.6C389.3 307.1 391.7 308.4 394.2 309.2C396.7 310.0 399.0 310.3 402.1 310.5C405.2 310.7 408.9 310.8 412.6 310.3C416.3 309.8 420.8 308.7 424.4 307.7C427.9 306.7 430.3 306.0 433.8 304.2C437.3 302.3 442.2 299.1 445.4 296.6C448.5 294.1 450.1 291.4 452.4 289.3C454.7 287.2 457.7 285.5 459.1 283.9C460.4 282.3 460.8 281.1 460.8 279.6C460.8 278.2 460.4 277.0 459.1 275.4C457.7 273.8 454.7 272.1 452.4 270.0C450.1 267.9 448.5 265.2 445.4 262.7C442.2 260.2 437.3 257.0 433.8 255.1C430.3 253.3 427.9 252.6 424.4 251.6C420.8 250.6 416.3 249.5 412.6 249.0C408.9 248.5 405.2 248.6 402.1 248.8C399.0 249.0 396.7 249.3 394.2 250.1C391.7 250.9 389.3 252.2 387.1 253.7C385.0 255.2 382.3 258.2 381.3 259.1M380.7 300.4C381.6 301.4 384.2 304.7 386.3 306.4C388.3 308.2 390.7 309.7 393.1 310.7C395.5 311.8 397.4 312.4 400.6 312.9C403.8 313.3 407.2 313.7 412.4 313.3C417.6 312.9 425.6 311.8 431.6 310.3C437.7 308.8 443.8 306.7 448.8 304.3C453.8 301.9 457.1 298.8 461.6 295.7C466.2 292.6 472.0 288.0 476.0 285.7C479.9 283.3 482.4 282.6 485.2 281.6C487.9 280.6 492.5 280.3 492.5 279.6C492.5 279.0 487.9 278.7 485.2 277.7C482.4 276.7 479.9 276.0 476.0 273.6C472.0 271.3 466.2 266.7 461.6 263.6C457.1 260.5 453.8 257.4 448.8 255.0C443.8 252.6 437.7 250.5 431.6 249.0C425.6 247.5 417.6 246.4 412.4 246.0C407.2 245.6 403.8 246.0 400.6 246.4C397.4 246.9 395.5 247.5 393.1 248.6C390.7 249.6 388.3 251.1 386.3 252.9C384.2 254.6 381.6 257.9 380.7 258.9M355.0 296.4C354.3 296.4 352.0 296.9 350.7 296.7C349.4 296.4 348.5 295.8 347.2 294.9C345.9 294.0 344.1 292.8 342.9 291.3C341.6 289.8 340.4 287.6 339.7 285.7C338.9 283.8 338.5 281.7 338.5 279.6C338.5 277.6 338.9 275.5 339.7 273.6C340.4 271.7 341.6 269.5 342.9 268.0C344.1 266.5 345.9 265.3 347.2 264.4C348.5 263.5 349.4 262.9 350.7 262.6C352.0 262.4 354.3 262.9 355.0 262.9M357.6 298.9C356.6 299.5 353.7 301.5 352.0 302.1C350.3 302.7 348.9 302.6 347.3 302.3C345.8 302.1 344.1 301.3 342.7 300.6C341.2 299.9 339.8 299.0 338.5 298.1C337.2 297.1 335.8 296.1 334.8 294.9C333.7 293.7 332.8 292.5 332.2 291.0C331.6 289.4 331.3 287.4 331.0 285.5C330.8 283.6 330.8 281.6 330.8 279.6C330.8 277.7 330.8 275.7 331.0 273.8C331.3 271.9 331.6 269.9 332.2 268.3C332.8 266.8 333.7 265.6 334.8 264.4C335.8 263.2 337.2 262.2 338.5 261.2C339.8 260.3 341.2 259.4 342.7 258.7C344.1 258.0 345.8 257.2 347.3 257.0C348.9 256.7 350.3 256.6 352.0 257.2C353.7 257.8 356.6 259.8 357.6 260.4M359.7 298.9C359.1 299.4 357.6 301.1 356.3 301.9C355.0 302.8 353.3 303.4 351.8 303.9C350.3 304.3 348.6 304.6 347.1 304.7C345.5 304.9 344.0 304.9 342.4 304.7C340.8 304.6 339.0 304.3 337.4 303.9C335.9 303.5 334.5 303.0 333.2 302.4C331.8 301.7 330.5 300.8 329.3 299.8C328.1 298.8 327.0 297.8 326.1 296.6C325.2 295.4 324.4 294.1 323.7 292.7C323.1 291.4 322.5 289.9 322.0 288.4C321.6 287.0 321.4 285.4 321.2 283.9C321.0 282.5 321.0 281.1 321.0 279.6C321.0 278.2 321.0 276.8 321.2 275.4C321.4 273.9 321.6 272.3 322.0 270.9C322.5 269.4 323.1 267.9 323.7 266.6C324.4 265.2 325.2 263.9 326.1 262.7C327.0 261.5 328.1 260.5 329.3 259.5C330.5 258.5 331.8 257.6 333.2 256.9C334.5 256.3 335.9 255.8 337.4 255.4C339.0 255.0 340.8 254.7 342.4 254.6C344.0 254.4 345.5 254.4 347.1 254.6C348.6 254.7 350.3 255.0 351.8 255.4C353.3 255.9 355.0 256.5 356.3 257.4C357.6 258.2 359.1 259.9 359.7 260.4M361.4 299.8C360.5 300.6 358.1 303.0 356.0 304.3C353.9 305.6 351.4 307.0 349.0 307.7C346.5 308.4 344.4 308.8 341.3 308.8C338.2 308.7 333.7 308.1 330.5 307.3C327.2 306.5 324.2 305.1 321.6 303.8C319.0 302.5 317.2 301.1 315.0 299.3C312.8 297.5 310.4 295.3 308.5 292.9C306.6 290.5 304.6 286.6 303.5 284.8C302.5 283.0 302.6 283.0 302.3 282.2C302.0 281.3 301.9 280.5 301.9 279.6C301.9 278.8 302.0 278.0 302.3 277.1C302.6 276.3 302.5 276.3 303.5 274.5C304.6 272.7 306.6 268.8 308.5 266.4C310.4 264.0 312.8 261.8 315.0 260.0C317.2 258.2 319.0 256.8 321.6 255.5C324.2 254.2 327.2 252.8 330.5 252.0C333.7 251.2 338.2 250.6 341.3 250.5C344.4 250.5 346.5 250.9 349.0 251.6C351.4 252.3 353.9 253.7 356.0 255.0C358.1 256.3 360.5 258.7 361.4 259.5M362.1 300.2C361.1 301.1 358.5 304.0 356.4 305.4C354.3 306.9 351.9 308.3 349.5 309.1C347.0 309.9 344.7 310.2 341.7 310.4C338.7 310.5 335.0 310.6 331.4 310.1C327.8 309.7 323.3 308.6 319.8 307.6C316.4 306.6 314.0 305.9 310.6 304.1C307.2 302.2 302.3 299.0 299.3 296.5C296.2 294.0 294.6 291.3 292.3 289.2C290.1 287.1 287.2 285.5 285.8 283.9C284.4 282.3 284.1 281.1 284.1 279.6C284.1 278.2 284.4 277.0 285.8 275.4C287.2 273.8 290.1 272.2 292.3 270.1C294.6 268.0 296.2 265.3 299.3 262.8C302.3 260.3 307.2 257.1 310.6 255.2C314.0 253.4 316.4 252.7 319.8 251.7C323.3 250.7 327.8 249.6 331.4 249.2C335.0 248.7 338.7 248.8 341.7 248.9C344.7 249.1 347.0 249.4 349.5 250.2C351.9 251.0 354.3 252.4 356.4 253.9C358.5 255.3 361.1 258.2 362.1 259.1M362.7 300.4C361.8 301.4 359.2 304.7 357.1 306.4C355.1 308.2 352.7 309.7 350.3 310.7C347.9 311.8 346.2 312.6 342.8 312.9C339.4 313.2 335.0 313.2 329.8 312.4C324.7 311.7 317.9 310.2 312.0 308.2C306.0 306.1 298.5 302.7 294.0 300.1C289.5 297.5 289.5 295.1 285.0 292.5C280.5 290.0 271.5 286.7 267.0 284.9C262.5 283.0 260.9 282.4 258.2 281.6C255.5 280.7 250.7 280.3 250.7 279.6C250.7 279.0 255.5 278.6 258.2 277.7C260.9 276.9 262.5 276.3 267.0 274.4C271.5 272.6 280.5 269.3 285.0 266.8C289.5 264.2 289.5 261.8 294.0 259.2C298.5 256.6 306.0 253.2 312.0 251.1C317.9 249.1 324.7 247.6 329.8 246.9C335.0 246.1 339.4 246.1 342.8 246.4C346.2 246.7 347.9 247.5 350.3 248.6C352.7 249.6 355.1 251.1 357.1 252.9C359.2 254.6 361.8 257.9 362.7 258.9"/><path stroke-width="1.4" stroke-linejoin="miter" d="M369.0 179.9 L371.7 185.9 L374.4 179.9M369.0 106.8 L371.7 112.9 L374.4 106.8M369.0 35.0 L371.7 41.1 L374.4 35.0M368.8 371.5 L371.5 377.5 L374.2 371.5M368.8 443.1 L371.5 449.1 L374.2 443.1M368.8 514.6 L371.5 520.7 L374.2 514.6M380.2 181.0 L381.8 187.4 L385.5 181.9M396.5 108.6 L397.8 115.1 L401.7 109.8M413.7 39.8 L414.9 46.3 L418.9 41.1M394.7 182.0 L395.1 188.6 L399.7 183.9M428.8 116.8 L428.1 123.3 L433.5 119.5M468.1 53.2 L467.2 59.7 L472.7 56.0M408.2 188.0 L407.3 194.6 L412.8 190.9M458.2 130.6 L456.1 136.8 L462.2 134.3M514.8 74.2 L512.6 80.4 L518.7 77.9M570.9 19.1 L568.4 25.2 L574.6 23.0M420.8 194.6 L418.1 200.6 L424.4 198.6M485.2 149.4 L481.7 155.0 L488.2 153.8M551.0 106.4 L547.5 112.0 L554.0 110.9M617.1 61.2 L613.6 66.8 L620.1 65.7M435.8 203.9 L431.4 208.8 L438.0 208.8M509.6 177.6 L504.8 182.1 L511.4 182.7M578.7 147.7 L574.3 152.6 L580.9 152.6M653.0 111.6 L649.1 116.9 L655.7 116.3M446.4 218.2 L441.1 222.1 L447.5 223.4M529.4 208.6 L523.9 212.3 L530.3 213.9M603.9 188.5 L598.9 192.8 L605.4 193.7M458.2 243.4 L451.8 245.0 L457.3 248.7M534.6 245.6 L528.9 249.0 L535.2 251.0M615.3 234.4 L609.7 238.0 L616.1 239.7M459.3 261.7 L452.7 261.0 L456.5 266.3M533.8 271.9 L527.7 274.6 L533.7 277.3M615.7 272.1 L609.7 274.8 L615.8 277.5M357.5 182.0 L361.3 187.4 L362.8 181.0M340.4 110.1 L344.5 115.3 L345.6 108.8M321.9 41.7 L326.1 46.8 L327.1 40.3M343.3 184.0 L347.9 188.7 L348.4 182.1M308.8 120.0 L314.2 123.9 L313.4 117.3M268.3 57.4 L273.8 61.0 L272.8 54.5M330.7 190.8 L336.2 194.5 L335.3 188.0M281.5 134.0 L287.6 136.6 L285.5 130.4M225.3 77.4 L231.4 79.9 L229.2 73.6M169.8 22.0 L176.0 24.3 L173.6 18.2M319.2 198.5 L325.5 200.5 L322.7 194.5M255.5 153.4 L262.0 154.6 L258.6 148.9M190.1 109.8 L196.6 111.0 L193.2 105.4M124.6 63.8 L131.1 65.0 L127.7 59.3M305.4 208.7 L312.0 208.8 L307.7 203.8M232.1 182.5 L238.7 182.0 L233.9 177.4M162.7 152.2 L169.3 152.3 L164.9 147.3M88.0 115.7 L94.6 116.2 L90.6 110.9M295.9 223.4 L302.3 222.1 L297.0 218.2M213.1 213.9 L219.5 212.3 L214.0 208.6M138.0 193.7 L144.5 192.8 L139.5 188.5M286.1 248.7 L291.6 245.0 L285.2 243.4M208.2 250.9 L214.5 248.9 L208.8 245.5M127.3 239.5 L133.7 237.7 L128.1 234.1M286.7 266.1 L290.7 260.9 L284.1 261.4M209.5 276.5 L215.6 273.9 L209.6 271.2M127.5 275.6 L133.6 273.1 L127.6 270.2M385.1 397.5 L389.3 402.6 L390.3 396.1M402.0 469.5 L406.2 474.7 L407.3 468.2M419.8 538.1 L423.8 543.3 L425.0 536.8M391.5 367.7 L396.2 372.4 L396.6 365.9M424.9 433.3 L430.3 437.2 L429.5 430.6M465.2 496.3 L470.8 500.0 L469.8 493.4M386.7 330.5 L391.6 334.9 L391.5 328.3M428.5 394.2 L434.6 396.7 L432.4 390.4M483.1 452.3 L489.3 454.6 L486.8 448.5M538.7 507.8 L545.0 509.9 L542.3 503.8M413.2 358.2 L419.5 360.1 L416.8 354.1M476.8 404.4 L483.2 405.6 L479.8 399.9M542.4 447.6 L548.9 448.8 L545.4 443.2M608.2 493.1 L614.7 494.3 L611.3 488.7M426.7 350.8 L433.3 351.2 L429.2 346.1M500.4 377.8 L507.0 377.2 L502.2 372.7M570.2 406.0 L576.8 406.0 L572.4 401.1M645.5 440.1 L652.1 440.6 L648.1 435.4M436.6 338.9 L443.0 337.6 L437.7 333.6M519.6 348.8 L526.0 347.2 L520.4 343.5M594.4 367.6 L600.9 366.6 L595.9 362.4M408.5 321.5 L414.6 318.9 L408.6 316.1M485.6 312.5 L491.4 309.3 L485.1 307.2M566.1 318.5 L572.5 316.7 L566.9 313.2M646.3 331.7 L652.7 330.3 L647.3 326.5M411.7 315.9 L417.3 312.4 L411.0 310.6M483.6 290.2 L489.0 286.4 L482.5 284.9M560.1 287.8 L566.2 285.2 L560.1 282.5M642.0 289.1 L648.2 286.6 L642.2 283.7M359.4 367.5 L361.0 373.9 L364.7 368.4M343.1 439.5 L344.3 446.0 L348.4 440.8M325.2 508.0 L326.3 514.6 L330.4 509.4M346.8 365.8 L347.2 372.4 L351.8 367.7M313.8 430.5 L313.0 437.1 L318.4 433.3M273.4 493.3 L272.4 499.8 L277.9 496.2M336.1 360.0 L335.2 366.5 L340.7 362.8M288.5 418.0 L286.4 424.3 L292.5 421.7M232.5 475.0 L230.4 481.2 L236.5 478.6M177.6 530.8 L175.2 536.9 L181.3 534.6M326.8 354.2 L324.0 360.2 L330.3 358.2M264.0 400.5 L260.6 406.1 L267.1 404.9M198.9 444.4 L195.5 450.1 L202.0 448.8M133.8 491.1 L130.4 496.8 L136.9 495.4M314.5 346.3 L310.1 351.3 L316.7 351.2M241.4 373.1 L236.6 377.6 L243.1 378.1M171.4 402.0 L167.0 406.9 L173.6 406.9M96.0 437.0 L92.1 442.3 L98.6 441.7M283.8 336.9 L278.0 340.1 L284.2 342.3M200.6 347.3 L195.3 351.2 L201.8 352.5M125.6 367.3 L120.6 371.6 L127.1 372.5M329.6 316.3 L323.5 318.7 L329.4 321.7M253.2 306.6 L247.1 309.1 L253.0 311.9M175.7 313.3 L170.1 316.9 L176.4 318.7M95.1 326.7 L89.7 330.5 L96.1 332.0M182.1 281.2 L176.1 283.8 L182.1 286.5M101.8 281.0 L95.8 283.8 L101.9 286.4M443.8 309.4 L448.3 304.6 L441.8 304.4M457.5 257.2 L451.0 256.1 L454.5 261.6M442.6 302.0 L445.9 296.3 L439.5 297.6M448.2 261.6 L441.8 260.0 L444.9 265.8M448.0 282.2 L445.4 276.2 L442.6 282.1M432.0 296.2 L432.2 289.6 L427.1 293.8M302.7 301.5 L296.1 301.4 L300.3 306.4M291.0 265.3 L293.2 259.1 L287.1 261.5M305.0 297.4 L298.6 296.1 L301.9 301.8M299.6 266.0 L302.7 260.1 L296.3 261.7M304.6 282.1 L301.8 276.2 L299.3 282.2M326.2 291.9 L321.5 287.3 L321.2 293.9"/></g>
<circle cx="371.7" cy="279.6" r="22.6" fill="#000"/>
</g>
<rect x="82.5" y="17" width="124.8" height="185.8" fill="#fff" stroke="#4d5555" stroke-width="1.3"/>
<rect x="98.2" y="62.3" width="29.7" height="117.7" fill="url(#lg)"/>
<g fill="#000">
<rect x="68" y="5.2" width="4" height="551.4"/>
<rect x="68" y="552.8" width="603.9" height="3.8"/>
<rect x="92.87" y="545.9" width="0.9" height="7"/>
<rect x="114.28" y="545.9" width="0.9" height="7"/>
<rect x="135.69" y="545.9" width="0.9" height="7"/>
<rect x="155.80" y="540.6" width="3.6" height="12.3"/>
<rect x="178.51" y="545.9" width="0.9" height="7"/>
<rect x="199.92" y="545.9" width="0.9" height="7"/>
<rect x="221.33" y="545.9" width="0.9" height="7"/>
<rect x="242.74" y="545.9" width="0.9" height="7"/>
<rect x="262.85" y="540.6" width="3.6" height="12.3"/>
<rect x="285.56" y="545.9" width="0.9" height="7"/>
<rect x="306.97" y="545.9" width="0.9" height="7"/>
<rect x="328.38" y="545.9" width="0.9" height="7"/>
<rect x="349.79" y="545.9" width="0.9" height="7"/>
<rect x="369.90" y="540.6" width="3.6" height="12.3"/>
<rect x="392.61" y="545.9" width="0.9" height="7"/>
<rect x="414.02" y="545.9" width="0.9" height="7"/>
<rect x="435.43" y="545.9" width="0.9" height="7"/>
<rect x="456.84" y="545.9" width="0.9" height="7"/>
<rect x="476.95" y="540.6" width="3.6" height="12.3"/>
<rect x="499.66" y="545.9" width="0.9" height="7"/>
<rect x="521.07" y="545.9" width="0.9" height="7"/>
<rect x="542.48" y="545.9" width="0.9" height="7"/>
<rect x="563.89" y="545.9" width="0.9" height="7"/>
<rect x="584.00" y="540.6" width="3.6" height="12.3"/>
<rect x="606.71" y="545.9" width="0.9" height="7"/>
<rect x="628.12" y="545.9" width="0.9" height="7"/>
<rect x="649.53" y="545.9" width="0.9" height="7"/>
<rect x="72" y="536.31" width="6" height="0.9"/>
<rect x="72" y="514.88" width="6" height="0.9"/>
<rect x="72" y="491.90" width="12.2" height="4.1"/>
<rect x="72" y="472.02" width="6" height="0.9"/>
<rect x="72" y="450.59" width="6" height="0.9"/>
<rect x="72" y="429.16" width="6" height="0.9"/>
<rect x="72" y="407.73" width="6" height="0.9"/>
<rect x="72" y="384.75" width="12.2" height="4.1"/>
<rect x="72" y="364.87" width="6" height="0.9"/>
<rect x="72" y="343.44" width="6" height="0.9"/>
<rect x="72" y="322.01" width="6" height="0.9"/>
<rect x="72" y="300.58" width="6" height="0.9"/>
<rect x="72" y="277.60" width="12.2" height="4.1"/>
<rect x="72" y="257.72" width="6" height="0.9"/>
<rect x="72" y="236.29" width="6" height="0.9"/>
<rect x="72" y="214.86" width="6" height="0.9"/>
<rect x="72" y="193.43" width="6" height="0.9"/>
<rect x="72" y="170.45" width="12.2" height="4.1"/>
<rect x="72" y="150.57" width="6" height="0.9"/>
<rect x="72" y="129.14" width="6" height="0.9"/>
<rect x="72" y="107.71" width="6" height="0.9"/>
<rect x="72" y="86.28" width="6" height="0.9"/>
<rect x="72" y="63.30" width="12.2" height="4.1"/>
<rect x="72" y="43.42" width="6" height="0.9"/>
<rect x="72" y="21.99" width="6" height="0.9"/>
</g>
<g font-family="'Liberation Sans', Arial, Helvetica, sans-serif" fill="#000">
<g font-size="19.1px" text-anchor="end">
<text x="190.6" y="72.4">700.0</text>
<text x="190.6" y="95.4">560.0</text>
<text x="190.6" y="118.4">420.0</text>
<text x="190.6" y="141.4">280.0</text>
<text x="190.6" y="164.4">140.0</text>
<text x="190.6" y="187.4">0.0</text>
</g>
<text x="132.3" y="48" font-size="19.5px">|U| km/s</text>
<g font-size="21px" text-anchor="end">
<text x="61.8" y="73.2">10</text>
<text x="61.8" y="180.4">5</text>
<text x="61.8" y="287.5">0</text>
<text x="61.8" y="394.7">-5</text>
<text x="61.8" y="501.8">-10</text>
</g><g font-size="21px" text-anchor="middle">
<text x="157.4" y="576">-10</text>
<text x="264.4" y="576">-5</text>
<text x="371.7" y="576">0</text>
<text x="478.8" y="576">5</text>
<text x="585.8" y="576">10</text>
</g>
<text x="334" y="605.7" font-size="25px" font-weight="bold" textLength="75.5" lengthAdjust="spacingAndGlyphs">Y [Rs]</text>
<text transform="translate(22.2 317.8) rotate(-90)" font-size="25px" font-weight="bold" textLength="74" lengthAdjust="spacingAndGlyphs">Z [Rs]</text>
</g>
</svg>
</body></html>
